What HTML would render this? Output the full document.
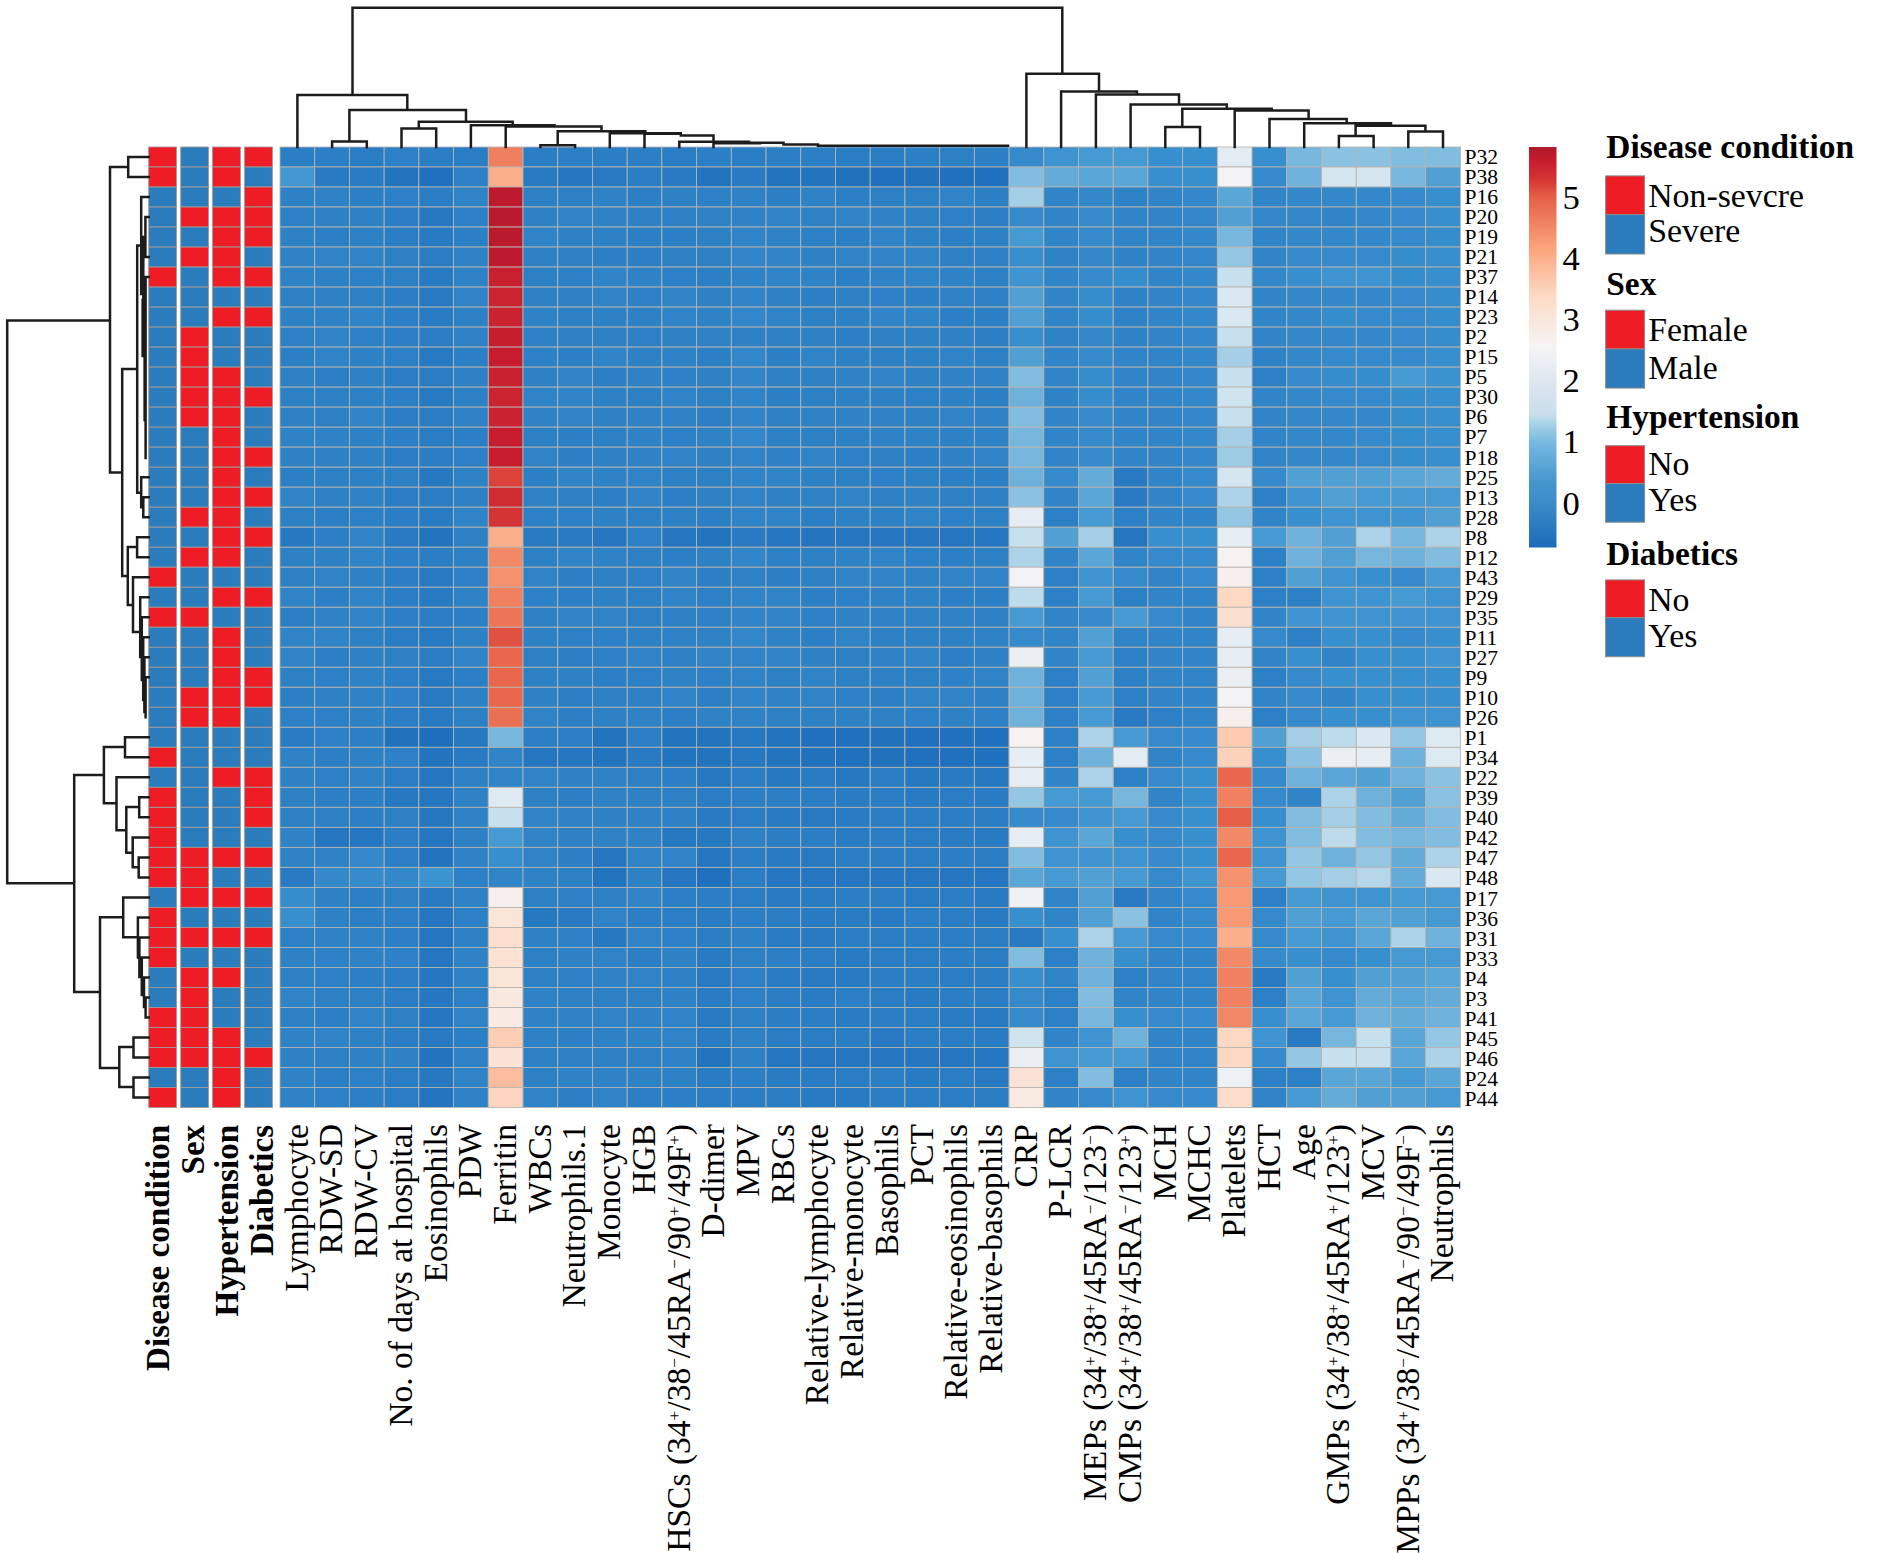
<!DOCTYPE html>
<html><head><meta charset="utf-8"><title>Clustered heatmap</title>
<style>html,body{margin:0;padding:0;background:#fff}svg{display:block}text{font-family:"Liberation Serif",serif}.sp{font-size:17px}</style></head>
<body>
<svg width="1890" height="1553" viewBox="0 0 1890 1553">
<defs><linearGradient id="cb" x1="0" y1="1" x2="0" y2="0">
<stop offset="0.0000" stop-color="#1a6bb9"/>
<stop offset="0.1108" stop-color="#3c8cc8"/>
<stop offset="0.1642" stop-color="#4696cd"/>
<stop offset="0.2177" stop-color="#5faad7"/>
<stop offset="0.2636" stop-color="#78b9e1"/>
<stop offset="0.3063" stop-color="#a5d2e8"/>
<stop offset="0.3323" stop-color="#c8deeb"/>
<stop offset="0.4163" stop-color="#dee6f0"/>
<stop offset="0.5004" stop-color="#f5f4f5"/>
<stop offset="0.6251" stop-color="#fddbc7"/>
<stop offset="0.7500" stop-color="#fba37a"/>
<stop offset="0.8747" stop-color="#e55f47"/>
<stop offset="0.9206" stop-color="#d43434"/>
<stop offset="0.9664" stop-color="#c61c2e"/>
<stop offset="1.0000" stop-color="#ae182b"/>
</linearGradient></defs>
<rect width="1890" height="1553" fill="#fff"/>
<g stroke="#a09a98" stroke-width="0.9">
<rect x="148.70" y="147.00" width="27.80" height="20.01" fill="#ee1c25"/>
<rect x="180.70" y="147.00" width="27.80" height="20.01" fill="#2a7cbd"/>
<rect x="212.60" y="147.00" width="27.80" height="20.01" fill="#ee1c25"/>
<rect x="244.60" y="147.00" width="27.80" height="20.01" fill="#ee1c25"/>
<rect x="148.70" y="167.01" width="27.80" height="20.01" fill="#ee1c25"/>
<rect x="180.70" y="167.01" width="27.80" height="20.01" fill="#2a7cbd"/>
<rect x="212.60" y="167.01" width="27.80" height="20.01" fill="#ee1c25"/>
<rect x="244.60" y="167.01" width="27.80" height="20.01" fill="#2a7cbd"/>
<rect x="148.70" y="187.02" width="27.80" height="20.01" fill="#2a7cbd"/>
<rect x="180.70" y="187.02" width="27.80" height="20.01" fill="#2a7cbd"/>
<rect x="212.60" y="187.02" width="27.80" height="20.01" fill="#2a7cbd"/>
<rect x="244.60" y="187.02" width="27.80" height="20.01" fill="#ee1c25"/>
<rect x="148.70" y="207.03" width="27.80" height="20.01" fill="#2a7cbd"/>
<rect x="180.70" y="207.03" width="27.80" height="20.01" fill="#ee1c25"/>
<rect x="212.60" y="207.03" width="27.80" height="20.01" fill="#ee1c25"/>
<rect x="244.60" y="207.03" width="27.80" height="20.01" fill="#ee1c25"/>
<rect x="148.70" y="227.04" width="27.80" height="20.01" fill="#2a7cbd"/>
<rect x="180.70" y="227.04" width="27.80" height="20.01" fill="#2a7cbd"/>
<rect x="212.60" y="227.04" width="27.80" height="20.01" fill="#ee1c25"/>
<rect x="244.60" y="227.04" width="27.80" height="20.01" fill="#ee1c25"/>
<rect x="148.70" y="247.05" width="27.80" height="20.01" fill="#2a7cbd"/>
<rect x="180.70" y="247.05" width="27.80" height="20.01" fill="#ee1c25"/>
<rect x="212.60" y="247.05" width="27.80" height="20.01" fill="#ee1c25"/>
<rect x="244.60" y="247.05" width="27.80" height="20.01" fill="#2a7cbd"/>
<rect x="148.70" y="267.06" width="27.80" height="20.01" fill="#ee1c25"/>
<rect x="180.70" y="267.06" width="27.80" height="20.01" fill="#2a7cbd"/>
<rect x="212.60" y="267.06" width="27.80" height="20.01" fill="#ee1c25"/>
<rect x="244.60" y="267.06" width="27.80" height="20.01" fill="#ee1c25"/>
<rect x="148.70" y="287.07" width="27.80" height="20.01" fill="#2a7cbd"/>
<rect x="180.70" y="287.07" width="27.80" height="20.01" fill="#2a7cbd"/>
<rect x="212.60" y="287.07" width="27.80" height="20.01" fill="#2a7cbd"/>
<rect x="244.60" y="287.07" width="27.80" height="20.01" fill="#2a7cbd"/>
<rect x="148.70" y="307.08" width="27.80" height="20.01" fill="#2a7cbd"/>
<rect x="180.70" y="307.08" width="27.80" height="20.01" fill="#2a7cbd"/>
<rect x="212.60" y="307.08" width="27.80" height="20.01" fill="#ee1c25"/>
<rect x="244.60" y="307.08" width="27.80" height="20.01" fill="#ee1c25"/>
<rect x="148.70" y="327.09" width="27.80" height="20.01" fill="#2a7cbd"/>
<rect x="180.70" y="327.09" width="27.80" height="20.01" fill="#ee1c25"/>
<rect x="212.60" y="327.09" width="27.80" height="20.01" fill="#2a7cbd"/>
<rect x="244.60" y="327.09" width="27.80" height="20.01" fill="#2a7cbd"/>
<rect x="148.70" y="347.10" width="27.80" height="20.01" fill="#2a7cbd"/>
<rect x="180.70" y="347.10" width="27.80" height="20.01" fill="#ee1c25"/>
<rect x="212.60" y="347.10" width="27.80" height="20.01" fill="#2a7cbd"/>
<rect x="244.60" y="347.10" width="27.80" height="20.01" fill="#2a7cbd"/>
<rect x="148.70" y="367.11" width="27.80" height="20.01" fill="#2a7cbd"/>
<rect x="180.70" y="367.11" width="27.80" height="20.01" fill="#ee1c25"/>
<rect x="212.60" y="367.11" width="27.80" height="20.01" fill="#ee1c25"/>
<rect x="244.60" y="367.11" width="27.80" height="20.01" fill="#2a7cbd"/>
<rect x="148.70" y="387.12" width="27.80" height="20.01" fill="#2a7cbd"/>
<rect x="180.70" y="387.12" width="27.80" height="20.01" fill="#ee1c25"/>
<rect x="212.60" y="387.12" width="27.80" height="20.01" fill="#ee1c25"/>
<rect x="244.60" y="387.12" width="27.80" height="20.01" fill="#ee1c25"/>
<rect x="148.70" y="407.14" width="27.80" height="20.01" fill="#2a7cbd"/>
<rect x="180.70" y="407.14" width="27.80" height="20.01" fill="#ee1c25"/>
<rect x="212.60" y="407.14" width="27.80" height="20.01" fill="#ee1c25"/>
<rect x="244.60" y="407.14" width="27.80" height="20.01" fill="#2a7cbd"/>
<rect x="148.70" y="427.15" width="27.80" height="20.01" fill="#2a7cbd"/>
<rect x="180.70" y="427.15" width="27.80" height="20.01" fill="#2a7cbd"/>
<rect x="212.60" y="427.15" width="27.80" height="20.01" fill="#ee1c25"/>
<rect x="244.60" y="427.15" width="27.80" height="20.01" fill="#2a7cbd"/>
<rect x="148.70" y="447.16" width="27.80" height="20.01" fill="#2a7cbd"/>
<rect x="180.70" y="447.16" width="27.80" height="20.01" fill="#2a7cbd"/>
<rect x="212.60" y="447.16" width="27.80" height="20.01" fill="#ee1c25"/>
<rect x="244.60" y="447.16" width="27.80" height="20.01" fill="#ee1c25"/>
<rect x="148.70" y="467.17" width="27.80" height="20.01" fill="#2a7cbd"/>
<rect x="180.70" y="467.17" width="27.80" height="20.01" fill="#2a7cbd"/>
<rect x="212.60" y="467.17" width="27.80" height="20.01" fill="#ee1c25"/>
<rect x="244.60" y="467.17" width="27.80" height="20.01" fill="#2a7cbd"/>
<rect x="148.70" y="487.18" width="27.80" height="20.01" fill="#2a7cbd"/>
<rect x="180.70" y="487.18" width="27.80" height="20.01" fill="#2a7cbd"/>
<rect x="212.60" y="487.18" width="27.80" height="20.01" fill="#ee1c25"/>
<rect x="244.60" y="487.18" width="27.80" height="20.01" fill="#ee1c25"/>
<rect x="148.70" y="507.19" width="27.80" height="20.01" fill="#2a7cbd"/>
<rect x="180.70" y="507.19" width="27.80" height="20.01" fill="#ee1c25"/>
<rect x="212.60" y="507.19" width="27.80" height="20.01" fill="#ee1c25"/>
<rect x="244.60" y="507.19" width="27.80" height="20.01" fill="#2a7cbd"/>
<rect x="148.70" y="527.20" width="27.80" height="20.01" fill="#2a7cbd"/>
<rect x="180.70" y="527.20" width="27.80" height="20.01" fill="#2a7cbd"/>
<rect x="212.60" y="527.20" width="27.80" height="20.01" fill="#ee1c25"/>
<rect x="244.60" y="527.20" width="27.80" height="20.01" fill="#ee1c25"/>
<rect x="148.70" y="547.21" width="27.80" height="20.01" fill="#2a7cbd"/>
<rect x="180.70" y="547.21" width="27.80" height="20.01" fill="#ee1c25"/>
<rect x="212.60" y="547.21" width="27.80" height="20.01" fill="#ee1c25"/>
<rect x="244.60" y="547.21" width="27.80" height="20.01" fill="#2a7cbd"/>
<rect x="148.70" y="567.22" width="27.80" height="20.01" fill="#ee1c25"/>
<rect x="180.70" y="567.22" width="27.80" height="20.01" fill="#2a7cbd"/>
<rect x="212.60" y="567.22" width="27.80" height="20.01" fill="#2a7cbd"/>
<rect x="244.60" y="567.22" width="27.80" height="20.01" fill="#2a7cbd"/>
<rect x="148.70" y="587.23" width="27.80" height="20.01" fill="#2a7cbd"/>
<rect x="180.70" y="587.23" width="27.80" height="20.01" fill="#2a7cbd"/>
<rect x="212.60" y="587.23" width="27.80" height="20.01" fill="#ee1c25"/>
<rect x="244.60" y="587.23" width="27.80" height="20.01" fill="#ee1c25"/>
<rect x="148.70" y="607.24" width="27.80" height="20.01" fill="#ee1c25"/>
<rect x="180.70" y="607.24" width="27.80" height="20.01" fill="#ee1c25"/>
<rect x="212.60" y="607.24" width="27.80" height="20.01" fill="#2a7cbd"/>
<rect x="244.60" y="607.24" width="27.80" height="20.01" fill="#2a7cbd"/>
<rect x="148.70" y="627.25" width="27.80" height="20.01" fill="#2a7cbd"/>
<rect x="180.70" y="627.25" width="27.80" height="20.01" fill="#2a7cbd"/>
<rect x="212.60" y="627.25" width="27.80" height="20.01" fill="#ee1c25"/>
<rect x="244.60" y="627.25" width="27.80" height="20.01" fill="#2a7cbd"/>
<rect x="148.70" y="647.26" width="27.80" height="20.01" fill="#2a7cbd"/>
<rect x="180.70" y="647.26" width="27.80" height="20.01" fill="#2a7cbd"/>
<rect x="212.60" y="647.26" width="27.80" height="20.01" fill="#ee1c25"/>
<rect x="244.60" y="647.26" width="27.80" height="20.01" fill="#2a7cbd"/>
<rect x="148.70" y="667.27" width="27.80" height="20.01" fill="#2a7cbd"/>
<rect x="180.70" y="667.27" width="27.80" height="20.01" fill="#2a7cbd"/>
<rect x="212.60" y="667.27" width="27.80" height="20.01" fill="#ee1c25"/>
<rect x="244.60" y="667.27" width="27.80" height="20.01" fill="#ee1c25"/>
<rect x="148.70" y="687.28" width="27.80" height="20.01" fill="#2a7cbd"/>
<rect x="180.70" y="687.28" width="27.80" height="20.01" fill="#ee1c25"/>
<rect x="212.60" y="687.28" width="27.80" height="20.01" fill="#ee1c25"/>
<rect x="244.60" y="687.28" width="27.80" height="20.01" fill="#ee1c25"/>
<rect x="148.70" y="707.29" width="27.80" height="20.01" fill="#2a7cbd"/>
<rect x="180.70" y="707.29" width="27.80" height="20.01" fill="#ee1c25"/>
<rect x="212.60" y="707.29" width="27.80" height="20.01" fill="#ee1c25"/>
<rect x="244.60" y="707.29" width="27.80" height="20.01" fill="#2a7cbd"/>
<rect x="148.70" y="727.30" width="27.80" height="20.01" fill="#2a7cbd"/>
<rect x="180.70" y="727.30" width="27.80" height="20.01" fill="#2a7cbd"/>
<rect x="212.60" y="727.30" width="27.80" height="20.01" fill="#2a7cbd"/>
<rect x="244.60" y="727.30" width="27.80" height="20.01" fill="#2a7cbd"/>
<rect x="148.70" y="747.31" width="27.80" height="20.01" fill="#ee1c25"/>
<rect x="180.70" y="747.31" width="27.80" height="20.01" fill="#2a7cbd"/>
<rect x="212.60" y="747.31" width="27.80" height="20.01" fill="#2a7cbd"/>
<rect x="244.60" y="747.31" width="27.80" height="20.01" fill="#2a7cbd"/>
<rect x="148.70" y="767.32" width="27.80" height="20.01" fill="#2a7cbd"/>
<rect x="180.70" y="767.32" width="27.80" height="20.01" fill="#2a7cbd"/>
<rect x="212.60" y="767.32" width="27.80" height="20.01" fill="#ee1c25"/>
<rect x="244.60" y="767.32" width="27.80" height="20.01" fill="#ee1c25"/>
<rect x="148.70" y="787.33" width="27.80" height="20.01" fill="#ee1c25"/>
<rect x="180.70" y="787.33" width="27.80" height="20.01" fill="#2a7cbd"/>
<rect x="212.60" y="787.33" width="27.80" height="20.01" fill="#2a7cbd"/>
<rect x="244.60" y="787.33" width="27.80" height="20.01" fill="#ee1c25"/>
<rect x="148.70" y="807.34" width="27.80" height="20.01" fill="#ee1c25"/>
<rect x="180.70" y="807.34" width="27.80" height="20.01" fill="#2a7cbd"/>
<rect x="212.60" y="807.34" width="27.80" height="20.01" fill="#2a7cbd"/>
<rect x="244.60" y="807.34" width="27.80" height="20.01" fill="#ee1c25"/>
<rect x="148.70" y="827.35" width="27.80" height="20.01" fill="#ee1c25"/>
<rect x="180.70" y="827.35" width="27.80" height="20.01" fill="#2a7cbd"/>
<rect x="212.60" y="827.35" width="27.80" height="20.01" fill="#2a7cbd"/>
<rect x="244.60" y="827.35" width="27.80" height="20.01" fill="#2a7cbd"/>
<rect x="148.70" y="847.36" width="27.80" height="20.01" fill="#ee1c25"/>
<rect x="180.70" y="847.36" width="27.80" height="20.01" fill="#ee1c25"/>
<rect x="212.60" y="847.36" width="27.80" height="20.01" fill="#ee1c25"/>
<rect x="244.60" y="847.36" width="27.80" height="20.01" fill="#ee1c25"/>
<rect x="148.70" y="867.38" width="27.80" height="20.01" fill="#ee1c25"/>
<rect x="180.70" y="867.38" width="27.80" height="20.01" fill="#ee1c25"/>
<rect x="212.60" y="867.38" width="27.80" height="20.01" fill="#2a7cbd"/>
<rect x="244.60" y="867.38" width="27.80" height="20.01" fill="#2a7cbd"/>
<rect x="148.70" y="887.39" width="27.80" height="20.01" fill="#2a7cbd"/>
<rect x="180.70" y="887.39" width="27.80" height="20.01" fill="#ee1c25"/>
<rect x="212.60" y="887.39" width="27.80" height="20.01" fill="#ee1c25"/>
<rect x="244.60" y="887.39" width="27.80" height="20.01" fill="#ee1c25"/>
<rect x="148.70" y="907.40" width="27.80" height="20.01" fill="#ee1c25"/>
<rect x="180.70" y="907.40" width="27.80" height="20.01" fill="#2a7cbd"/>
<rect x="212.60" y="907.40" width="27.80" height="20.01" fill="#2a7cbd"/>
<rect x="244.60" y="907.40" width="27.80" height="20.01" fill="#2a7cbd"/>
<rect x="148.70" y="927.41" width="27.80" height="20.01" fill="#ee1c25"/>
<rect x="180.70" y="927.41" width="27.80" height="20.01" fill="#ee1c25"/>
<rect x="212.60" y="927.41" width="27.80" height="20.01" fill="#ee1c25"/>
<rect x="244.60" y="927.41" width="27.80" height="20.01" fill="#ee1c25"/>
<rect x="148.70" y="947.42" width="27.80" height="20.01" fill="#ee1c25"/>
<rect x="180.70" y="947.42" width="27.80" height="20.01" fill="#2a7cbd"/>
<rect x="212.60" y="947.42" width="27.80" height="20.01" fill="#2a7cbd"/>
<rect x="244.60" y="947.42" width="27.80" height="20.01" fill="#2a7cbd"/>
<rect x="148.70" y="967.43" width="27.80" height="20.01" fill="#2a7cbd"/>
<rect x="180.70" y="967.43" width="27.80" height="20.01" fill="#ee1c25"/>
<rect x="212.60" y="967.43" width="27.80" height="20.01" fill="#ee1c25"/>
<rect x="244.60" y="967.43" width="27.80" height="20.01" fill="#2a7cbd"/>
<rect x="148.70" y="987.44" width="27.80" height="20.01" fill="#2a7cbd"/>
<rect x="180.70" y="987.44" width="27.80" height="20.01" fill="#ee1c25"/>
<rect x="212.60" y="987.44" width="27.80" height="20.01" fill="#2a7cbd"/>
<rect x="244.60" y="987.44" width="27.80" height="20.01" fill="#2a7cbd"/>
<rect x="148.70" y="1007.45" width="27.80" height="20.01" fill="#ee1c25"/>
<rect x="180.70" y="1007.45" width="27.80" height="20.01" fill="#ee1c25"/>
<rect x="212.60" y="1007.45" width="27.80" height="20.01" fill="#2a7cbd"/>
<rect x="244.60" y="1007.45" width="27.80" height="20.01" fill="#2a7cbd"/>
<rect x="148.70" y="1027.46" width="27.80" height="20.01" fill="#ee1c25"/>
<rect x="180.70" y="1027.46" width="27.80" height="20.01" fill="#ee1c25"/>
<rect x="212.60" y="1027.46" width="27.80" height="20.01" fill="#ee1c25"/>
<rect x="244.60" y="1027.46" width="27.80" height="20.01" fill="#2a7cbd"/>
<rect x="148.70" y="1047.47" width="27.80" height="20.01" fill="#ee1c25"/>
<rect x="180.70" y="1047.47" width="27.80" height="20.01" fill="#ee1c25"/>
<rect x="212.60" y="1047.47" width="27.80" height="20.01" fill="#ee1c25"/>
<rect x="244.60" y="1047.47" width="27.80" height="20.01" fill="#ee1c25"/>
<rect x="148.70" y="1067.48" width="27.80" height="20.01" fill="#2a7cbd"/>
<rect x="180.70" y="1067.48" width="27.80" height="20.01" fill="#2a7cbd"/>
<rect x="212.60" y="1067.48" width="27.80" height="20.01" fill="#ee1c25"/>
<rect x="244.60" y="1067.48" width="27.80" height="20.01" fill="#2a7cbd"/>
<rect x="148.70" y="1087.49" width="27.80" height="20.01" fill="#ee1c25"/>
<rect x="180.70" y="1087.49" width="27.80" height="20.01" fill="#2a7cbd"/>
<rect x="212.60" y="1087.49" width="27.80" height="20.01" fill="#ee1c25"/>
<rect x="244.60" y="1087.49" width="27.80" height="20.01" fill="#2a7cbd"/>
</g>
<g stroke="#b8b4b0" stroke-width="0.85">
<rect x="280.00" y="147.00" width="34.72" height="20.01" fill="#2a7ec4"/>
<rect x="314.72" y="147.00" width="34.72" height="20.01" fill="#2b80c5"/>
<rect x="349.44" y="147.00" width="34.72" height="20.01" fill="#297dc3"/>
<rect x="384.15" y="147.00" width="34.72" height="20.01" fill="#2c80c5"/>
<rect x="418.87" y="147.00" width="34.72" height="20.01" fill="#2a7fc4"/>
<rect x="453.59" y="147.00" width="34.72" height="20.01" fill="#297dc3"/>
<rect x="488.31" y="147.00" width="34.72" height="20.01" fill="#ef7f5f"/>
<rect x="523.02" y="147.00" width="34.72" height="20.01" fill="#2a7ec4"/>
<rect x="557.74" y="147.00" width="34.72" height="20.01" fill="#2b7fc4"/>
<rect x="592.46" y="147.00" width="34.72" height="20.01" fill="#2a7fc4"/>
<rect x="627.18" y="147.00" width="34.72" height="20.01" fill="#2b80c5"/>
<rect x="661.89" y="147.00" width="34.72" height="20.01" fill="#297dc3"/>
<rect x="696.61" y="147.00" width="34.72" height="20.01" fill="#2b80c5"/>
<rect x="731.33" y="147.00" width="34.72" height="20.01" fill="#2a7ec4"/>
<rect x="766.05" y="147.00" width="34.72" height="20.01" fill="#2b7fc4"/>
<rect x="800.76" y="147.00" width="34.72" height="20.01" fill="#2b7fc4"/>
<rect x="835.48" y="147.00" width="34.72" height="20.01" fill="#2a7ec4"/>
<rect x="870.20" y="147.00" width="34.72" height="20.01" fill="#2a7ec4"/>
<rect x="904.92" y="147.00" width="34.72" height="20.01" fill="#2b80c5"/>
<rect x="939.64" y="147.00" width="34.72" height="20.01" fill="#2c81c5"/>
<rect x="974.35" y="147.00" width="34.72" height="20.01" fill="#2b80c5"/>
<rect x="1009.07" y="147.00" width="34.72" height="20.01" fill="#348acb"/>
<rect x="1043.79" y="147.00" width="34.72" height="20.01" fill="#3d94d0"/>
<rect x="1078.51" y="147.00" width="34.72" height="20.01" fill="#469ad2"/>
<rect x="1113.22" y="147.00" width="34.72" height="20.01" fill="#469ad2"/>
<rect x="1147.94" y="147.00" width="34.72" height="20.01" fill="#388fcd"/>
<rect x="1182.66" y="147.00" width="34.72" height="20.01" fill="#388fcd"/>
<rect x="1217.38" y="147.00" width="34.72" height="20.01" fill="#e2ecf2"/>
<rect x="1252.09" y="147.00" width="34.72" height="20.01" fill="#388fcd"/>
<rect x="1286.81" y="147.00" width="34.72" height="20.01" fill="#77b7dd"/>
<rect x="1321.53" y="147.00" width="34.72" height="20.01" fill="#8bc2e1"/>
<rect x="1356.25" y="147.00" width="34.72" height="20.01" fill="#8bc2e1"/>
<rect x="1390.96" y="147.00" width="34.72" height="20.01" fill="#81bddf"/>
<rect x="1425.68" y="147.00" width="34.72" height="20.01" fill="#81bddf"/>
<rect x="280.00" y="167.01" width="34.72" height="20.01" fill="#4297d1"/>
<rect x="314.72" y="167.01" width="34.72" height="20.01" fill="#287bc2"/>
<rect x="349.44" y="167.01" width="34.72" height="20.01" fill="#287cc3"/>
<rect x="384.15" y="167.01" width="34.72" height="20.01" fill="#2174be"/>
<rect x="418.87" y="167.01" width="34.72" height="20.01" fill="#1f71bd"/>
<rect x="453.59" y="167.01" width="34.72" height="20.01" fill="#2c80c5"/>
<rect x="488.31" y="167.01" width="34.72" height="20.01" fill="#fbb08b"/>
<rect x="523.02" y="167.01" width="34.72" height="20.01" fill="#287bc2"/>
<rect x="557.74" y="167.01" width="34.72" height="20.01" fill="#2376bf"/>
<rect x="592.46" y="167.01" width="34.72" height="20.01" fill="#277ac2"/>
<rect x="627.18" y="167.01" width="34.72" height="20.01" fill="#2a7ec4"/>
<rect x="661.89" y="167.01" width="34.72" height="20.01" fill="#287bc2"/>
<rect x="696.61" y="167.01" width="34.72" height="20.01" fill="#2174be"/>
<rect x="731.33" y="167.01" width="34.72" height="20.01" fill="#287bc2"/>
<rect x="766.05" y="167.01" width="34.72" height="20.01" fill="#2174be"/>
<rect x="800.76" y="167.01" width="34.72" height="20.01" fill="#2174be"/>
<rect x="835.48" y="167.01" width="34.72" height="20.01" fill="#2072bd"/>
<rect x="870.20" y="167.01" width="34.72" height="20.01" fill="#1f71bd"/>
<rect x="904.92" y="167.01" width="34.72" height="20.01" fill="#2072bd"/>
<rect x="939.64" y="167.01" width="34.72" height="20.01" fill="#1f71bd"/>
<rect x="974.35" y="167.01" width="34.72" height="20.01" fill="#1f71bd"/>
<rect x="1009.07" y="167.01" width="34.72" height="20.01" fill="#81bddf"/>
<rect x="1043.79" y="167.01" width="34.72" height="20.01" fill="#64abd8"/>
<rect x="1078.51" y="167.01" width="34.72" height="20.01" fill="#5aa6d6"/>
<rect x="1113.22" y="167.01" width="34.72" height="20.01" fill="#5aa6d6"/>
<rect x="1147.94" y="167.01" width="34.72" height="20.01" fill="#388fcd"/>
<rect x="1182.66" y="167.01" width="34.72" height="20.01" fill="#388fcd"/>
<rect x="1217.38" y="167.01" width="34.72" height="20.01" fill="#f3f3f5"/>
<rect x="1252.09" y="167.01" width="34.72" height="20.01" fill="#348acb"/>
<rect x="1286.81" y="167.01" width="34.72" height="20.01" fill="#6eb1db"/>
<rect x="1321.53" y="167.01" width="34.72" height="20.01" fill="#d5e6f0"/>
<rect x="1356.25" y="167.01" width="34.72" height="20.01" fill="#d5e6f0"/>
<rect x="1390.96" y="167.01" width="34.72" height="20.01" fill="#77b7dd"/>
<rect x="1425.68" y="167.01" width="34.72" height="20.01" fill="#50a0d4"/>
<rect x="280.00" y="187.02" width="34.72" height="20.01" fill="#2d82c6"/>
<rect x="314.72" y="187.02" width="34.72" height="20.01" fill="#2e83c6"/>
<rect x="349.44" y="187.02" width="34.72" height="20.01" fill="#2b80c5"/>
<rect x="384.15" y="187.02" width="34.72" height="20.01" fill="#2c80c5"/>
<rect x="418.87" y="187.02" width="34.72" height="20.01" fill="#297dc3"/>
<rect x="453.59" y="187.02" width="34.72" height="20.01" fill="#2f84c7"/>
<rect x="488.31" y="187.02" width="34.72" height="20.01" fill="#bd1b2d"/>
<rect x="523.02" y="187.02" width="34.72" height="20.01" fill="#2c81c5"/>
<rect x="557.74" y="187.02" width="34.72" height="20.01" fill="#2c81c5"/>
<rect x="592.46" y="187.02" width="34.72" height="20.01" fill="#2e83c6"/>
<rect x="627.18" y="187.02" width="34.72" height="20.01" fill="#2b7fc4"/>
<rect x="661.89" y="187.02" width="34.72" height="20.01" fill="#2d82c6"/>
<rect x="696.61" y="187.02" width="34.72" height="20.01" fill="#2c80c5"/>
<rect x="731.33" y="187.02" width="34.72" height="20.01" fill="#2e83c6"/>
<rect x="766.05" y="187.02" width="34.72" height="20.01" fill="#2b80c5"/>
<rect x="800.76" y="187.02" width="34.72" height="20.01" fill="#2e83c7"/>
<rect x="835.48" y="187.02" width="34.72" height="20.01" fill="#2b80c5"/>
<rect x="870.20" y="187.02" width="34.72" height="20.01" fill="#2c81c5"/>
<rect x="904.92" y="187.02" width="34.72" height="20.01" fill="#2c81c5"/>
<rect x="939.64" y="187.02" width="34.72" height="20.01" fill="#2e84c7"/>
<rect x="974.35" y="187.02" width="34.72" height="20.01" fill="#2b80c5"/>
<rect x="1009.07" y="187.02" width="34.72" height="20.01" fill="#a5cfe6"/>
<rect x="1043.79" y="187.02" width="34.72" height="20.01" fill="#3085c8"/>
<rect x="1078.51" y="187.02" width="34.72" height="20.01" fill="#3288c9"/>
<rect x="1113.22" y="187.02" width="34.72" height="20.01" fill="#2e83c6"/>
<rect x="1147.94" y="187.02" width="34.72" height="20.01" fill="#3085c8"/>
<rect x="1182.66" y="187.02" width="34.72" height="20.01" fill="#3288c9"/>
<rect x="1217.38" y="187.02" width="34.72" height="20.01" fill="#5aa6d6"/>
<rect x="1252.09" y="187.02" width="34.72" height="20.01" fill="#3085c8"/>
<rect x="1286.81" y="187.02" width="34.72" height="20.01" fill="#3288c9"/>
<rect x="1321.53" y="187.02" width="34.72" height="20.01" fill="#3288c9"/>
<rect x="1356.25" y="187.02" width="34.72" height="20.01" fill="#3288c9"/>
<rect x="1390.96" y="187.02" width="34.72" height="20.01" fill="#348acb"/>
<rect x="1425.68" y="187.02" width="34.72" height="20.01" fill="#388fcd"/>
<rect x="280.00" y="207.03" width="34.72" height="20.01" fill="#2c80c5"/>
<rect x="314.72" y="207.03" width="34.72" height="20.01" fill="#2d82c6"/>
<rect x="349.44" y="207.03" width="34.72" height="20.01" fill="#2d82c6"/>
<rect x="384.15" y="207.03" width="34.72" height="20.01" fill="#2a7ec4"/>
<rect x="418.87" y="207.03" width="34.72" height="20.01" fill="#2679c1"/>
<rect x="453.59" y="207.03" width="34.72" height="20.01" fill="#2d81c6"/>
<rect x="488.31" y="207.03" width="34.72" height="20.01" fill="#b91a2c"/>
<rect x="523.02" y="207.03" width="34.72" height="20.01" fill="#2d82c6"/>
<rect x="557.74" y="207.03" width="34.72" height="20.01" fill="#2f84c7"/>
<rect x="592.46" y="207.03" width="34.72" height="20.01" fill="#2e83c6"/>
<rect x="627.18" y="207.03" width="34.72" height="20.01" fill="#2d82c6"/>
<rect x="661.89" y="207.03" width="34.72" height="20.01" fill="#2d82c6"/>
<rect x="696.61" y="207.03" width="34.72" height="20.01" fill="#2e83c6"/>
<rect x="731.33" y="207.03" width="34.72" height="20.01" fill="#2e83c6"/>
<rect x="766.05" y="207.03" width="34.72" height="20.01" fill="#2f84c7"/>
<rect x="800.76" y="207.03" width="34.72" height="20.01" fill="#2e83c7"/>
<rect x="835.48" y="207.03" width="34.72" height="20.01" fill="#2e84c7"/>
<rect x="870.20" y="207.03" width="34.72" height="20.01" fill="#2e83c7"/>
<rect x="904.92" y="207.03" width="34.72" height="20.01" fill="#2c81c5"/>
<rect x="939.64" y="207.03" width="34.72" height="20.01" fill="#2c81c6"/>
<rect x="974.35" y="207.03" width="34.72" height="20.01" fill="#2b80c5"/>
<rect x="1009.07" y="207.03" width="34.72" height="20.01" fill="#348acb"/>
<rect x="1043.79" y="207.03" width="34.72" height="20.01" fill="#3085c8"/>
<rect x="1078.51" y="207.03" width="34.72" height="20.01" fill="#348acb"/>
<rect x="1113.22" y="207.03" width="34.72" height="20.01" fill="#3085c8"/>
<rect x="1147.94" y="207.03" width="34.72" height="20.01" fill="#3085c8"/>
<rect x="1182.66" y="207.03" width="34.72" height="20.01" fill="#3288c9"/>
<rect x="1217.38" y="207.03" width="34.72" height="20.01" fill="#50a0d4"/>
<rect x="1252.09" y="207.03" width="34.72" height="20.01" fill="#3288c9"/>
<rect x="1286.81" y="207.03" width="34.72" height="20.01" fill="#3288c9"/>
<rect x="1321.53" y="207.03" width="34.72" height="20.01" fill="#3085c8"/>
<rect x="1356.25" y="207.03" width="34.72" height="20.01" fill="#3288c9"/>
<rect x="1390.96" y="207.03" width="34.72" height="20.01" fill="#348acb"/>
<rect x="1425.68" y="207.03" width="34.72" height="20.01" fill="#388fcd"/>
<rect x="280.00" y="227.04" width="34.72" height="20.01" fill="#2d82c6"/>
<rect x="314.72" y="227.04" width="34.72" height="20.01" fill="#2b80c5"/>
<rect x="349.44" y="227.04" width="34.72" height="20.01" fill="#2c81c5"/>
<rect x="384.15" y="227.04" width="34.72" height="20.01" fill="#2a7fc4"/>
<rect x="418.87" y="227.04" width="34.72" height="20.01" fill="#277bc2"/>
<rect x="453.59" y="227.04" width="34.72" height="20.01" fill="#2b80c5"/>
<rect x="488.31" y="227.04" width="34.72" height="20.01" fill="#b91a2c"/>
<rect x="523.02" y="227.04" width="34.72" height="20.01" fill="#2f84c7"/>
<rect x="557.74" y="227.04" width="34.72" height="20.01" fill="#2d82c6"/>
<rect x="592.46" y="227.04" width="34.72" height="20.01" fill="#2d82c6"/>
<rect x="627.18" y="227.04" width="34.72" height="20.01" fill="#2b80c5"/>
<rect x="661.89" y="227.04" width="34.72" height="20.01" fill="#2b80c5"/>
<rect x="696.61" y="227.04" width="34.72" height="20.01" fill="#2c81c5"/>
<rect x="731.33" y="227.04" width="34.72" height="20.01" fill="#2e84c7"/>
<rect x="766.05" y="227.04" width="34.72" height="20.01" fill="#2e83c7"/>
<rect x="800.76" y="227.04" width="34.72" height="20.01" fill="#2c80c5"/>
<rect x="835.48" y="227.04" width="34.72" height="20.01" fill="#2b7fc4"/>
<rect x="870.20" y="227.04" width="34.72" height="20.01" fill="#2f84c7"/>
<rect x="904.92" y="227.04" width="34.72" height="20.01" fill="#2d82c6"/>
<rect x="939.64" y="227.04" width="34.72" height="20.01" fill="#2b80c5"/>
<rect x="974.35" y="227.04" width="34.72" height="20.01" fill="#2d82c6"/>
<rect x="1009.07" y="227.04" width="34.72" height="20.01" fill="#469ad2"/>
<rect x="1043.79" y="227.04" width="34.72" height="20.01" fill="#3085c8"/>
<rect x="1078.51" y="227.04" width="34.72" height="20.01" fill="#348acb"/>
<rect x="1113.22" y="227.04" width="34.72" height="20.01" fill="#3085c8"/>
<rect x="1147.94" y="227.04" width="34.72" height="20.01" fill="#3085c8"/>
<rect x="1182.66" y="227.04" width="34.72" height="20.01" fill="#3288c9"/>
<rect x="1217.38" y="227.04" width="34.72" height="20.01" fill="#77b7dd"/>
<rect x="1252.09" y="227.04" width="34.72" height="20.01" fill="#3085c8"/>
<rect x="1286.81" y="227.04" width="34.72" height="20.01" fill="#3288c9"/>
<rect x="1321.53" y="227.04" width="34.72" height="20.01" fill="#3288c9"/>
<rect x="1356.25" y="227.04" width="34.72" height="20.01" fill="#3288c9"/>
<rect x="1390.96" y="227.04" width="34.72" height="20.01" fill="#348acb"/>
<rect x="1425.68" y="227.04" width="34.72" height="20.01" fill="#368dcc"/>
<rect x="280.00" y="247.05" width="34.72" height="20.01" fill="#2e83c7"/>
<rect x="314.72" y="247.05" width="34.72" height="20.01" fill="#2f84c7"/>
<rect x="349.44" y="247.05" width="34.72" height="20.01" fill="#2e84c7"/>
<rect x="384.15" y="247.05" width="34.72" height="20.01" fill="#2c81c5"/>
<rect x="418.87" y="247.05" width="34.72" height="20.01" fill="#297dc3"/>
<rect x="453.59" y="247.05" width="34.72" height="20.01" fill="#2e83c6"/>
<rect x="488.31" y="247.05" width="34.72" height="20.01" fill="#bd1b2d"/>
<rect x="523.02" y="247.05" width="34.72" height="20.01" fill="#2d82c6"/>
<rect x="557.74" y="247.05" width="34.72" height="20.01" fill="#2c81c5"/>
<rect x="592.46" y="247.05" width="34.72" height="20.01" fill="#2b7fc4"/>
<rect x="627.18" y="247.05" width="34.72" height="20.01" fill="#2b7fc4"/>
<rect x="661.89" y="247.05" width="34.72" height="20.01" fill="#2c81c5"/>
<rect x="696.61" y="247.05" width="34.72" height="20.01" fill="#2c81c5"/>
<rect x="731.33" y="247.05" width="34.72" height="20.01" fill="#3086c8"/>
<rect x="766.05" y="247.05" width="34.72" height="20.01" fill="#2f84c7"/>
<rect x="800.76" y="247.05" width="34.72" height="20.01" fill="#2d82c6"/>
<rect x="835.48" y="247.05" width="34.72" height="20.01" fill="#2f84c7"/>
<rect x="870.20" y="247.05" width="34.72" height="20.01" fill="#2f84c7"/>
<rect x="904.92" y="247.05" width="34.72" height="20.01" fill="#2f84c7"/>
<rect x="939.64" y="247.05" width="34.72" height="20.01" fill="#2c81c5"/>
<rect x="974.35" y="247.05" width="34.72" height="20.01" fill="#2c80c5"/>
<rect x="1009.07" y="247.05" width="34.72" height="20.01" fill="#388fcd"/>
<rect x="1043.79" y="247.05" width="34.72" height="20.01" fill="#2e83c6"/>
<rect x="1078.51" y="247.05" width="34.72" height="20.01" fill="#3288c9"/>
<rect x="1113.22" y="247.05" width="34.72" height="20.01" fill="#2e83c6"/>
<rect x="1147.94" y="247.05" width="34.72" height="20.01" fill="#3085c8"/>
<rect x="1182.66" y="247.05" width="34.72" height="20.01" fill="#3288c9"/>
<rect x="1217.38" y="247.05" width="34.72" height="20.01" fill="#94c7e3"/>
<rect x="1252.09" y="247.05" width="34.72" height="20.01" fill="#3085c8"/>
<rect x="1286.81" y="247.05" width="34.72" height="20.01" fill="#348acb"/>
<rect x="1321.53" y="247.05" width="34.72" height="20.01" fill="#348acb"/>
<rect x="1356.25" y="247.05" width="34.72" height="20.01" fill="#348acb"/>
<rect x="1390.96" y="247.05" width="34.72" height="20.01" fill="#368dcc"/>
<rect x="1425.68" y="247.05" width="34.72" height="20.01" fill="#388fcd"/>
<rect x="280.00" y="267.06" width="34.72" height="20.01" fill="#2e83c6"/>
<rect x="314.72" y="267.06" width="34.72" height="20.01" fill="#2d82c6"/>
<rect x="349.44" y="267.06" width="34.72" height="20.01" fill="#2c80c5"/>
<rect x="384.15" y="267.06" width="34.72" height="20.01" fill="#2c81c5"/>
<rect x="418.87" y="267.06" width="34.72" height="20.01" fill="#277bc2"/>
<rect x="453.59" y="267.06" width="34.72" height="20.01" fill="#2e83c7"/>
<rect x="488.31" y="267.06" width="34.72" height="20.01" fill="#c8202f"/>
<rect x="523.02" y="267.06" width="34.72" height="20.01" fill="#2c81c5"/>
<rect x="557.74" y="267.06" width="34.72" height="20.01" fill="#2c81c6"/>
<rect x="592.46" y="267.06" width="34.72" height="20.01" fill="#2f84c7"/>
<rect x="627.18" y="267.06" width="34.72" height="20.01" fill="#2e83c6"/>
<rect x="661.89" y="267.06" width="34.72" height="20.01" fill="#2c80c5"/>
<rect x="696.61" y="267.06" width="34.72" height="20.01" fill="#2b80c5"/>
<rect x="731.33" y="267.06" width="34.72" height="20.01" fill="#2e83c6"/>
<rect x="766.05" y="267.06" width="34.72" height="20.01" fill="#2f84c7"/>
<rect x="800.76" y="267.06" width="34.72" height="20.01" fill="#2e83c7"/>
<rect x="835.48" y="267.06" width="34.72" height="20.01" fill="#2b80c5"/>
<rect x="870.20" y="267.06" width="34.72" height="20.01" fill="#2e83c7"/>
<rect x="904.92" y="267.06" width="34.72" height="20.01" fill="#2f84c7"/>
<rect x="939.64" y="267.06" width="34.72" height="20.01" fill="#2e83c6"/>
<rect x="974.35" y="267.06" width="34.72" height="20.01" fill="#2c81c5"/>
<rect x="1009.07" y="267.06" width="34.72" height="20.01" fill="#3d94d0"/>
<rect x="1043.79" y="267.06" width="34.72" height="20.01" fill="#3085c8"/>
<rect x="1078.51" y="267.06" width="34.72" height="20.01" fill="#348acb"/>
<rect x="1113.22" y="267.06" width="34.72" height="20.01" fill="#368dcc"/>
<rect x="1147.94" y="267.06" width="34.72" height="20.01" fill="#3085c8"/>
<rect x="1182.66" y="267.06" width="34.72" height="20.01" fill="#3288c9"/>
<rect x="1217.38" y="267.06" width="34.72" height="20.01" fill="#c7e0ee"/>
<rect x="1252.09" y="267.06" width="34.72" height="20.01" fill="#3288c9"/>
<rect x="1286.81" y="267.06" width="34.72" height="20.01" fill="#388fcd"/>
<rect x="1321.53" y="267.06" width="34.72" height="20.01" fill="#3d94d0"/>
<rect x="1356.25" y="267.06" width="34.72" height="20.01" fill="#3d94d0"/>
<rect x="1390.96" y="267.06" width="34.72" height="20.01" fill="#368dcc"/>
<rect x="1425.68" y="267.06" width="34.72" height="20.01" fill="#388fcd"/>
<rect x="280.00" y="287.07" width="34.72" height="20.01" fill="#2c81c5"/>
<rect x="314.72" y="287.07" width="34.72" height="20.01" fill="#2d82c6"/>
<rect x="349.44" y="287.07" width="34.72" height="20.01" fill="#2c81c5"/>
<rect x="384.15" y="287.07" width="34.72" height="20.01" fill="#2a7fc4"/>
<rect x="418.87" y="287.07" width="34.72" height="20.01" fill="#267ac1"/>
<rect x="453.59" y="287.07" width="34.72" height="20.01" fill="#2f84c7"/>
<rect x="488.31" y="287.07" width="34.72" height="20.01" fill="#cb2430"/>
<rect x="523.02" y="287.07" width="34.72" height="20.01" fill="#2d82c6"/>
<rect x="557.74" y="287.07" width="34.72" height="20.01" fill="#2d82c6"/>
<rect x="592.46" y="287.07" width="34.72" height="20.01" fill="#2f84c7"/>
<rect x="627.18" y="287.07" width="34.72" height="20.01" fill="#2d81c6"/>
<rect x="661.89" y="287.07" width="34.72" height="20.01" fill="#2f84c7"/>
<rect x="696.61" y="287.07" width="34.72" height="20.01" fill="#2d82c6"/>
<rect x="731.33" y="287.07" width="34.72" height="20.01" fill="#3085c8"/>
<rect x="766.05" y="287.07" width="34.72" height="20.01" fill="#2d82c6"/>
<rect x="800.76" y="287.07" width="34.72" height="20.01" fill="#2b7fc4"/>
<rect x="835.48" y="287.07" width="34.72" height="20.01" fill="#2d82c6"/>
<rect x="870.20" y="287.07" width="34.72" height="20.01" fill="#2c80c5"/>
<rect x="904.92" y="287.07" width="34.72" height="20.01" fill="#2b7fc4"/>
<rect x="939.64" y="287.07" width="34.72" height="20.01" fill="#2e83c7"/>
<rect x="974.35" y="287.07" width="34.72" height="20.01" fill="#2c80c5"/>
<rect x="1009.07" y="287.07" width="34.72" height="20.01" fill="#50a0d4"/>
<rect x="1043.79" y="287.07" width="34.72" height="20.01" fill="#3085c8"/>
<rect x="1078.51" y="287.07" width="34.72" height="20.01" fill="#368dcc"/>
<rect x="1113.22" y="287.07" width="34.72" height="20.01" fill="#2e83c6"/>
<rect x="1147.94" y="287.07" width="34.72" height="20.01" fill="#3085c8"/>
<rect x="1182.66" y="287.07" width="34.72" height="20.01" fill="#3288c9"/>
<rect x="1217.38" y="287.07" width="34.72" height="20.01" fill="#d9e8f1"/>
<rect x="1252.09" y="287.07" width="34.72" height="20.01" fill="#3085c8"/>
<rect x="1286.81" y="287.07" width="34.72" height="20.01" fill="#3288c9"/>
<rect x="1321.53" y="287.07" width="34.72" height="20.01" fill="#3288c9"/>
<rect x="1356.25" y="287.07" width="34.72" height="20.01" fill="#3288c9"/>
<rect x="1390.96" y="287.07" width="34.72" height="20.01" fill="#348acb"/>
<rect x="1425.68" y="287.07" width="34.72" height="20.01" fill="#368dcc"/>
<rect x="280.00" y="307.08" width="34.72" height="20.01" fill="#2d82c6"/>
<rect x="314.72" y="307.08" width="34.72" height="20.01" fill="#2e83c7"/>
<rect x="349.44" y="307.08" width="34.72" height="20.01" fill="#2f84c7"/>
<rect x="384.15" y="307.08" width="34.72" height="20.01" fill="#2b7fc4"/>
<rect x="418.87" y="307.08" width="34.72" height="20.01" fill="#287cc3"/>
<rect x="453.59" y="307.08" width="34.72" height="20.01" fill="#2d82c6"/>
<rect x="488.31" y="307.08" width="34.72" height="20.01" fill="#ca2230"/>
<rect x="523.02" y="307.08" width="34.72" height="20.01" fill="#2e83c6"/>
<rect x="557.74" y="307.08" width="34.72" height="20.01" fill="#2d82c6"/>
<rect x="592.46" y="307.08" width="34.72" height="20.01" fill="#2d82c6"/>
<rect x="627.18" y="307.08" width="34.72" height="20.01" fill="#2d82c6"/>
<rect x="661.89" y="307.08" width="34.72" height="20.01" fill="#2f84c7"/>
<rect x="696.61" y="307.08" width="34.72" height="20.01" fill="#2e83c6"/>
<rect x="731.33" y="307.08" width="34.72" height="20.01" fill="#3187c9"/>
<rect x="766.05" y="307.08" width="34.72" height="20.01" fill="#2f84c7"/>
<rect x="800.76" y="307.08" width="34.72" height="20.01" fill="#2c81c5"/>
<rect x="835.48" y="307.08" width="34.72" height="20.01" fill="#2d82c6"/>
<rect x="870.20" y="307.08" width="34.72" height="20.01" fill="#2f84c7"/>
<rect x="904.92" y="307.08" width="34.72" height="20.01" fill="#2e84c7"/>
<rect x="939.64" y="307.08" width="34.72" height="20.01" fill="#2b80c5"/>
<rect x="974.35" y="307.08" width="34.72" height="20.01" fill="#2b80c5"/>
<rect x="1009.07" y="307.08" width="34.72" height="20.01" fill="#50a0d4"/>
<rect x="1043.79" y="307.08" width="34.72" height="20.01" fill="#3085c8"/>
<rect x="1078.51" y="307.08" width="34.72" height="20.01" fill="#368dcc"/>
<rect x="1113.22" y="307.08" width="34.72" height="20.01" fill="#2e83c6"/>
<rect x="1147.94" y="307.08" width="34.72" height="20.01" fill="#3085c8"/>
<rect x="1182.66" y="307.08" width="34.72" height="20.01" fill="#3288c9"/>
<rect x="1217.38" y="307.08" width="34.72" height="20.01" fill="#d9e8f1"/>
<rect x="1252.09" y="307.08" width="34.72" height="20.01" fill="#3085c8"/>
<rect x="1286.81" y="307.08" width="34.72" height="20.01" fill="#3288c9"/>
<rect x="1321.53" y="307.08" width="34.72" height="20.01" fill="#368dcc"/>
<rect x="1356.25" y="307.08" width="34.72" height="20.01" fill="#348acb"/>
<rect x="1390.96" y="307.08" width="34.72" height="20.01" fill="#348acb"/>
<rect x="1425.68" y="307.08" width="34.72" height="20.01" fill="#368dcc"/>
<rect x="280.00" y="327.09" width="34.72" height="20.01" fill="#2c80c5"/>
<rect x="314.72" y="327.09" width="34.72" height="20.01" fill="#2f84c7"/>
<rect x="349.44" y="327.09" width="34.72" height="20.01" fill="#2c81c6"/>
<rect x="384.15" y="327.09" width="34.72" height="20.01" fill="#2b7fc4"/>
<rect x="418.87" y="327.09" width="34.72" height="20.01" fill="#2a7ec4"/>
<rect x="453.59" y="327.09" width="34.72" height="20.01" fill="#2e83c7"/>
<rect x="488.31" y="327.09" width="34.72" height="20.01" fill="#c71e2e"/>
<rect x="523.02" y="327.09" width="34.72" height="20.01" fill="#2d81c6"/>
<rect x="557.74" y="327.09" width="34.72" height="20.01" fill="#2d82c6"/>
<rect x="592.46" y="327.09" width="34.72" height="20.01" fill="#2c81c5"/>
<rect x="627.18" y="327.09" width="34.72" height="20.01" fill="#2c80c5"/>
<rect x="661.89" y="327.09" width="34.72" height="20.01" fill="#2c81c5"/>
<rect x="696.61" y="327.09" width="34.72" height="20.01" fill="#2e83c6"/>
<rect x="731.33" y="327.09" width="34.72" height="20.01" fill="#2d82c6"/>
<rect x="766.05" y="327.09" width="34.72" height="20.01" fill="#2d82c6"/>
<rect x="800.76" y="327.09" width="34.72" height="20.01" fill="#2d82c6"/>
<rect x="835.48" y="327.09" width="34.72" height="20.01" fill="#2b7fc4"/>
<rect x="870.20" y="327.09" width="34.72" height="20.01" fill="#2c81c5"/>
<rect x="904.92" y="327.09" width="34.72" height="20.01" fill="#2d82c6"/>
<rect x="939.64" y="327.09" width="34.72" height="20.01" fill="#2d82c6"/>
<rect x="974.35" y="327.09" width="34.72" height="20.01" fill="#2b80c5"/>
<rect x="1009.07" y="327.09" width="34.72" height="20.01" fill="#388fcd"/>
<rect x="1043.79" y="327.09" width="34.72" height="20.01" fill="#2e83c6"/>
<rect x="1078.51" y="327.09" width="34.72" height="20.01" fill="#3288c9"/>
<rect x="1113.22" y="327.09" width="34.72" height="20.01" fill="#2e83c6"/>
<rect x="1147.94" y="327.09" width="34.72" height="20.01" fill="#3085c8"/>
<rect x="1182.66" y="327.09" width="34.72" height="20.01" fill="#3288c9"/>
<rect x="1217.38" y="327.09" width="34.72" height="20.01" fill="#c7e0ee"/>
<rect x="1252.09" y="327.09" width="34.72" height="20.01" fill="#3085c8"/>
<rect x="1286.81" y="327.09" width="34.72" height="20.01" fill="#3288c9"/>
<rect x="1321.53" y="327.09" width="34.72" height="20.01" fill="#3288c9"/>
<rect x="1356.25" y="327.09" width="34.72" height="20.01" fill="#3288c9"/>
<rect x="1390.96" y="327.09" width="34.72" height="20.01" fill="#348acb"/>
<rect x="1425.68" y="327.09" width="34.72" height="20.01" fill="#368dcc"/>
<rect x="280.00" y="347.10" width="34.72" height="20.01" fill="#2b80c5"/>
<rect x="314.72" y="347.10" width="34.72" height="20.01" fill="#2f84c7"/>
<rect x="349.44" y="347.10" width="34.72" height="20.01" fill="#2d82c6"/>
<rect x="384.15" y="347.10" width="34.72" height="20.01" fill="#2c80c5"/>
<rect x="418.87" y="347.10" width="34.72" height="20.01" fill="#267ac1"/>
<rect x="453.59" y="347.10" width="34.72" height="20.01" fill="#2b80c5"/>
<rect x="488.31" y="347.10" width="34.72" height="20.01" fill="#c61c2e"/>
<rect x="523.02" y="347.10" width="34.72" height="20.01" fill="#2d81c6"/>
<rect x="557.74" y="347.10" width="34.72" height="20.01" fill="#2b80c5"/>
<rect x="592.46" y="347.10" width="34.72" height="20.01" fill="#2f84c7"/>
<rect x="627.18" y="347.10" width="34.72" height="20.01" fill="#2d82c6"/>
<rect x="661.89" y="347.10" width="34.72" height="20.01" fill="#2e83c7"/>
<rect x="696.61" y="347.10" width="34.72" height="20.01" fill="#2b80c5"/>
<rect x="731.33" y="347.10" width="34.72" height="20.01" fill="#3187c8"/>
<rect x="766.05" y="347.10" width="34.72" height="20.01" fill="#2b80c5"/>
<rect x="800.76" y="347.10" width="34.72" height="20.01" fill="#2e84c7"/>
<rect x="835.48" y="347.10" width="34.72" height="20.01" fill="#2d82c6"/>
<rect x="870.20" y="347.10" width="34.72" height="20.01" fill="#2c81c5"/>
<rect x="904.92" y="347.10" width="34.72" height="20.01" fill="#2d82c6"/>
<rect x="939.64" y="347.10" width="34.72" height="20.01" fill="#2f84c7"/>
<rect x="974.35" y="347.10" width="34.72" height="20.01" fill="#2c81c5"/>
<rect x="1009.07" y="347.10" width="34.72" height="20.01" fill="#50a0d4"/>
<rect x="1043.79" y="347.10" width="34.72" height="20.01" fill="#3085c8"/>
<rect x="1078.51" y="347.10" width="34.72" height="20.01" fill="#348acb"/>
<rect x="1113.22" y="347.10" width="34.72" height="20.01" fill="#3085c8"/>
<rect x="1147.94" y="347.10" width="34.72" height="20.01" fill="#3085c8"/>
<rect x="1182.66" y="347.10" width="34.72" height="20.01" fill="#3288c9"/>
<rect x="1217.38" y="347.10" width="34.72" height="20.01" fill="#a5cfe6"/>
<rect x="1252.09" y="347.10" width="34.72" height="20.01" fill="#2e83c6"/>
<rect x="1286.81" y="347.10" width="34.72" height="20.01" fill="#3288c9"/>
<rect x="1321.53" y="347.10" width="34.72" height="20.01" fill="#348acb"/>
<rect x="1356.25" y="347.10" width="34.72" height="20.01" fill="#348acb"/>
<rect x="1390.96" y="347.10" width="34.72" height="20.01" fill="#348acb"/>
<rect x="1425.68" y="347.10" width="34.72" height="20.01" fill="#388fcd"/>
<rect x="280.00" y="367.11" width="34.72" height="20.01" fill="#2c81c5"/>
<rect x="314.72" y="367.11" width="34.72" height="20.01" fill="#2b7fc4"/>
<rect x="349.44" y="367.11" width="34.72" height="20.01" fill="#2c81c5"/>
<rect x="384.15" y="367.11" width="34.72" height="20.01" fill="#297dc3"/>
<rect x="418.87" y="367.11" width="34.72" height="20.01" fill="#297dc3"/>
<rect x="453.59" y="367.11" width="34.72" height="20.01" fill="#2d82c6"/>
<rect x="488.31" y="367.11" width="34.72" height="20.01" fill="#c8202f"/>
<rect x="523.02" y="367.11" width="34.72" height="20.01" fill="#2d82c6"/>
<rect x="557.74" y="367.11" width="34.72" height="20.01" fill="#2f84c7"/>
<rect x="592.46" y="367.11" width="34.72" height="20.01" fill="#2b80c5"/>
<rect x="627.18" y="367.11" width="34.72" height="20.01" fill="#2e83c7"/>
<rect x="661.89" y="367.11" width="34.72" height="20.01" fill="#2d81c6"/>
<rect x="696.61" y="367.11" width="34.72" height="20.01" fill="#2d82c6"/>
<rect x="731.33" y="367.11" width="34.72" height="20.01" fill="#3186c8"/>
<rect x="766.05" y="367.11" width="34.72" height="20.01" fill="#2c81c5"/>
<rect x="800.76" y="367.11" width="34.72" height="20.01" fill="#2d82c6"/>
<rect x="835.48" y="367.11" width="34.72" height="20.01" fill="#2e83c6"/>
<rect x="870.20" y="367.11" width="34.72" height="20.01" fill="#2f84c7"/>
<rect x="904.92" y="367.11" width="34.72" height="20.01" fill="#2c81c5"/>
<rect x="939.64" y="367.11" width="34.72" height="20.01" fill="#2e83c7"/>
<rect x="974.35" y="367.11" width="34.72" height="20.01" fill="#2e83c6"/>
<rect x="1009.07" y="367.11" width="34.72" height="20.01" fill="#81bddf"/>
<rect x="1043.79" y="367.11" width="34.72" height="20.01" fill="#3085c8"/>
<rect x="1078.51" y="367.11" width="34.72" height="20.01" fill="#368dcc"/>
<rect x="1113.22" y="367.11" width="34.72" height="20.01" fill="#3085c8"/>
<rect x="1147.94" y="367.11" width="34.72" height="20.01" fill="#3085c8"/>
<rect x="1182.66" y="367.11" width="34.72" height="20.01" fill="#3288c9"/>
<rect x="1217.38" y="367.11" width="34.72" height="20.01" fill="#c7e0ee"/>
<rect x="1252.09" y="367.11" width="34.72" height="20.01" fill="#2c80c5"/>
<rect x="1286.81" y="367.11" width="34.72" height="20.01" fill="#348acb"/>
<rect x="1321.53" y="367.11" width="34.72" height="20.01" fill="#368dcc"/>
<rect x="1356.25" y="367.11" width="34.72" height="20.01" fill="#368dcc"/>
<rect x="1390.96" y="367.11" width="34.72" height="20.01" fill="#469ad2"/>
<rect x="1425.68" y="367.11" width="34.72" height="20.01" fill="#3a92cf"/>
<rect x="280.00" y="387.12" width="34.72" height="20.01" fill="#2c81c5"/>
<rect x="314.72" y="387.12" width="34.72" height="20.01" fill="#2c81c5"/>
<rect x="349.44" y="387.12" width="34.72" height="20.01" fill="#2c81c5"/>
<rect x="384.15" y="387.12" width="34.72" height="20.01" fill="#2b7fc4"/>
<rect x="418.87" y="387.12" width="34.72" height="20.01" fill="#267ac1"/>
<rect x="453.59" y="387.12" width="34.72" height="20.01" fill="#2d82c6"/>
<rect x="488.31" y="387.12" width="34.72" height="20.01" fill="#cb2430"/>
<rect x="523.02" y="387.12" width="34.72" height="20.01" fill="#2f84c7"/>
<rect x="557.74" y="387.12" width="34.72" height="20.01" fill="#2f84c7"/>
<rect x="592.46" y="387.12" width="34.72" height="20.01" fill="#2d82c6"/>
<rect x="627.18" y="387.12" width="34.72" height="20.01" fill="#2c81c5"/>
<rect x="661.89" y="387.12" width="34.72" height="20.01" fill="#2f84c7"/>
<rect x="696.61" y="387.12" width="34.72" height="20.01" fill="#2c81c5"/>
<rect x="731.33" y="387.12" width="34.72" height="20.01" fill="#2f84c7"/>
<rect x="766.05" y="387.12" width="34.72" height="20.01" fill="#2b7fc4"/>
<rect x="800.76" y="387.12" width="34.72" height="20.01" fill="#2c81c5"/>
<rect x="835.48" y="387.12" width="34.72" height="20.01" fill="#2d82c6"/>
<rect x="870.20" y="387.12" width="34.72" height="20.01" fill="#2d82c6"/>
<rect x="904.92" y="387.12" width="34.72" height="20.01" fill="#2c80c5"/>
<rect x="939.64" y="387.12" width="34.72" height="20.01" fill="#2d82c6"/>
<rect x="974.35" y="387.12" width="34.72" height="20.01" fill="#2b7fc4"/>
<rect x="1009.07" y="387.12" width="34.72" height="20.01" fill="#6eb1db"/>
<rect x="1043.79" y="387.12" width="34.72" height="20.01" fill="#2e83c6"/>
<rect x="1078.51" y="387.12" width="34.72" height="20.01" fill="#368dcc"/>
<rect x="1113.22" y="387.12" width="34.72" height="20.01" fill="#3085c8"/>
<rect x="1147.94" y="387.12" width="34.72" height="20.01" fill="#3085c8"/>
<rect x="1182.66" y="387.12" width="34.72" height="20.01" fill="#3288c9"/>
<rect x="1217.38" y="387.12" width="34.72" height="20.01" fill="#cfe4ef"/>
<rect x="1252.09" y="387.12" width="34.72" height="20.01" fill="#3085c8"/>
<rect x="1286.81" y="387.12" width="34.72" height="20.01" fill="#3288c9"/>
<rect x="1321.53" y="387.12" width="34.72" height="20.01" fill="#348acb"/>
<rect x="1356.25" y="387.12" width="34.72" height="20.01" fill="#348acb"/>
<rect x="1390.96" y="387.12" width="34.72" height="20.01" fill="#368dcc"/>
<rect x="1425.68" y="387.12" width="34.72" height="20.01" fill="#388fcd"/>
<rect x="280.00" y="407.14" width="34.72" height="20.01" fill="#2c81c5"/>
<rect x="314.72" y="407.14" width="34.72" height="20.01" fill="#2c81c5"/>
<rect x="349.44" y="407.14" width="34.72" height="20.01" fill="#2f84c7"/>
<rect x="384.15" y="407.14" width="34.72" height="20.01" fill="#297ec3"/>
<rect x="418.87" y="407.14" width="34.72" height="20.01" fill="#297dc3"/>
<rect x="453.59" y="407.14" width="34.72" height="20.01" fill="#2e83c6"/>
<rect x="488.31" y="407.14" width="34.72" height="20.01" fill="#ca2230"/>
<rect x="523.02" y="407.14" width="34.72" height="20.01" fill="#2e83c7"/>
<rect x="557.74" y="407.14" width="34.72" height="20.01" fill="#2f84c7"/>
<rect x="592.46" y="407.14" width="34.72" height="20.01" fill="#2d82c6"/>
<rect x="627.18" y="407.14" width="34.72" height="20.01" fill="#2e83c6"/>
<rect x="661.89" y="407.14" width="34.72" height="20.01" fill="#2e83c7"/>
<rect x="696.61" y="407.14" width="34.72" height="20.01" fill="#2b80c5"/>
<rect x="731.33" y="407.14" width="34.72" height="20.01" fill="#3085c8"/>
<rect x="766.05" y="407.14" width="34.72" height="20.01" fill="#2d82c6"/>
<rect x="800.76" y="407.14" width="34.72" height="20.01" fill="#2e83c7"/>
<rect x="835.48" y="407.14" width="34.72" height="20.01" fill="#2e83c7"/>
<rect x="870.20" y="407.14" width="34.72" height="20.01" fill="#2e83c7"/>
<rect x="904.92" y="407.14" width="34.72" height="20.01" fill="#2d82c6"/>
<rect x="939.64" y="407.14" width="34.72" height="20.01" fill="#2f84c7"/>
<rect x="974.35" y="407.14" width="34.72" height="20.01" fill="#2e83c6"/>
<rect x="1009.07" y="407.14" width="34.72" height="20.01" fill="#81bddf"/>
<rect x="1043.79" y="407.14" width="34.72" height="20.01" fill="#3085c8"/>
<rect x="1078.51" y="407.14" width="34.72" height="20.01" fill="#348acb"/>
<rect x="1113.22" y="407.14" width="34.72" height="20.01" fill="#3085c8"/>
<rect x="1147.94" y="407.14" width="34.72" height="20.01" fill="#3085c8"/>
<rect x="1182.66" y="407.14" width="34.72" height="20.01" fill="#3288c9"/>
<rect x="1217.38" y="407.14" width="34.72" height="20.01" fill="#c7e0ee"/>
<rect x="1252.09" y="407.14" width="34.72" height="20.01" fill="#3085c8"/>
<rect x="1286.81" y="407.14" width="34.72" height="20.01" fill="#3288c9"/>
<rect x="1321.53" y="407.14" width="34.72" height="20.01" fill="#3288c9"/>
<rect x="1356.25" y="407.14" width="34.72" height="20.01" fill="#3288c9"/>
<rect x="1390.96" y="407.14" width="34.72" height="20.01" fill="#368dcc"/>
<rect x="1425.68" y="407.14" width="34.72" height="20.01" fill="#388fcd"/>
<rect x="280.00" y="427.15" width="34.72" height="20.01" fill="#2e83c7"/>
<rect x="314.72" y="427.15" width="34.72" height="20.01" fill="#2e83c6"/>
<rect x="349.44" y="427.15" width="34.72" height="20.01" fill="#2d82c6"/>
<rect x="384.15" y="427.15" width="34.72" height="20.01" fill="#2b7fc4"/>
<rect x="418.87" y="427.15" width="34.72" height="20.01" fill="#297dc3"/>
<rect x="453.59" y="427.15" width="34.72" height="20.01" fill="#2b80c5"/>
<rect x="488.31" y="427.15" width="34.72" height="20.01" fill="#c61c2e"/>
<rect x="523.02" y="427.15" width="34.72" height="20.01" fill="#2c81c5"/>
<rect x="557.74" y="427.15" width="34.72" height="20.01" fill="#2b80c5"/>
<rect x="592.46" y="427.15" width="34.72" height="20.01" fill="#2c81c5"/>
<rect x="627.18" y="427.15" width="34.72" height="20.01" fill="#2e83c6"/>
<rect x="661.89" y="427.15" width="34.72" height="20.01" fill="#2c80c5"/>
<rect x="696.61" y="427.15" width="34.72" height="20.01" fill="#2e83c6"/>
<rect x="731.33" y="427.15" width="34.72" height="20.01" fill="#3187c9"/>
<rect x="766.05" y="427.15" width="34.72" height="20.01" fill="#2d82c6"/>
<rect x="800.76" y="427.15" width="34.72" height="20.01" fill="#2c81c5"/>
<rect x="835.48" y="427.15" width="34.72" height="20.01" fill="#2d82c6"/>
<rect x="870.20" y="427.15" width="34.72" height="20.01" fill="#2e83c6"/>
<rect x="904.92" y="427.15" width="34.72" height="20.01" fill="#2e83c7"/>
<rect x="939.64" y="427.15" width="34.72" height="20.01" fill="#2d82c6"/>
<rect x="974.35" y="427.15" width="34.72" height="20.01" fill="#2e83c6"/>
<rect x="1009.07" y="427.15" width="34.72" height="20.01" fill="#77b7dd"/>
<rect x="1043.79" y="427.15" width="34.72" height="20.01" fill="#3085c8"/>
<rect x="1078.51" y="427.15" width="34.72" height="20.01" fill="#348acb"/>
<rect x="1113.22" y="427.15" width="34.72" height="20.01" fill="#3085c8"/>
<rect x="1147.94" y="427.15" width="34.72" height="20.01" fill="#3085c8"/>
<rect x="1182.66" y="427.15" width="34.72" height="20.01" fill="#3288c9"/>
<rect x="1217.38" y="427.15" width="34.72" height="20.01" fill="#a5cfe6"/>
<rect x="1252.09" y="427.15" width="34.72" height="20.01" fill="#3085c8"/>
<rect x="1286.81" y="427.15" width="34.72" height="20.01" fill="#3288c9"/>
<rect x="1321.53" y="427.15" width="34.72" height="20.01" fill="#3288c9"/>
<rect x="1356.25" y="427.15" width="34.72" height="20.01" fill="#348acb"/>
<rect x="1390.96" y="427.15" width="34.72" height="20.01" fill="#368dcc"/>
<rect x="1425.68" y="427.15" width="34.72" height="20.01" fill="#388fcd"/>
<rect x="280.00" y="447.16" width="34.72" height="20.01" fill="#2d82c6"/>
<rect x="314.72" y="447.16" width="34.72" height="20.01" fill="#2d82c6"/>
<rect x="349.44" y="447.16" width="34.72" height="20.01" fill="#2d82c6"/>
<rect x="384.15" y="447.16" width="34.72" height="20.01" fill="#297dc3"/>
<rect x="418.87" y="447.16" width="34.72" height="20.01" fill="#2a7ec4"/>
<rect x="453.59" y="447.16" width="34.72" height="20.01" fill="#2c80c5"/>
<rect x="488.31" y="447.16" width="34.72" height="20.01" fill="#c61c2e"/>
<rect x="523.02" y="447.16" width="34.72" height="20.01" fill="#2f84c7"/>
<rect x="557.74" y="447.16" width="34.72" height="20.01" fill="#2b7fc4"/>
<rect x="592.46" y="447.16" width="34.72" height="20.01" fill="#2d82c6"/>
<rect x="627.18" y="447.16" width="34.72" height="20.01" fill="#2e83c7"/>
<rect x="661.89" y="447.16" width="34.72" height="20.01" fill="#2f84c7"/>
<rect x="696.61" y="447.16" width="34.72" height="20.01" fill="#2d82c6"/>
<rect x="731.33" y="447.16" width="34.72" height="20.01" fill="#2e84c7"/>
<rect x="766.05" y="447.16" width="34.72" height="20.01" fill="#2c80c5"/>
<rect x="800.76" y="447.16" width="34.72" height="20.01" fill="#2f84c7"/>
<rect x="835.48" y="447.16" width="34.72" height="20.01" fill="#2c80c5"/>
<rect x="870.20" y="447.16" width="34.72" height="20.01" fill="#2d82c6"/>
<rect x="904.92" y="447.16" width="34.72" height="20.01" fill="#2b80c5"/>
<rect x="939.64" y="447.16" width="34.72" height="20.01" fill="#2d82c6"/>
<rect x="974.35" y="447.16" width="34.72" height="20.01" fill="#2f84c7"/>
<rect x="1009.07" y="447.16" width="34.72" height="20.01" fill="#77b7dd"/>
<rect x="1043.79" y="447.16" width="34.72" height="20.01" fill="#3085c8"/>
<rect x="1078.51" y="447.16" width="34.72" height="20.01" fill="#348acb"/>
<rect x="1113.22" y="447.16" width="34.72" height="20.01" fill="#3085c8"/>
<rect x="1147.94" y="447.16" width="34.72" height="20.01" fill="#3085c8"/>
<rect x="1182.66" y="447.16" width="34.72" height="20.01" fill="#3288c9"/>
<rect x="1217.38" y="447.16" width="34.72" height="20.01" fill="#9ccbe4"/>
<rect x="1252.09" y="447.16" width="34.72" height="20.01" fill="#3085c8"/>
<rect x="1286.81" y="447.16" width="34.72" height="20.01" fill="#3288c9"/>
<rect x="1321.53" y="447.16" width="34.72" height="20.01" fill="#3288c9"/>
<rect x="1356.25" y="447.16" width="34.72" height="20.01" fill="#348acb"/>
<rect x="1390.96" y="447.16" width="34.72" height="20.01" fill="#368dcc"/>
<rect x="1425.68" y="447.16" width="34.72" height="20.01" fill="#388fcd"/>
<rect x="280.00" y="467.17" width="34.72" height="20.01" fill="#2b80c5"/>
<rect x="314.72" y="467.17" width="34.72" height="20.01" fill="#2c81c5"/>
<rect x="349.44" y="467.17" width="34.72" height="20.01" fill="#2c81c5"/>
<rect x="384.15" y="467.17" width="34.72" height="20.01" fill="#2c81c5"/>
<rect x="418.87" y="467.17" width="34.72" height="20.01" fill="#2679c1"/>
<rect x="453.59" y="467.17" width="34.72" height="20.01" fill="#2e83c6"/>
<rect x="488.31" y="467.17" width="34.72" height="20.01" fill="#da423a"/>
<rect x="523.02" y="467.17" width="34.72" height="20.01" fill="#2b80c5"/>
<rect x="557.74" y="467.17" width="34.72" height="20.01" fill="#2f84c7"/>
<rect x="592.46" y="467.17" width="34.72" height="20.01" fill="#2e83c6"/>
<rect x="627.18" y="467.17" width="34.72" height="20.01" fill="#2f84c7"/>
<rect x="661.89" y="467.17" width="34.72" height="20.01" fill="#2c81c5"/>
<rect x="696.61" y="467.17" width="34.72" height="20.01" fill="#2c81c5"/>
<rect x="731.33" y="467.17" width="34.72" height="20.01" fill="#2f84c7"/>
<rect x="766.05" y="467.17" width="34.72" height="20.01" fill="#2f84c7"/>
<rect x="800.76" y="467.17" width="34.72" height="20.01" fill="#2d82c6"/>
<rect x="835.48" y="467.17" width="34.72" height="20.01" fill="#2c81c5"/>
<rect x="870.20" y="467.17" width="34.72" height="20.01" fill="#2d81c6"/>
<rect x="904.92" y="467.17" width="34.72" height="20.01" fill="#2c81c5"/>
<rect x="939.64" y="467.17" width="34.72" height="20.01" fill="#2b80c5"/>
<rect x="974.35" y="467.17" width="34.72" height="20.01" fill="#2b80c5"/>
<rect x="1009.07" y="467.17" width="34.72" height="20.01" fill="#6eb1db"/>
<rect x="1043.79" y="467.17" width="34.72" height="20.01" fill="#348acb"/>
<rect x="1078.51" y="467.17" width="34.72" height="20.01" fill="#64abd8"/>
<rect x="1113.22" y="467.17" width="34.72" height="20.01" fill="#287bc2"/>
<rect x="1147.94" y="467.17" width="34.72" height="20.01" fill="#3085c8"/>
<rect x="1182.66" y="467.17" width="34.72" height="20.01" fill="#348acb"/>
<rect x="1217.38" y="467.17" width="34.72" height="20.01" fill="#d5e6f0"/>
<rect x="1252.09" y="467.17" width="34.72" height="20.01" fill="#348acb"/>
<rect x="1286.81" y="467.17" width="34.72" height="20.01" fill="#50a0d4"/>
<rect x="1321.53" y="467.17" width="34.72" height="20.01" fill="#50a0d4"/>
<rect x="1356.25" y="467.17" width="34.72" height="20.01" fill="#50a0d4"/>
<rect x="1390.96" y="467.17" width="34.72" height="20.01" fill="#5aa6d6"/>
<rect x="1425.68" y="467.17" width="34.72" height="20.01" fill="#64abd8"/>
<rect x="280.00" y="487.18" width="34.72" height="20.01" fill="#2f84c7"/>
<rect x="314.72" y="487.18" width="34.72" height="20.01" fill="#2d82c6"/>
<rect x="349.44" y="487.18" width="34.72" height="20.01" fill="#2e83c6"/>
<rect x="384.15" y="487.18" width="34.72" height="20.01" fill="#297dc3"/>
<rect x="418.87" y="487.18" width="34.72" height="20.01" fill="#297dc3"/>
<rect x="453.59" y="487.18" width="34.72" height="20.01" fill="#2d82c6"/>
<rect x="488.31" y="487.18" width="34.72" height="20.01" fill="#cf2c32"/>
<rect x="523.02" y="487.18" width="34.72" height="20.01" fill="#2e83c6"/>
<rect x="557.74" y="487.18" width="34.72" height="20.01" fill="#2c81c5"/>
<rect x="592.46" y="487.18" width="34.72" height="20.01" fill="#2b80c5"/>
<rect x="627.18" y="487.18" width="34.72" height="20.01" fill="#2f84c7"/>
<rect x="661.89" y="487.18" width="34.72" height="20.01" fill="#2b80c5"/>
<rect x="696.61" y="487.18" width="34.72" height="20.01" fill="#2d82c6"/>
<rect x="731.33" y="487.18" width="34.72" height="20.01" fill="#2f84c7"/>
<rect x="766.05" y="487.18" width="34.72" height="20.01" fill="#2c81c5"/>
<rect x="800.76" y="487.18" width="34.72" height="20.01" fill="#2e83c6"/>
<rect x="835.48" y="487.18" width="34.72" height="20.01" fill="#2f84c7"/>
<rect x="870.20" y="487.18" width="34.72" height="20.01" fill="#2c81c5"/>
<rect x="904.92" y="487.18" width="34.72" height="20.01" fill="#2e83c6"/>
<rect x="939.64" y="487.18" width="34.72" height="20.01" fill="#2c81c5"/>
<rect x="974.35" y="487.18" width="34.72" height="20.01" fill="#2d82c6"/>
<rect x="1009.07" y="487.18" width="34.72" height="20.01" fill="#8bc2e1"/>
<rect x="1043.79" y="487.18" width="34.72" height="20.01" fill="#3085c8"/>
<rect x="1078.51" y="487.18" width="34.72" height="20.01" fill="#5aa6d6"/>
<rect x="1113.22" y="487.18" width="34.72" height="20.01" fill="#287bc2"/>
<rect x="1147.94" y="487.18" width="34.72" height="20.01" fill="#3085c8"/>
<rect x="1182.66" y="487.18" width="34.72" height="20.01" fill="#348acb"/>
<rect x="1217.38" y="487.18" width="34.72" height="20.01" fill="#add3e8"/>
<rect x="1252.09" y="487.18" width="34.72" height="20.01" fill="#2c80c5"/>
<rect x="1286.81" y="487.18" width="34.72" height="20.01" fill="#3d94d0"/>
<rect x="1321.53" y="487.18" width="34.72" height="20.01" fill="#50a0d4"/>
<rect x="1356.25" y="487.18" width="34.72" height="20.01" fill="#469ad2"/>
<rect x="1390.96" y="487.18" width="34.72" height="20.01" fill="#469ad2"/>
<rect x="1425.68" y="487.18" width="34.72" height="20.01" fill="#469ad2"/>
<rect x="280.00" y="507.19" width="34.72" height="20.01" fill="#2c81c5"/>
<rect x="314.72" y="507.19" width="34.72" height="20.01" fill="#2b80c5"/>
<rect x="349.44" y="507.19" width="34.72" height="20.01" fill="#2c80c5"/>
<rect x="384.15" y="507.19" width="34.72" height="20.01" fill="#2a7ec4"/>
<rect x="418.87" y="507.19" width="34.72" height="20.01" fill="#287cc3"/>
<rect x="453.59" y="507.19" width="34.72" height="20.01" fill="#2f84c7"/>
<rect x="488.31" y="507.19" width="34.72" height="20.01" fill="#d43434"/>
<rect x="523.02" y="507.19" width="34.72" height="20.01" fill="#2d81c6"/>
<rect x="557.74" y="507.19" width="34.72" height="20.01" fill="#2d81c6"/>
<rect x="592.46" y="507.19" width="34.72" height="20.01" fill="#2d82c6"/>
<rect x="627.18" y="507.19" width="34.72" height="20.01" fill="#2c81c5"/>
<rect x="661.89" y="507.19" width="34.72" height="20.01" fill="#2c81c5"/>
<rect x="696.61" y="507.19" width="34.72" height="20.01" fill="#2b80c5"/>
<rect x="731.33" y="507.19" width="34.72" height="20.01" fill="#2e84c7"/>
<rect x="766.05" y="507.19" width="34.72" height="20.01" fill="#2f84c7"/>
<rect x="800.76" y="507.19" width="34.72" height="20.01" fill="#2b80c5"/>
<rect x="835.48" y="507.19" width="34.72" height="20.01" fill="#2d82c6"/>
<rect x="870.20" y="507.19" width="34.72" height="20.01" fill="#2d82c6"/>
<rect x="904.92" y="507.19" width="34.72" height="20.01" fill="#2e84c7"/>
<rect x="939.64" y="507.19" width="34.72" height="20.01" fill="#2c80c5"/>
<rect x="974.35" y="507.19" width="34.72" height="20.01" fill="#2c81c5"/>
<rect x="1009.07" y="507.19" width="34.72" height="20.01" fill="#e6eef3"/>
<rect x="1043.79" y="507.19" width="34.72" height="20.01" fill="#2c80c5"/>
<rect x="1078.51" y="507.19" width="34.72" height="20.01" fill="#469ad2"/>
<rect x="1113.22" y="507.19" width="34.72" height="20.01" fill="#2c80c5"/>
<rect x="1147.94" y="507.19" width="34.72" height="20.01" fill="#3085c8"/>
<rect x="1182.66" y="507.19" width="34.72" height="20.01" fill="#3085c8"/>
<rect x="1217.38" y="507.19" width="34.72" height="20.01" fill="#94c7e3"/>
<rect x="1252.09" y="507.19" width="34.72" height="20.01" fill="#3085c8"/>
<rect x="1286.81" y="507.19" width="34.72" height="20.01" fill="#388fcd"/>
<rect x="1321.53" y="507.19" width="34.72" height="20.01" fill="#3d94d0"/>
<rect x="1356.25" y="507.19" width="34.72" height="20.01" fill="#3d94d0"/>
<rect x="1390.96" y="507.19" width="34.72" height="20.01" fill="#3d94d0"/>
<rect x="1425.68" y="507.19" width="34.72" height="20.01" fill="#50a0d4"/>
<rect x="280.00" y="527.20" width="34.72" height="20.01" fill="#2579c1"/>
<rect x="314.72" y="527.20" width="34.72" height="20.01" fill="#2b7fc4"/>
<rect x="349.44" y="527.20" width="34.72" height="20.01" fill="#2f84c7"/>
<rect x="384.15" y="527.20" width="34.72" height="20.01" fill="#287bc2"/>
<rect x="418.87" y="527.20" width="34.72" height="20.01" fill="#2174be"/>
<rect x="453.59" y="527.20" width="34.72" height="20.01" fill="#2d82c6"/>
<rect x="488.31" y="527.20" width="34.72" height="20.01" fill="#fbb08b"/>
<rect x="523.02" y="527.20" width="34.72" height="20.01" fill="#287bc2"/>
<rect x="557.74" y="527.20" width="34.72" height="20.01" fill="#287bc2"/>
<rect x="592.46" y="527.20" width="34.72" height="20.01" fill="#2376bf"/>
<rect x="627.18" y="527.20" width="34.72" height="20.01" fill="#2c80c5"/>
<rect x="661.89" y="527.20" width="34.72" height="20.01" fill="#2376bf"/>
<rect x="696.61" y="527.20" width="34.72" height="20.01" fill="#2174be"/>
<rect x="731.33" y="527.20" width="34.72" height="20.01" fill="#287bc2"/>
<rect x="766.05" y="527.20" width="34.72" height="20.01" fill="#2376bf"/>
<rect x="800.76" y="527.20" width="34.72" height="20.01" fill="#2375bf"/>
<rect x="835.48" y="527.20" width="34.72" height="20.01" fill="#2376bf"/>
<rect x="870.20" y="527.20" width="34.72" height="20.01" fill="#2376bf"/>
<rect x="904.92" y="527.20" width="34.72" height="20.01" fill="#2376bf"/>
<rect x="939.64" y="527.20" width="34.72" height="20.01" fill="#2376bf"/>
<rect x="974.35" y="527.20" width="34.72" height="20.01" fill="#2376bf"/>
<rect x="1009.07" y="527.20" width="34.72" height="20.01" fill="#c7e0ee"/>
<rect x="1043.79" y="527.20" width="34.72" height="20.01" fill="#50a0d4"/>
<rect x="1078.51" y="527.20" width="34.72" height="20.01" fill="#a5cfe6"/>
<rect x="1113.22" y="527.20" width="34.72" height="20.01" fill="#2376bf"/>
<rect x="1147.94" y="527.20" width="34.72" height="20.01" fill="#388fcd"/>
<rect x="1182.66" y="527.20" width="34.72" height="20.01" fill="#388fcd"/>
<rect x="1217.38" y="527.20" width="34.72" height="20.01" fill="#e6eef3"/>
<rect x="1252.09" y="527.20" width="34.72" height="20.01" fill="#469ad2"/>
<rect x="1286.81" y="527.20" width="34.72" height="20.01" fill="#6eb1db"/>
<rect x="1321.53" y="527.20" width="34.72" height="20.01" fill="#50a0d4"/>
<rect x="1356.25" y="527.20" width="34.72" height="20.01" fill="#add3e8"/>
<rect x="1390.96" y="527.20" width="34.72" height="20.01" fill="#77b7dd"/>
<rect x="1425.68" y="527.20" width="34.72" height="20.01" fill="#add3e8"/>
<rect x="280.00" y="547.21" width="34.72" height="20.01" fill="#2c81c5"/>
<rect x="314.72" y="547.21" width="34.72" height="20.01" fill="#2d82c6"/>
<rect x="349.44" y="547.21" width="34.72" height="20.01" fill="#2f84c7"/>
<rect x="384.15" y="547.21" width="34.72" height="20.01" fill="#2b80c5"/>
<rect x="418.87" y="547.21" width="34.72" height="20.01" fill="#2a7ec3"/>
<rect x="453.59" y="547.21" width="34.72" height="20.01" fill="#2d82c6"/>
<rect x="488.31" y="547.21" width="34.72" height="20.01" fill="#f28966"/>
<rect x="523.02" y="547.21" width="34.72" height="20.01" fill="#2c81c5"/>
<rect x="557.74" y="547.21" width="34.72" height="20.01" fill="#2f84c7"/>
<rect x="592.46" y="547.21" width="34.72" height="20.01" fill="#2e83c6"/>
<rect x="627.18" y="547.21" width="34.72" height="20.01" fill="#2c81c5"/>
<rect x="661.89" y="547.21" width="34.72" height="20.01" fill="#2b7fc4"/>
<rect x="696.61" y="547.21" width="34.72" height="20.01" fill="#2d82c6"/>
<rect x="731.33" y="547.21" width="34.72" height="20.01" fill="#3086c8"/>
<rect x="766.05" y="547.21" width="34.72" height="20.01" fill="#2d81c6"/>
<rect x="800.76" y="547.21" width="34.72" height="20.01" fill="#2c81c5"/>
<rect x="835.48" y="547.21" width="34.72" height="20.01" fill="#2e83c6"/>
<rect x="870.20" y="547.21" width="34.72" height="20.01" fill="#2f84c7"/>
<rect x="904.92" y="547.21" width="34.72" height="20.01" fill="#2c80c5"/>
<rect x="939.64" y="547.21" width="34.72" height="20.01" fill="#2b7fc4"/>
<rect x="974.35" y="547.21" width="34.72" height="20.01" fill="#2c81c5"/>
<rect x="1009.07" y="547.21" width="34.72" height="20.01" fill="#add3e8"/>
<rect x="1043.79" y="547.21" width="34.72" height="20.01" fill="#3085c8"/>
<rect x="1078.51" y="547.21" width="34.72" height="20.01" fill="#5aa6d6"/>
<rect x="1113.22" y="547.21" width="34.72" height="20.01" fill="#3085c8"/>
<rect x="1147.94" y="547.21" width="34.72" height="20.01" fill="#348acb"/>
<rect x="1182.66" y="547.21" width="34.72" height="20.01" fill="#348acb"/>
<rect x="1217.38" y="547.21" width="34.72" height="20.01" fill="#f6f2f2"/>
<rect x="1252.09" y="547.21" width="34.72" height="20.01" fill="#2c80c5"/>
<rect x="1286.81" y="547.21" width="34.72" height="20.01" fill="#6eb1db"/>
<rect x="1321.53" y="547.21" width="34.72" height="20.01" fill="#50a0d4"/>
<rect x="1356.25" y="547.21" width="34.72" height="20.01" fill="#77b7dd"/>
<rect x="1390.96" y="547.21" width="34.72" height="20.01" fill="#6eb1db"/>
<rect x="1425.68" y="547.21" width="34.72" height="20.01" fill="#81bddf"/>
<rect x="280.00" y="567.22" width="34.72" height="20.01" fill="#2c81c5"/>
<rect x="314.72" y="567.22" width="34.72" height="20.01" fill="#2f84c7"/>
<rect x="349.44" y="567.22" width="34.72" height="20.01" fill="#2d82c6"/>
<rect x="384.15" y="567.22" width="34.72" height="20.01" fill="#2a7ec4"/>
<rect x="418.87" y="567.22" width="34.72" height="20.01" fill="#277ac2"/>
<rect x="453.59" y="567.22" width="34.72" height="20.01" fill="#2d81c6"/>
<rect x="488.31" y="567.22" width="34.72" height="20.01" fill="#f5916d"/>
<rect x="523.02" y="567.22" width="34.72" height="20.01" fill="#2f84c7"/>
<rect x="557.74" y="567.22" width="34.72" height="20.01" fill="#2b80c5"/>
<rect x="592.46" y="567.22" width="34.72" height="20.01" fill="#2c81c5"/>
<rect x="627.18" y="567.22" width="34.72" height="20.01" fill="#2c80c5"/>
<rect x="661.89" y="567.22" width="34.72" height="20.01" fill="#2f84c7"/>
<rect x="696.61" y="567.22" width="34.72" height="20.01" fill="#2b80c5"/>
<rect x="731.33" y="567.22" width="34.72" height="20.01" fill="#2e83c6"/>
<rect x="766.05" y="567.22" width="34.72" height="20.01" fill="#2b80c5"/>
<rect x="800.76" y="567.22" width="34.72" height="20.01" fill="#2c81c5"/>
<rect x="835.48" y="567.22" width="34.72" height="20.01" fill="#2f84c7"/>
<rect x="870.20" y="567.22" width="34.72" height="20.01" fill="#2f84c7"/>
<rect x="904.92" y="567.22" width="34.72" height="20.01" fill="#2e83c6"/>
<rect x="939.64" y="567.22" width="34.72" height="20.01" fill="#2f84c7"/>
<rect x="974.35" y="567.22" width="34.72" height="20.01" fill="#2f84c7"/>
<rect x="1009.07" y="567.22" width="34.72" height="20.01" fill="#f3f3f5"/>
<rect x="1043.79" y="567.22" width="34.72" height="20.01" fill="#2c80c5"/>
<rect x="1078.51" y="567.22" width="34.72" height="20.01" fill="#3d94d0"/>
<rect x="1113.22" y="567.22" width="34.72" height="20.01" fill="#348acb"/>
<rect x="1147.94" y="567.22" width="34.72" height="20.01" fill="#3085c8"/>
<rect x="1182.66" y="567.22" width="34.72" height="20.01" fill="#348acb"/>
<rect x="1217.38" y="567.22" width="34.72" height="20.01" fill="#f6efec"/>
<rect x="1252.09" y="567.22" width="34.72" height="20.01" fill="#2c80c5"/>
<rect x="1286.81" y="567.22" width="34.72" height="20.01" fill="#50a0d4"/>
<rect x="1321.53" y="567.22" width="34.72" height="20.01" fill="#3d94d0"/>
<rect x="1356.25" y="567.22" width="34.72" height="20.01" fill="#388fcd"/>
<rect x="1390.96" y="567.22" width="34.72" height="20.01" fill="#348acb"/>
<rect x="1425.68" y="567.22" width="34.72" height="20.01" fill="#469ad2"/>
<rect x="280.00" y="587.23" width="34.72" height="20.01" fill="#2f84c7"/>
<rect x="314.72" y="587.23" width="34.72" height="20.01" fill="#2b80c5"/>
<rect x="349.44" y="587.23" width="34.72" height="20.01" fill="#2f84c7"/>
<rect x="384.15" y="587.23" width="34.72" height="20.01" fill="#2a7ec4"/>
<rect x="418.87" y="587.23" width="34.72" height="20.01" fill="#277bc2"/>
<rect x="453.59" y="587.23" width="34.72" height="20.01" fill="#2e83c7"/>
<rect x="488.31" y="587.23" width="34.72" height="20.01" fill="#f08060"/>
<rect x="523.02" y="587.23" width="34.72" height="20.01" fill="#2d81c6"/>
<rect x="557.74" y="587.23" width="34.72" height="20.01" fill="#2b80c5"/>
<rect x="592.46" y="587.23" width="34.72" height="20.01" fill="#2d82c6"/>
<rect x="627.18" y="587.23" width="34.72" height="20.01" fill="#2c81c5"/>
<rect x="661.89" y="587.23" width="34.72" height="20.01" fill="#2f84c7"/>
<rect x="696.61" y="587.23" width="34.72" height="20.01" fill="#2c80c5"/>
<rect x="731.33" y="587.23" width="34.72" height="20.01" fill="#2f84c7"/>
<rect x="766.05" y="587.23" width="34.72" height="20.01" fill="#2f84c7"/>
<rect x="800.76" y="587.23" width="34.72" height="20.01" fill="#2b7fc4"/>
<rect x="835.48" y="587.23" width="34.72" height="20.01" fill="#2d81c6"/>
<rect x="870.20" y="587.23" width="34.72" height="20.01" fill="#2e83c7"/>
<rect x="904.92" y="587.23" width="34.72" height="20.01" fill="#2e83c7"/>
<rect x="939.64" y="587.23" width="34.72" height="20.01" fill="#2b80c5"/>
<rect x="974.35" y="587.23" width="34.72" height="20.01" fill="#2b7fc4"/>
<rect x="1009.07" y="587.23" width="34.72" height="20.01" fill="#bedbec"/>
<rect x="1043.79" y="587.23" width="34.72" height="20.01" fill="#2c80c5"/>
<rect x="1078.51" y="587.23" width="34.72" height="20.01" fill="#469ad2"/>
<rect x="1113.22" y="587.23" width="34.72" height="20.01" fill="#2c80c5"/>
<rect x="1147.94" y="587.23" width="34.72" height="20.01" fill="#3085c8"/>
<rect x="1182.66" y="587.23" width="34.72" height="20.01" fill="#3085c8"/>
<rect x="1217.38" y="587.23" width="34.72" height="20.01" fill="#fdd9c4"/>
<rect x="1252.09" y="587.23" width="34.72" height="20.01" fill="#2c80c5"/>
<rect x="1286.81" y="587.23" width="34.72" height="20.01" fill="#2c80c5"/>
<rect x="1321.53" y="587.23" width="34.72" height="20.01" fill="#3d94d0"/>
<rect x="1356.25" y="587.23" width="34.72" height="20.01" fill="#3d94d0"/>
<rect x="1390.96" y="587.23" width="34.72" height="20.01" fill="#469ad2"/>
<rect x="1425.68" y="587.23" width="34.72" height="20.01" fill="#3d94d0"/>
<rect x="280.00" y="607.24" width="34.72" height="20.01" fill="#2b7fc4"/>
<rect x="314.72" y="607.24" width="34.72" height="20.01" fill="#2e83c7"/>
<rect x="349.44" y="607.24" width="34.72" height="20.01" fill="#2f84c7"/>
<rect x="384.15" y="607.24" width="34.72" height="20.01" fill="#2b80c5"/>
<rect x="418.87" y="607.24" width="34.72" height="20.01" fill="#2a7ec4"/>
<rect x="453.59" y="607.24" width="34.72" height="20.01" fill="#2b7fc4"/>
<rect x="488.31" y="607.24" width="34.72" height="20.01" fill="#ec7457"/>
<rect x="523.02" y="607.24" width="34.72" height="20.01" fill="#2d82c6"/>
<rect x="557.74" y="607.24" width="34.72" height="20.01" fill="#2f84c7"/>
<rect x="592.46" y="607.24" width="34.72" height="20.01" fill="#2f84c7"/>
<rect x="627.18" y="607.24" width="34.72" height="20.01" fill="#2c81c5"/>
<rect x="661.89" y="607.24" width="34.72" height="20.01" fill="#2c81c5"/>
<rect x="696.61" y="607.24" width="34.72" height="20.01" fill="#2d81c6"/>
<rect x="731.33" y="607.24" width="34.72" height="20.01" fill="#2f85c7"/>
<rect x="766.05" y="607.24" width="34.72" height="20.01" fill="#2f84c7"/>
<rect x="800.76" y="607.24" width="34.72" height="20.01" fill="#2c80c5"/>
<rect x="835.48" y="607.24" width="34.72" height="20.01" fill="#2e83c7"/>
<rect x="870.20" y="607.24" width="34.72" height="20.01" fill="#2e83c6"/>
<rect x="904.92" y="607.24" width="34.72" height="20.01" fill="#2e83c7"/>
<rect x="939.64" y="607.24" width="34.72" height="20.01" fill="#2e83c7"/>
<rect x="974.35" y="607.24" width="34.72" height="20.01" fill="#2d82c6"/>
<rect x="1009.07" y="607.24" width="34.72" height="20.01" fill="#469ad2"/>
<rect x="1043.79" y="607.24" width="34.72" height="20.01" fill="#3085c8"/>
<rect x="1078.51" y="607.24" width="34.72" height="20.01" fill="#348acb"/>
<rect x="1113.22" y="607.24" width="34.72" height="20.01" fill="#469ad2"/>
<rect x="1147.94" y="607.24" width="34.72" height="20.01" fill="#348acb"/>
<rect x="1182.66" y="607.24" width="34.72" height="20.01" fill="#3085c8"/>
<rect x="1217.38" y="607.24" width="34.72" height="20.01" fill="#fbe0d0"/>
<rect x="1252.09" y="607.24" width="34.72" height="20.01" fill="#3085c8"/>
<rect x="1286.81" y="607.24" width="34.72" height="20.01" fill="#3d94d0"/>
<rect x="1321.53" y="607.24" width="34.72" height="20.01" fill="#3d94d0"/>
<rect x="1356.25" y="607.24" width="34.72" height="20.01" fill="#3d94d0"/>
<rect x="1390.96" y="607.24" width="34.72" height="20.01" fill="#3d94d0"/>
<rect x="1425.68" y="607.24" width="34.72" height="20.01" fill="#3d94d0"/>
<rect x="280.00" y="627.25" width="34.72" height="20.01" fill="#2f84c7"/>
<rect x="314.72" y="627.25" width="34.72" height="20.01" fill="#2f84c7"/>
<rect x="349.44" y="627.25" width="34.72" height="20.01" fill="#2c81c5"/>
<rect x="384.15" y="627.25" width="34.72" height="20.01" fill="#297dc3"/>
<rect x="418.87" y="627.25" width="34.72" height="20.01" fill="#267ac1"/>
<rect x="453.59" y="627.25" width="34.72" height="20.01" fill="#2d82c6"/>
<rect x="488.31" y="627.25" width="34.72" height="20.01" fill="#df5141"/>
<rect x="523.02" y="627.25" width="34.72" height="20.01" fill="#2d82c6"/>
<rect x="557.74" y="627.25" width="34.72" height="20.01" fill="#2c80c5"/>
<rect x="592.46" y="627.25" width="34.72" height="20.01" fill="#2d81c6"/>
<rect x="627.18" y="627.25" width="34.72" height="20.01" fill="#2d82c6"/>
<rect x="661.89" y="627.25" width="34.72" height="20.01" fill="#2e83c6"/>
<rect x="696.61" y="627.25" width="34.72" height="20.01" fill="#2e83c6"/>
<rect x="731.33" y="627.25" width="34.72" height="20.01" fill="#3187c8"/>
<rect x="766.05" y="627.25" width="34.72" height="20.01" fill="#2e83c6"/>
<rect x="800.76" y="627.25" width="34.72" height="20.01" fill="#2b80c5"/>
<rect x="835.48" y="627.25" width="34.72" height="20.01" fill="#2e84c7"/>
<rect x="870.20" y="627.25" width="34.72" height="20.01" fill="#2c81c5"/>
<rect x="904.92" y="627.25" width="34.72" height="20.01" fill="#2d82c6"/>
<rect x="939.64" y="627.25" width="34.72" height="20.01" fill="#2c81c5"/>
<rect x="974.35" y="627.25" width="34.72" height="20.01" fill="#2e83c6"/>
<rect x="1009.07" y="627.25" width="34.72" height="20.01" fill="#348acb"/>
<rect x="1043.79" y="627.25" width="34.72" height="20.01" fill="#3085c8"/>
<rect x="1078.51" y="627.25" width="34.72" height="20.01" fill="#50a0d4"/>
<rect x="1113.22" y="627.25" width="34.72" height="20.01" fill="#3085c8"/>
<rect x="1147.94" y="627.25" width="34.72" height="20.01" fill="#3085c8"/>
<rect x="1182.66" y="627.25" width="34.72" height="20.01" fill="#3085c8"/>
<rect x="1217.38" y="627.25" width="34.72" height="20.01" fill="#e6eef3"/>
<rect x="1252.09" y="627.25" width="34.72" height="20.01" fill="#348acb"/>
<rect x="1286.81" y="627.25" width="34.72" height="20.01" fill="#2c80c5"/>
<rect x="1321.53" y="627.25" width="34.72" height="20.01" fill="#388fcd"/>
<rect x="1356.25" y="627.25" width="34.72" height="20.01" fill="#388fcd"/>
<rect x="1390.96" y="627.25" width="34.72" height="20.01" fill="#348acb"/>
<rect x="1425.68" y="627.25" width="34.72" height="20.01" fill="#388fcd"/>
<rect x="280.00" y="647.26" width="34.72" height="20.01" fill="#2f84c7"/>
<rect x="314.72" y="647.26" width="34.72" height="20.01" fill="#2b80c5"/>
<rect x="349.44" y="647.26" width="34.72" height="20.01" fill="#2d82c6"/>
<rect x="384.15" y="647.26" width="34.72" height="20.01" fill="#2c81c5"/>
<rect x="418.87" y="647.26" width="34.72" height="20.01" fill="#297dc3"/>
<rect x="453.59" y="647.26" width="34.72" height="20.01" fill="#2f84c7"/>
<rect x="488.31" y="647.26" width="34.72" height="20.01" fill="#e8674d"/>
<rect x="523.02" y="647.26" width="34.72" height="20.01" fill="#2c81c5"/>
<rect x="557.74" y="647.26" width="34.72" height="20.01" fill="#2b80c5"/>
<rect x="592.46" y="647.26" width="34.72" height="20.01" fill="#2c80c5"/>
<rect x="627.18" y="647.26" width="34.72" height="20.01" fill="#2f84c7"/>
<rect x="661.89" y="647.26" width="34.72" height="20.01" fill="#2d82c6"/>
<rect x="696.61" y="647.26" width="34.72" height="20.01" fill="#2f84c7"/>
<rect x="731.33" y="647.26" width="34.72" height="20.01" fill="#2f84c7"/>
<rect x="766.05" y="647.26" width="34.72" height="20.01" fill="#2e84c7"/>
<rect x="800.76" y="647.26" width="34.72" height="20.01" fill="#2d82c6"/>
<rect x="835.48" y="647.26" width="34.72" height="20.01" fill="#2c81c5"/>
<rect x="870.20" y="647.26" width="34.72" height="20.01" fill="#2e83c7"/>
<rect x="904.92" y="647.26" width="34.72" height="20.01" fill="#2f84c7"/>
<rect x="939.64" y="647.26" width="34.72" height="20.01" fill="#2b80c5"/>
<rect x="974.35" y="647.26" width="34.72" height="20.01" fill="#2d82c6"/>
<rect x="1009.07" y="647.26" width="34.72" height="20.01" fill="#eaeff3"/>
<rect x="1043.79" y="647.26" width="34.72" height="20.01" fill="#3085c8"/>
<rect x="1078.51" y="647.26" width="34.72" height="20.01" fill="#469ad2"/>
<rect x="1113.22" y="647.26" width="34.72" height="20.01" fill="#2c80c5"/>
<rect x="1147.94" y="647.26" width="34.72" height="20.01" fill="#3085c8"/>
<rect x="1182.66" y="647.26" width="34.72" height="20.01" fill="#3085c8"/>
<rect x="1217.38" y="647.26" width="34.72" height="20.01" fill="#e6eef3"/>
<rect x="1252.09" y="647.26" width="34.72" height="20.01" fill="#3085c8"/>
<rect x="1286.81" y="647.26" width="34.72" height="20.01" fill="#388fcd"/>
<rect x="1321.53" y="647.26" width="34.72" height="20.01" fill="#3085c8"/>
<rect x="1356.25" y="647.26" width="34.72" height="20.01" fill="#388fcd"/>
<rect x="1390.96" y="647.26" width="34.72" height="20.01" fill="#388fcd"/>
<rect x="1425.68" y="647.26" width="34.72" height="20.01" fill="#3d94d0"/>
<rect x="280.00" y="667.27" width="34.72" height="20.01" fill="#2c81c5"/>
<rect x="314.72" y="667.27" width="34.72" height="20.01" fill="#2c80c5"/>
<rect x="349.44" y="667.27" width="34.72" height="20.01" fill="#2e83c7"/>
<rect x="384.15" y="667.27" width="34.72" height="20.01" fill="#2b80c5"/>
<rect x="418.87" y="667.27" width="34.72" height="20.01" fill="#267ac1"/>
<rect x="453.59" y="667.27" width="34.72" height="20.01" fill="#2b80c5"/>
<rect x="488.31" y="667.27" width="34.72" height="20.01" fill="#e8674d"/>
<rect x="523.02" y="667.27" width="34.72" height="20.01" fill="#2d82c6"/>
<rect x="557.74" y="667.27" width="34.72" height="20.01" fill="#2d82c6"/>
<rect x="592.46" y="667.27" width="34.72" height="20.01" fill="#2b80c5"/>
<rect x="627.18" y="667.27" width="34.72" height="20.01" fill="#2c80c5"/>
<rect x="661.89" y="667.27" width="34.72" height="20.01" fill="#2e83c6"/>
<rect x="696.61" y="667.27" width="34.72" height="20.01" fill="#2d81c6"/>
<rect x="731.33" y="667.27" width="34.72" height="20.01" fill="#2f84c7"/>
<rect x="766.05" y="667.27" width="34.72" height="20.01" fill="#2c81c5"/>
<rect x="800.76" y="667.27" width="34.72" height="20.01" fill="#2f84c7"/>
<rect x="835.48" y="667.27" width="34.72" height="20.01" fill="#2c81c5"/>
<rect x="870.20" y="667.27" width="34.72" height="20.01" fill="#2d82c6"/>
<rect x="904.92" y="667.27" width="34.72" height="20.01" fill="#2c81c5"/>
<rect x="939.64" y="667.27" width="34.72" height="20.01" fill="#2d81c6"/>
<rect x="974.35" y="667.27" width="34.72" height="20.01" fill="#2e84c7"/>
<rect x="1009.07" y="667.27" width="34.72" height="20.01" fill="#6eb1db"/>
<rect x="1043.79" y="667.27" width="34.72" height="20.01" fill="#2c80c5"/>
<rect x="1078.51" y="667.27" width="34.72" height="20.01" fill="#50a0d4"/>
<rect x="1113.22" y="667.27" width="34.72" height="20.01" fill="#2c80c5"/>
<rect x="1147.94" y="667.27" width="34.72" height="20.01" fill="#3085c8"/>
<rect x="1182.66" y="667.27" width="34.72" height="20.01" fill="#3085c8"/>
<rect x="1217.38" y="667.27" width="34.72" height="20.01" fill="#eaeff3"/>
<rect x="1252.09" y="667.27" width="34.72" height="20.01" fill="#2c80c5"/>
<rect x="1286.81" y="667.27" width="34.72" height="20.01" fill="#348acb"/>
<rect x="1321.53" y="667.27" width="34.72" height="20.01" fill="#388fcd"/>
<rect x="1356.25" y="667.27" width="34.72" height="20.01" fill="#388fcd"/>
<rect x="1390.96" y="667.27" width="34.72" height="20.01" fill="#388fcd"/>
<rect x="1425.68" y="667.27" width="34.72" height="20.01" fill="#388fcd"/>
<rect x="280.00" y="687.28" width="34.72" height="20.01" fill="#2b7fc4"/>
<rect x="314.72" y="687.28" width="34.72" height="20.01" fill="#2d82c6"/>
<rect x="349.44" y="687.28" width="34.72" height="20.01" fill="#2d83c6"/>
<rect x="384.15" y="687.28" width="34.72" height="20.01" fill="#2d81c6"/>
<rect x="418.87" y="687.28" width="34.72" height="20.01" fill="#267ac1"/>
<rect x="453.59" y="687.28" width="34.72" height="20.01" fill="#2d82c6"/>
<rect x="488.31" y="687.28" width="34.72" height="20.01" fill="#e8674d"/>
<rect x="523.02" y="687.28" width="34.72" height="20.01" fill="#2d82c6"/>
<rect x="557.74" y="687.28" width="34.72" height="20.01" fill="#2b80c5"/>
<rect x="592.46" y="687.28" width="34.72" height="20.01" fill="#2c81c5"/>
<rect x="627.18" y="687.28" width="34.72" height="20.01" fill="#2d82c6"/>
<rect x="661.89" y="687.28" width="34.72" height="20.01" fill="#2f84c7"/>
<rect x="696.61" y="687.28" width="34.72" height="20.01" fill="#2b80c5"/>
<rect x="731.33" y="687.28" width="34.72" height="20.01" fill="#2f85c7"/>
<rect x="766.05" y="687.28" width="34.72" height="20.01" fill="#2e83c7"/>
<rect x="800.76" y="687.28" width="34.72" height="20.01" fill="#2f84c7"/>
<rect x="835.48" y="687.28" width="34.72" height="20.01" fill="#2c80c5"/>
<rect x="870.20" y="687.28" width="34.72" height="20.01" fill="#2b80c5"/>
<rect x="904.92" y="687.28" width="34.72" height="20.01" fill="#2f84c7"/>
<rect x="939.64" y="687.28" width="34.72" height="20.01" fill="#2f84c7"/>
<rect x="974.35" y="687.28" width="34.72" height="20.01" fill="#2d82c6"/>
<rect x="1009.07" y="687.28" width="34.72" height="20.01" fill="#6eb1db"/>
<rect x="1043.79" y="687.28" width="34.72" height="20.01" fill="#2c80c5"/>
<rect x="1078.51" y="687.28" width="34.72" height="20.01" fill="#469ad2"/>
<rect x="1113.22" y="687.28" width="34.72" height="20.01" fill="#2c80c5"/>
<rect x="1147.94" y="687.28" width="34.72" height="20.01" fill="#3085c8"/>
<rect x="1182.66" y="687.28" width="34.72" height="20.01" fill="#3085c8"/>
<rect x="1217.38" y="687.28" width="34.72" height="20.01" fill="#f3f3f5"/>
<rect x="1252.09" y="687.28" width="34.72" height="20.01" fill="#3085c8"/>
<rect x="1286.81" y="687.28" width="34.72" height="20.01" fill="#348acb"/>
<rect x="1321.53" y="687.28" width="34.72" height="20.01" fill="#3085c8"/>
<rect x="1356.25" y="687.28" width="34.72" height="20.01" fill="#388fcd"/>
<rect x="1390.96" y="687.28" width="34.72" height="20.01" fill="#388fcd"/>
<rect x="1425.68" y="687.28" width="34.72" height="20.01" fill="#388fcd"/>
<rect x="280.00" y="707.29" width="34.72" height="20.01" fill="#2c80c5"/>
<rect x="314.72" y="707.29" width="34.72" height="20.01" fill="#2c81c6"/>
<rect x="349.44" y="707.29" width="34.72" height="20.01" fill="#2d82c6"/>
<rect x="384.15" y="707.29" width="34.72" height="20.01" fill="#2a7fc4"/>
<rect x="418.87" y="707.29" width="34.72" height="20.01" fill="#267ac1"/>
<rect x="453.59" y="707.29" width="34.72" height="20.01" fill="#2c81c5"/>
<rect x="488.31" y="707.29" width="34.72" height="20.01" fill="#ea7054"/>
<rect x="523.02" y="707.29" width="34.72" height="20.01" fill="#2f84c7"/>
<rect x="557.74" y="707.29" width="34.72" height="20.01" fill="#2b80c5"/>
<rect x="592.46" y="707.29" width="34.72" height="20.01" fill="#2d82c6"/>
<rect x="627.18" y="707.29" width="34.72" height="20.01" fill="#2e83c7"/>
<rect x="661.89" y="707.29" width="34.72" height="20.01" fill="#2b7fc4"/>
<rect x="696.61" y="707.29" width="34.72" height="20.01" fill="#2e83c7"/>
<rect x="731.33" y="707.29" width="34.72" height="20.01" fill="#2e83c6"/>
<rect x="766.05" y="707.29" width="34.72" height="20.01" fill="#2d82c6"/>
<rect x="800.76" y="707.29" width="34.72" height="20.01" fill="#2d82c6"/>
<rect x="835.48" y="707.29" width="34.72" height="20.01" fill="#2d82c6"/>
<rect x="870.20" y="707.29" width="34.72" height="20.01" fill="#2c81c5"/>
<rect x="904.92" y="707.29" width="34.72" height="20.01" fill="#2d81c6"/>
<rect x="939.64" y="707.29" width="34.72" height="20.01" fill="#2d82c6"/>
<rect x="974.35" y="707.29" width="34.72" height="20.01" fill="#2d81c6"/>
<rect x="1009.07" y="707.29" width="34.72" height="20.01" fill="#6eb1db"/>
<rect x="1043.79" y="707.29" width="34.72" height="20.01" fill="#2c80c5"/>
<rect x="1078.51" y="707.29" width="34.72" height="20.01" fill="#469ad2"/>
<rect x="1113.22" y="707.29" width="34.72" height="20.01" fill="#287bc2"/>
<rect x="1147.94" y="707.29" width="34.72" height="20.01" fill="#2c80c5"/>
<rect x="1182.66" y="707.29" width="34.72" height="20.01" fill="#3085c8"/>
<rect x="1217.38" y="707.29" width="34.72" height="20.01" fill="#f6efec"/>
<rect x="1252.09" y="707.29" width="34.72" height="20.01" fill="#2c80c5"/>
<rect x="1286.81" y="707.29" width="34.72" height="20.01" fill="#348acb"/>
<rect x="1321.53" y="707.29" width="34.72" height="20.01" fill="#388fcd"/>
<rect x="1356.25" y="707.29" width="34.72" height="20.01" fill="#388fcd"/>
<rect x="1390.96" y="707.29" width="34.72" height="20.01" fill="#3d94d0"/>
<rect x="1425.68" y="707.29" width="34.72" height="20.01" fill="#3d94d0"/>
<rect x="280.00" y="727.30" width="34.72" height="20.01" fill="#287cc3"/>
<rect x="314.72" y="727.30" width="34.72" height="20.01" fill="#2d81c6"/>
<rect x="349.44" y="727.30" width="34.72" height="20.01" fill="#2b80c5"/>
<rect x="384.15" y="727.30" width="34.72" height="20.01" fill="#2072bd"/>
<rect x="418.87" y="727.30" width="34.72" height="20.01" fill="#1d6fbb"/>
<rect x="453.59" y="727.30" width="34.72" height="20.01" fill="#2579c1"/>
<rect x="488.31" y="727.30" width="34.72" height="20.01" fill="#77b7dd"/>
<rect x="523.02" y="727.30" width="34.72" height="20.01" fill="#2b7fc4"/>
<rect x="557.74" y="727.30" width="34.72" height="20.01" fill="#2b7fc4"/>
<rect x="592.46" y="727.30" width="34.72" height="20.01" fill="#2174be"/>
<rect x="627.18" y="727.30" width="34.72" height="20.01" fill="#2b7fc4"/>
<rect x="661.89" y="727.30" width="34.72" height="20.01" fill="#2174be"/>
<rect x="696.61" y="727.30" width="34.72" height="20.01" fill="#2174be"/>
<rect x="731.33" y="727.30" width="34.72" height="20.01" fill="#2579c1"/>
<rect x="766.05" y="727.30" width="34.72" height="20.01" fill="#2174be"/>
<rect x="800.76" y="727.30" width="34.72" height="20.01" fill="#1f71bd"/>
<rect x="835.48" y="727.30" width="34.72" height="20.01" fill="#1f71bd"/>
<rect x="870.20" y="727.30" width="34.72" height="20.01" fill="#2072bd"/>
<rect x="904.92" y="727.30" width="34.72" height="20.01" fill="#1f71bd"/>
<rect x="939.64" y="727.30" width="34.72" height="20.01" fill="#1f71bd"/>
<rect x="974.35" y="727.30" width="34.72" height="20.01" fill="#1e70bc"/>
<rect x="1009.07" y="727.30" width="34.72" height="20.01" fill="#f6f2f2"/>
<rect x="1043.79" y="727.30" width="34.72" height="20.01" fill="#2c80c5"/>
<rect x="1078.51" y="727.30" width="34.72" height="20.01" fill="#add3e8"/>
<rect x="1113.22" y="727.30" width="34.72" height="20.01" fill="#469ad2"/>
<rect x="1147.94" y="727.30" width="34.72" height="20.01" fill="#348acb"/>
<rect x="1182.66" y="727.30" width="34.72" height="20.01" fill="#348acb"/>
<rect x="1217.38" y="727.30" width="34.72" height="20.01" fill="#fccbb1"/>
<rect x="1252.09" y="727.30" width="34.72" height="20.01" fill="#50a0d4"/>
<rect x="1286.81" y="727.30" width="34.72" height="20.01" fill="#a5cfe6"/>
<rect x="1321.53" y="727.30" width="34.72" height="20.01" fill="#bedbec"/>
<rect x="1356.25" y="727.30" width="34.72" height="20.01" fill="#d9e8f1"/>
<rect x="1390.96" y="727.30" width="34.72" height="20.01" fill="#94c7e3"/>
<rect x="1425.68" y="727.30" width="34.72" height="20.01" fill="#deeaf2"/>
<rect x="280.00" y="747.31" width="34.72" height="20.01" fill="#2e83c7"/>
<rect x="314.72" y="747.31" width="34.72" height="20.01" fill="#2b80c5"/>
<rect x="349.44" y="747.31" width="34.72" height="20.01" fill="#2d82c6"/>
<rect x="384.15" y="747.31" width="34.72" height="20.01" fill="#2d81c6"/>
<rect x="418.87" y="747.31" width="34.72" height="20.01" fill="#2174be"/>
<rect x="453.59" y="747.31" width="34.72" height="20.01" fill="#287bc2"/>
<rect x="488.31" y="747.31" width="34.72" height="20.01" fill="#3085c8"/>
<rect x="523.02" y="747.31" width="34.72" height="20.01" fill="#2376bf"/>
<rect x="557.74" y="747.31" width="34.72" height="20.01" fill="#2376bf"/>
<rect x="592.46" y="747.31" width="34.72" height="20.01" fill="#2174be"/>
<rect x="627.18" y="747.31" width="34.72" height="20.01" fill="#287bc2"/>
<rect x="661.89" y="747.31" width="34.72" height="20.01" fill="#2174be"/>
<rect x="696.61" y="747.31" width="34.72" height="20.01" fill="#2174be"/>
<rect x="731.33" y="747.31" width="34.72" height="20.01" fill="#2579c1"/>
<rect x="766.05" y="747.31" width="34.72" height="20.01" fill="#2174be"/>
<rect x="800.76" y="747.31" width="34.72" height="20.01" fill="#2072bd"/>
<rect x="835.48" y="747.31" width="34.72" height="20.01" fill="#1f71bd"/>
<rect x="870.20" y="747.31" width="34.72" height="20.01" fill="#2072bd"/>
<rect x="904.92" y="747.31" width="34.72" height="20.01" fill="#1f71bd"/>
<rect x="939.64" y="747.31" width="34.72" height="20.01" fill="#1f71bd"/>
<rect x="974.35" y="747.31" width="34.72" height="20.01" fill="#1f71bd"/>
<rect x="1009.07" y="747.31" width="34.72" height="20.01" fill="#e6eef3"/>
<rect x="1043.79" y="747.31" width="34.72" height="20.01" fill="#2c80c5"/>
<rect x="1078.51" y="747.31" width="34.72" height="20.01" fill="#6eb1db"/>
<rect x="1113.22" y="747.31" width="34.72" height="20.01" fill="#e2ecf2"/>
<rect x="1147.94" y="747.31" width="34.72" height="20.01" fill="#3085c8"/>
<rect x="1182.66" y="747.31" width="34.72" height="20.01" fill="#348acb"/>
<rect x="1217.38" y="747.31" width="34.72" height="20.01" fill="#fdd2ba"/>
<rect x="1252.09" y="747.31" width="34.72" height="20.01" fill="#388fcd"/>
<rect x="1286.81" y="747.31" width="34.72" height="20.01" fill="#8bc2e1"/>
<rect x="1321.53" y="747.31" width="34.72" height="20.01" fill="#eaeff3"/>
<rect x="1356.25" y="747.31" width="34.72" height="20.01" fill="#e6eef3"/>
<rect x="1390.96" y="747.31" width="34.72" height="20.01" fill="#6eb1db"/>
<rect x="1425.68" y="747.31" width="34.72" height="20.01" fill="#deeaf2"/>
<rect x="280.00" y="767.32" width="34.72" height="20.01" fill="#2d82c6"/>
<rect x="314.72" y="767.32" width="34.72" height="20.01" fill="#2c80c5"/>
<rect x="349.44" y="767.32" width="34.72" height="20.01" fill="#2e83c6"/>
<rect x="384.15" y="767.32" width="34.72" height="20.01" fill="#297dc3"/>
<rect x="418.87" y="767.32" width="34.72" height="20.01" fill="#2376bf"/>
<rect x="453.59" y="767.32" width="34.72" height="20.01" fill="#2c81c5"/>
<rect x="488.31" y="767.32" width="34.72" height="20.01" fill="#3085c8"/>
<rect x="523.02" y="767.32" width="34.72" height="20.01" fill="#2f84c7"/>
<rect x="557.74" y="767.32" width="34.72" height="20.01" fill="#2d82c6"/>
<rect x="592.46" y="767.32" width="34.72" height="20.01" fill="#2e83c6"/>
<rect x="627.18" y="767.32" width="34.72" height="20.01" fill="#2c81c5"/>
<rect x="661.89" y="767.32" width="34.72" height="20.01" fill="#2b7fc4"/>
<rect x="696.61" y="767.32" width="34.72" height="20.01" fill="#2579c1"/>
<rect x="731.33" y="767.32" width="34.72" height="20.01" fill="#2a7ec4"/>
<rect x="766.05" y="767.32" width="34.72" height="20.01" fill="#2579c1"/>
<rect x="800.76" y="767.32" width="34.72" height="20.01" fill="#287cc3"/>
<rect x="835.48" y="767.32" width="34.72" height="20.01" fill="#2579c1"/>
<rect x="870.20" y="767.32" width="34.72" height="20.01" fill="#2a7fc4"/>
<rect x="904.92" y="767.32" width="34.72" height="20.01" fill="#2579c1"/>
<rect x="939.64" y="767.32" width="34.72" height="20.01" fill="#287bc2"/>
<rect x="974.35" y="767.32" width="34.72" height="20.01" fill="#2579c1"/>
<rect x="1009.07" y="767.32" width="34.72" height="20.01" fill="#e6eef3"/>
<rect x="1043.79" y="767.32" width="34.72" height="20.01" fill="#3085c8"/>
<rect x="1078.51" y="767.32" width="34.72" height="20.01" fill="#add3e8"/>
<rect x="1113.22" y="767.32" width="34.72" height="20.01" fill="#2c80c5"/>
<rect x="1147.94" y="767.32" width="34.72" height="20.01" fill="#348acb"/>
<rect x="1182.66" y="767.32" width="34.72" height="20.01" fill="#388fcd"/>
<rect x="1217.38" y="767.32" width="34.72" height="20.01" fill="#e8674d"/>
<rect x="1252.09" y="767.32" width="34.72" height="20.01" fill="#348acb"/>
<rect x="1286.81" y="767.32" width="34.72" height="20.01" fill="#6eb1db"/>
<rect x="1321.53" y="767.32" width="34.72" height="20.01" fill="#5aa6d6"/>
<rect x="1356.25" y="767.32" width="34.72" height="20.01" fill="#50a0d4"/>
<rect x="1390.96" y="767.32" width="34.72" height="20.01" fill="#6eb1db"/>
<rect x="1425.68" y="767.32" width="34.72" height="20.01" fill="#8bc2e1"/>
<rect x="280.00" y="787.33" width="34.72" height="20.01" fill="#2c81c5"/>
<rect x="314.72" y="787.33" width="34.72" height="20.01" fill="#2b80c5"/>
<rect x="349.44" y="787.33" width="34.72" height="20.01" fill="#2b80c5"/>
<rect x="384.15" y="787.33" width="34.72" height="20.01" fill="#2579c1"/>
<rect x="418.87" y="787.33" width="34.72" height="20.01" fill="#2376bf"/>
<rect x="453.59" y="787.33" width="34.72" height="20.01" fill="#2e83c7"/>
<rect x="488.31" y="787.33" width="34.72" height="20.01" fill="#deeaf2"/>
<rect x="523.02" y="787.33" width="34.72" height="20.01" fill="#2c81c5"/>
<rect x="557.74" y="787.33" width="34.72" height="20.01" fill="#2b7fc4"/>
<rect x="592.46" y="787.33" width="34.72" height="20.01" fill="#2e83c6"/>
<rect x="627.18" y="787.33" width="34.72" height="20.01" fill="#2d82c6"/>
<rect x="661.89" y="787.33" width="34.72" height="20.01" fill="#2c81c5"/>
<rect x="696.61" y="787.33" width="34.72" height="20.01" fill="#297ec3"/>
<rect x="731.33" y="787.33" width="34.72" height="20.01" fill="#2b80c5"/>
<rect x="766.05" y="787.33" width="34.72" height="20.01" fill="#2b7fc4"/>
<rect x="800.76" y="787.33" width="34.72" height="20.01" fill="#2a7ec4"/>
<rect x="835.48" y="787.33" width="34.72" height="20.01" fill="#287cc2"/>
<rect x="870.20" y="787.33" width="34.72" height="20.01" fill="#2a7fc4"/>
<rect x="904.92" y="787.33" width="34.72" height="20.01" fill="#277bc2"/>
<rect x="939.64" y="787.33" width="34.72" height="20.01" fill="#297dc3"/>
<rect x="974.35" y="787.33" width="34.72" height="20.01" fill="#287cc3"/>
<rect x="1009.07" y="787.33" width="34.72" height="20.01" fill="#94c7e3"/>
<rect x="1043.79" y="787.33" width="34.72" height="20.01" fill="#469ad2"/>
<rect x="1078.51" y="787.33" width="34.72" height="20.01" fill="#469ad2"/>
<rect x="1113.22" y="787.33" width="34.72" height="20.01" fill="#77b7dd"/>
<rect x="1147.94" y="787.33" width="34.72" height="20.01" fill="#3085c8"/>
<rect x="1182.66" y="787.33" width="34.72" height="20.01" fill="#388fcd"/>
<rect x="1217.38" y="787.33" width="34.72" height="20.01" fill="#f08060"/>
<rect x="1252.09" y="787.33" width="34.72" height="20.01" fill="#348acb"/>
<rect x="1286.81" y="787.33" width="34.72" height="20.01" fill="#3085c8"/>
<rect x="1321.53" y="787.33" width="34.72" height="20.01" fill="#add3e8"/>
<rect x="1356.25" y="787.33" width="34.72" height="20.01" fill="#6eb1db"/>
<rect x="1390.96" y="787.33" width="34.72" height="20.01" fill="#50a0d4"/>
<rect x="1425.68" y="787.33" width="34.72" height="20.01" fill="#8bc2e1"/>
<rect x="280.00" y="807.34" width="34.72" height="20.01" fill="#2c81c5"/>
<rect x="314.72" y="807.34" width="34.72" height="20.01" fill="#2c81c5"/>
<rect x="349.44" y="807.34" width="34.72" height="20.01" fill="#2b80c5"/>
<rect x="384.15" y="807.34" width="34.72" height="20.01" fill="#2c81c5"/>
<rect x="418.87" y="807.34" width="34.72" height="20.01" fill="#2578c0"/>
<rect x="453.59" y="807.34" width="34.72" height="20.01" fill="#2e83c6"/>
<rect x="488.31" y="807.34" width="34.72" height="20.01" fill="#c7e0ee"/>
<rect x="523.02" y="807.34" width="34.72" height="20.01" fill="#2e84c7"/>
<rect x="557.74" y="807.34" width="34.72" height="20.01" fill="#2e83c6"/>
<rect x="592.46" y="807.34" width="34.72" height="20.01" fill="#2d82c6"/>
<rect x="627.18" y="807.34" width="34.72" height="20.01" fill="#2e83c6"/>
<rect x="661.89" y="807.34" width="34.72" height="20.01" fill="#2d82c6"/>
<rect x="696.61" y="807.34" width="34.72" height="20.01" fill="#287bc2"/>
<rect x="731.33" y="807.34" width="34.72" height="20.01" fill="#2a7ec4"/>
<rect x="766.05" y="807.34" width="34.72" height="20.01" fill="#287bc2"/>
<rect x="800.76" y="807.34" width="34.72" height="20.01" fill="#277ac2"/>
<rect x="835.48" y="807.34" width="34.72" height="20.01" fill="#287cc3"/>
<rect x="870.20" y="807.34" width="34.72" height="20.01" fill="#2a7ec4"/>
<rect x="904.92" y="807.34" width="34.72" height="20.01" fill="#2a7ec4"/>
<rect x="939.64" y="807.34" width="34.72" height="20.01" fill="#2a7fc4"/>
<rect x="974.35" y="807.34" width="34.72" height="20.01" fill="#2a7ec4"/>
<rect x="1009.07" y="807.34" width="34.72" height="20.01" fill="#348acb"/>
<rect x="1043.79" y="807.34" width="34.72" height="20.01" fill="#348acb"/>
<rect x="1078.51" y="807.34" width="34.72" height="20.01" fill="#3d94d0"/>
<rect x="1113.22" y="807.34" width="34.72" height="20.01" fill="#469ad2"/>
<rect x="1147.94" y="807.34" width="34.72" height="20.01" fill="#348acb"/>
<rect x="1182.66" y="807.34" width="34.72" height="20.01" fill="#388fcd"/>
<rect x="1217.38" y="807.34" width="34.72" height="20.01" fill="#e55f47"/>
<rect x="1252.09" y="807.34" width="34.72" height="20.01" fill="#388fcd"/>
<rect x="1286.81" y="807.34" width="34.72" height="20.01" fill="#81bddf"/>
<rect x="1321.53" y="807.34" width="34.72" height="20.01" fill="#a5cfe6"/>
<rect x="1356.25" y="807.34" width="34.72" height="20.01" fill="#81bddf"/>
<rect x="1390.96" y="807.34" width="34.72" height="20.01" fill="#64abd8"/>
<rect x="1425.68" y="807.34" width="34.72" height="20.01" fill="#81bddf"/>
<rect x="280.00" y="827.35" width="34.72" height="20.01" fill="#2e83c6"/>
<rect x="314.72" y="827.35" width="34.72" height="20.01" fill="#2376bf"/>
<rect x="349.44" y="827.35" width="34.72" height="20.01" fill="#2376bf"/>
<rect x="384.15" y="827.35" width="34.72" height="20.01" fill="#2a7ec4"/>
<rect x="418.87" y="827.35" width="34.72" height="20.01" fill="#2376bf"/>
<rect x="453.59" y="827.35" width="34.72" height="20.01" fill="#2c81c5"/>
<rect x="488.31" y="827.35" width="34.72" height="20.01" fill="#469ad2"/>
<rect x="523.02" y="827.35" width="34.72" height="20.01" fill="#2f84c7"/>
<rect x="557.74" y="827.35" width="34.72" height="20.01" fill="#2d82c6"/>
<rect x="592.46" y="827.35" width="34.72" height="20.01" fill="#2e83c6"/>
<rect x="627.18" y="827.35" width="34.72" height="20.01" fill="#2e83c6"/>
<rect x="661.89" y="827.35" width="34.72" height="20.01" fill="#2579c1"/>
<rect x="696.61" y="827.35" width="34.72" height="20.01" fill="#2579c1"/>
<rect x="731.33" y="827.35" width="34.72" height="20.01" fill="#2d82c6"/>
<rect x="766.05" y="827.35" width="34.72" height="20.01" fill="#2a7ec4"/>
<rect x="800.76" y="827.35" width="34.72" height="20.01" fill="#2a7fc4"/>
<rect x="835.48" y="827.35" width="34.72" height="20.01" fill="#287cc3"/>
<rect x="870.20" y="827.35" width="34.72" height="20.01" fill="#2a7ec4"/>
<rect x="904.92" y="827.35" width="34.72" height="20.01" fill="#297dc3"/>
<rect x="939.64" y="827.35" width="34.72" height="20.01" fill="#287cc2"/>
<rect x="974.35" y="827.35" width="34.72" height="20.01" fill="#287bc2"/>
<rect x="1009.07" y="827.35" width="34.72" height="20.01" fill="#e6eef3"/>
<rect x="1043.79" y="827.35" width="34.72" height="20.01" fill="#3d94d0"/>
<rect x="1078.51" y="827.35" width="34.72" height="20.01" fill="#5aa6d6"/>
<rect x="1113.22" y="827.35" width="34.72" height="20.01" fill="#388fcd"/>
<rect x="1147.94" y="827.35" width="34.72" height="20.01" fill="#348acb"/>
<rect x="1182.66" y="827.35" width="34.72" height="20.01" fill="#388fcd"/>
<rect x="1217.38" y="827.35" width="34.72" height="20.01" fill="#f28966"/>
<rect x="1252.09" y="827.35" width="34.72" height="20.01" fill="#3d94d0"/>
<rect x="1286.81" y="827.35" width="34.72" height="20.01" fill="#81bddf"/>
<rect x="1321.53" y="827.35" width="34.72" height="20.01" fill="#bedbec"/>
<rect x="1356.25" y="827.35" width="34.72" height="20.01" fill="#81bddf"/>
<rect x="1390.96" y="827.35" width="34.72" height="20.01" fill="#77b7dd"/>
<rect x="1425.68" y="827.35" width="34.72" height="20.01" fill="#81bddf"/>
<rect x="280.00" y="847.36" width="34.72" height="20.01" fill="#2e83c6"/>
<rect x="314.72" y="847.36" width="34.72" height="20.01" fill="#2e83c6"/>
<rect x="349.44" y="847.36" width="34.72" height="20.01" fill="#3389ca"/>
<rect x="384.15" y="847.36" width="34.72" height="20.01" fill="#2b80c5"/>
<rect x="418.87" y="847.36" width="34.72" height="20.01" fill="#2174be"/>
<rect x="453.59" y="847.36" width="34.72" height="20.01" fill="#2e83c7"/>
<rect x="488.31" y="847.36" width="34.72" height="20.01" fill="#388fcd"/>
<rect x="523.02" y="847.36" width="34.72" height="20.01" fill="#2f84c7"/>
<rect x="557.74" y="847.36" width="34.72" height="20.01" fill="#2b80c5"/>
<rect x="592.46" y="847.36" width="34.72" height="20.01" fill="#2376bf"/>
<rect x="627.18" y="847.36" width="34.72" height="20.01" fill="#2f84c7"/>
<rect x="661.89" y="847.36" width="34.72" height="20.01" fill="#2f84c7"/>
<rect x="696.61" y="847.36" width="34.72" height="20.01" fill="#2376bf"/>
<rect x="731.33" y="847.36" width="34.72" height="20.01" fill="#2a7ec4"/>
<rect x="766.05" y="847.36" width="34.72" height="20.01" fill="#277bc2"/>
<rect x="800.76" y="847.36" width="34.72" height="20.01" fill="#277ac2"/>
<rect x="835.48" y="847.36" width="34.72" height="20.01" fill="#2a7fc4"/>
<rect x="870.20" y="847.36" width="34.72" height="20.01" fill="#2a7ec4"/>
<rect x="904.92" y="847.36" width="34.72" height="20.01" fill="#297dc3"/>
<rect x="939.64" y="847.36" width="34.72" height="20.01" fill="#2a7ec4"/>
<rect x="974.35" y="847.36" width="34.72" height="20.01" fill="#297dc3"/>
<rect x="1009.07" y="847.36" width="34.72" height="20.01" fill="#81bddf"/>
<rect x="1043.79" y="847.36" width="34.72" height="20.01" fill="#3d94d0"/>
<rect x="1078.51" y="847.36" width="34.72" height="20.01" fill="#3d94d0"/>
<rect x="1113.22" y="847.36" width="34.72" height="20.01" fill="#3d94d0"/>
<rect x="1147.94" y="847.36" width="34.72" height="20.01" fill="#348acb"/>
<rect x="1182.66" y="847.36" width="34.72" height="20.01" fill="#388fcd"/>
<rect x="1217.38" y="847.36" width="34.72" height="20.01" fill="#e8674d"/>
<rect x="1252.09" y="847.36" width="34.72" height="20.01" fill="#3d94d0"/>
<rect x="1286.81" y="847.36" width="34.72" height="20.01" fill="#94c7e3"/>
<rect x="1321.53" y="847.36" width="34.72" height="20.01" fill="#6eb1db"/>
<rect x="1356.25" y="847.36" width="34.72" height="20.01" fill="#94c7e3"/>
<rect x="1390.96" y="847.36" width="34.72" height="20.01" fill="#64abd8"/>
<rect x="1425.68" y="847.36" width="34.72" height="20.01" fill="#add3e8"/>
<rect x="280.00" y="867.38" width="34.72" height="20.01" fill="#287bc2"/>
<rect x="314.72" y="867.38" width="34.72" height="20.01" fill="#3389ca"/>
<rect x="349.44" y="867.38" width="34.72" height="20.01" fill="#358bcb"/>
<rect x="384.15" y="867.38" width="34.72" height="20.01" fill="#3288c9"/>
<rect x="418.87" y="867.38" width="34.72" height="20.01" fill="#3b93d0"/>
<rect x="453.59" y="867.38" width="34.72" height="20.01" fill="#2d81c6"/>
<rect x="488.31" y="867.38" width="34.72" height="20.01" fill="#3085c8"/>
<rect x="523.02" y="867.38" width="34.72" height="20.01" fill="#2e83c7"/>
<rect x="557.74" y="867.38" width="34.72" height="20.01" fill="#2c81c5"/>
<rect x="592.46" y="867.38" width="34.72" height="20.01" fill="#2174be"/>
<rect x="627.18" y="867.38" width="34.72" height="20.01" fill="#2d82c6"/>
<rect x="661.89" y="867.38" width="34.72" height="20.01" fill="#2376bf"/>
<rect x="696.61" y="867.38" width="34.72" height="20.01" fill="#1f71bd"/>
<rect x="731.33" y="867.38" width="34.72" height="20.01" fill="#2a7ec4"/>
<rect x="766.05" y="867.38" width="34.72" height="20.01" fill="#2376bf"/>
<rect x="800.76" y="867.38" width="34.72" height="20.01" fill="#2376bf"/>
<rect x="835.48" y="867.38" width="34.72" height="20.01" fill="#2376bf"/>
<rect x="870.20" y="867.38" width="34.72" height="20.01" fill="#2376bf"/>
<rect x="904.92" y="867.38" width="34.72" height="20.01" fill="#2376bf"/>
<rect x="939.64" y="867.38" width="34.72" height="20.01" fill="#2376bf"/>
<rect x="974.35" y="867.38" width="34.72" height="20.01" fill="#2376bf"/>
<rect x="1009.07" y="867.38" width="34.72" height="20.01" fill="#5aa6d6"/>
<rect x="1043.79" y="867.38" width="34.72" height="20.01" fill="#469ad2"/>
<rect x="1078.51" y="867.38" width="34.72" height="20.01" fill="#50a0d4"/>
<rect x="1113.22" y="867.38" width="34.72" height="20.01" fill="#469ad2"/>
<rect x="1147.94" y="867.38" width="34.72" height="20.01" fill="#348acb"/>
<rect x="1182.66" y="867.38" width="34.72" height="20.01" fill="#3d94d0"/>
<rect x="1217.38" y="867.38" width="34.72" height="20.01" fill="#f5916d"/>
<rect x="1252.09" y="867.38" width="34.72" height="20.01" fill="#469ad2"/>
<rect x="1286.81" y="867.38" width="34.72" height="20.01" fill="#94c7e3"/>
<rect x="1321.53" y="867.38" width="34.72" height="20.01" fill="#a5cfe6"/>
<rect x="1356.25" y="867.38" width="34.72" height="20.01" fill="#b6d7ea"/>
<rect x="1390.96" y="867.38" width="34.72" height="20.01" fill="#64abd8"/>
<rect x="1425.68" y="867.38" width="34.72" height="20.01" fill="#d9e8f1"/>
<rect x="280.00" y="887.39" width="34.72" height="20.01" fill="#368dcc"/>
<rect x="314.72" y="887.39" width="34.72" height="20.01" fill="#2d82c6"/>
<rect x="349.44" y="887.39" width="34.72" height="20.01" fill="#2b80c5"/>
<rect x="384.15" y="887.39" width="34.72" height="20.01" fill="#2c81c5"/>
<rect x="418.87" y="887.39" width="34.72" height="20.01" fill="#287bc2"/>
<rect x="453.59" y="887.39" width="34.72" height="20.01" fill="#2e83c7"/>
<rect x="488.31" y="887.39" width="34.72" height="20.01" fill="#f6efec"/>
<rect x="523.02" y="887.39" width="34.72" height="20.01" fill="#2c81c5"/>
<rect x="557.74" y="887.39" width="34.72" height="20.01" fill="#2c81c6"/>
<rect x="592.46" y="887.39" width="34.72" height="20.01" fill="#2c81c5"/>
<rect x="627.18" y="887.39" width="34.72" height="20.01" fill="#2f84c7"/>
<rect x="661.89" y="887.39" width="34.72" height="20.01" fill="#2b80c5"/>
<rect x="696.61" y="887.39" width="34.72" height="20.01" fill="#2a7fc4"/>
<rect x="731.33" y="887.39" width="34.72" height="20.01" fill="#297dc3"/>
<rect x="766.05" y="887.39" width="34.72" height="20.01" fill="#287bc2"/>
<rect x="800.76" y="887.39" width="34.72" height="20.01" fill="#287cc2"/>
<rect x="835.48" y="887.39" width="34.72" height="20.01" fill="#2a7fc4"/>
<rect x="870.20" y="887.39" width="34.72" height="20.01" fill="#297dc3"/>
<rect x="904.92" y="887.39" width="34.72" height="20.01" fill="#287cc3"/>
<rect x="939.64" y="887.39" width="34.72" height="20.01" fill="#2a7fc4"/>
<rect x="974.35" y="887.39" width="34.72" height="20.01" fill="#287bc2"/>
<rect x="1009.07" y="887.39" width="34.72" height="20.01" fill="#eff1f4"/>
<rect x="1043.79" y="887.39" width="34.72" height="20.01" fill="#3085c8"/>
<rect x="1078.51" y="887.39" width="34.72" height="20.01" fill="#50a0d4"/>
<rect x="1113.22" y="887.39" width="34.72" height="20.01" fill="#287bc2"/>
<rect x="1147.94" y="887.39" width="34.72" height="20.01" fill="#3085c8"/>
<rect x="1182.66" y="887.39" width="34.72" height="20.01" fill="#348acb"/>
<rect x="1217.38" y="887.39" width="34.72" height="20.01" fill="#f89973"/>
<rect x="1252.09" y="887.39" width="34.72" height="20.01" fill="#2c80c5"/>
<rect x="1286.81" y="887.39" width="34.72" height="20.01" fill="#469ad2"/>
<rect x="1321.53" y="887.39" width="34.72" height="20.01" fill="#3d94d0"/>
<rect x="1356.25" y="887.39" width="34.72" height="20.01" fill="#3d94d0"/>
<rect x="1390.96" y="887.39" width="34.72" height="20.01" fill="#469ad2"/>
<rect x="1425.68" y="887.39" width="34.72" height="20.01" fill="#469ad2"/>
<rect x="280.00" y="907.40" width="34.72" height="20.01" fill="#388fcd"/>
<rect x="314.72" y="907.40" width="34.72" height="20.01" fill="#2d82c6"/>
<rect x="349.44" y="907.40" width="34.72" height="20.01" fill="#2b80c5"/>
<rect x="384.15" y="907.40" width="34.72" height="20.01" fill="#2b7fc4"/>
<rect x="418.87" y="907.40" width="34.72" height="20.01" fill="#2376bf"/>
<rect x="453.59" y="907.40" width="34.72" height="20.01" fill="#2c80c5"/>
<rect x="488.31" y="907.40" width="34.72" height="20.01" fill="#fae5d9"/>
<rect x="523.02" y="907.40" width="34.72" height="20.01" fill="#2579c1"/>
<rect x="557.74" y="907.40" width="34.72" height="20.01" fill="#287bc2"/>
<rect x="592.46" y="907.40" width="34.72" height="20.01" fill="#2e84c7"/>
<rect x="627.18" y="907.40" width="34.72" height="20.01" fill="#2b80c5"/>
<rect x="661.89" y="907.40" width="34.72" height="20.01" fill="#2b80c5"/>
<rect x="696.61" y="907.40" width="34.72" height="20.01" fill="#287cc2"/>
<rect x="731.33" y="907.40" width="34.72" height="20.01" fill="#2b7fc4"/>
<rect x="766.05" y="907.40" width="34.72" height="20.01" fill="#297dc3"/>
<rect x="800.76" y="907.40" width="34.72" height="20.01" fill="#277bc2"/>
<rect x="835.48" y="907.40" width="34.72" height="20.01" fill="#287cc2"/>
<rect x="870.20" y="907.40" width="34.72" height="20.01" fill="#277bc2"/>
<rect x="904.92" y="907.40" width="34.72" height="20.01" fill="#2b7fc4"/>
<rect x="939.64" y="907.40" width="34.72" height="20.01" fill="#2a7ec4"/>
<rect x="974.35" y="907.40" width="34.72" height="20.01" fill="#277bc2"/>
<rect x="1009.07" y="907.40" width="34.72" height="20.01" fill="#388fcd"/>
<rect x="1043.79" y="907.40" width="34.72" height="20.01" fill="#3085c8"/>
<rect x="1078.51" y="907.40" width="34.72" height="20.01" fill="#50a0d4"/>
<rect x="1113.22" y="907.40" width="34.72" height="20.01" fill="#8bc2e1"/>
<rect x="1147.94" y="907.40" width="34.72" height="20.01" fill="#3085c8"/>
<rect x="1182.66" y="907.40" width="34.72" height="20.01" fill="#348acb"/>
<rect x="1217.38" y="907.40" width="34.72" height="20.01" fill="#f89973"/>
<rect x="1252.09" y="907.40" width="34.72" height="20.01" fill="#348acb"/>
<rect x="1286.81" y="907.40" width="34.72" height="20.01" fill="#50a0d4"/>
<rect x="1321.53" y="907.40" width="34.72" height="20.01" fill="#469ad2"/>
<rect x="1356.25" y="907.40" width="34.72" height="20.01" fill="#5aa6d6"/>
<rect x="1390.96" y="907.40" width="34.72" height="20.01" fill="#50a0d4"/>
<rect x="1425.68" y="907.40" width="34.72" height="20.01" fill="#469ad2"/>
<rect x="280.00" y="927.41" width="34.72" height="20.01" fill="#2c81c6"/>
<rect x="314.72" y="927.41" width="34.72" height="20.01" fill="#2e83c7"/>
<rect x="349.44" y="927.41" width="34.72" height="20.01" fill="#2e83c6"/>
<rect x="384.15" y="927.41" width="34.72" height="20.01" fill="#2b7fc4"/>
<rect x="418.87" y="927.41" width="34.72" height="20.01" fill="#2376bf"/>
<rect x="453.59" y="927.41" width="34.72" height="20.01" fill="#2d82c6"/>
<rect x="488.31" y="927.41" width="34.72" height="20.01" fill="#fcdfce"/>
<rect x="523.02" y="927.41" width="34.72" height="20.01" fill="#2d82c6"/>
<rect x="557.74" y="927.41" width="34.72" height="20.01" fill="#2d81c6"/>
<rect x="592.46" y="927.41" width="34.72" height="20.01" fill="#2579c1"/>
<rect x="627.18" y="927.41" width="34.72" height="20.01" fill="#2f84c7"/>
<rect x="661.89" y="927.41" width="34.72" height="20.01" fill="#2d81c6"/>
<rect x="696.61" y="927.41" width="34.72" height="20.01" fill="#297dc3"/>
<rect x="731.33" y="927.41" width="34.72" height="20.01" fill="#2c81c5"/>
<rect x="766.05" y="927.41" width="34.72" height="20.01" fill="#287cc3"/>
<rect x="800.76" y="927.41" width="34.72" height="20.01" fill="#287bc2"/>
<rect x="835.48" y="927.41" width="34.72" height="20.01" fill="#2a7ec4"/>
<rect x="870.20" y="927.41" width="34.72" height="20.01" fill="#2a7fc4"/>
<rect x="904.92" y="927.41" width="34.72" height="20.01" fill="#2a7ec4"/>
<rect x="939.64" y="927.41" width="34.72" height="20.01" fill="#2a7ec4"/>
<rect x="974.35" y="927.41" width="34.72" height="20.01" fill="#2a7fc4"/>
<rect x="1009.07" y="927.41" width="34.72" height="20.01" fill="#287bc2"/>
<rect x="1043.79" y="927.41" width="34.72" height="20.01" fill="#388fcd"/>
<rect x="1078.51" y="927.41" width="34.72" height="20.01" fill="#add3e8"/>
<rect x="1113.22" y="927.41" width="34.72" height="20.01" fill="#469ad2"/>
<rect x="1147.94" y="927.41" width="34.72" height="20.01" fill="#348acb"/>
<rect x="1182.66" y="927.41" width="34.72" height="20.01" fill="#348acb"/>
<rect x="1217.38" y="927.41" width="34.72" height="20.01" fill="#fbb08b"/>
<rect x="1252.09" y="927.41" width="34.72" height="20.01" fill="#348acb"/>
<rect x="1286.81" y="927.41" width="34.72" height="20.01" fill="#469ad2"/>
<rect x="1321.53" y="927.41" width="34.72" height="20.01" fill="#3d94d0"/>
<rect x="1356.25" y="927.41" width="34.72" height="20.01" fill="#5aa6d6"/>
<rect x="1390.96" y="927.41" width="34.72" height="20.01" fill="#add3e8"/>
<rect x="1425.68" y="927.41" width="34.72" height="20.01" fill="#6eb1db"/>
<rect x="280.00" y="947.42" width="34.72" height="20.01" fill="#2d82c6"/>
<rect x="314.72" y="947.42" width="34.72" height="20.01" fill="#2d81c6"/>
<rect x="349.44" y="947.42" width="34.72" height="20.01" fill="#2e83c6"/>
<rect x="384.15" y="947.42" width="34.72" height="20.01" fill="#2d81c6"/>
<rect x="418.87" y="947.42" width="34.72" height="20.01" fill="#2376bf"/>
<rect x="453.59" y="947.42" width="34.72" height="20.01" fill="#2e83c6"/>
<rect x="488.31" y="947.42" width="34.72" height="20.01" fill="#fbe2d3"/>
<rect x="523.02" y="947.42" width="34.72" height="20.01" fill="#2c81c5"/>
<rect x="557.74" y="947.42" width="34.72" height="20.01" fill="#2d82c6"/>
<rect x="592.46" y="947.42" width="34.72" height="20.01" fill="#2f84c7"/>
<rect x="627.18" y="947.42" width="34.72" height="20.01" fill="#2b7fc4"/>
<rect x="661.89" y="947.42" width="34.72" height="20.01" fill="#2d82c6"/>
<rect x="696.61" y="947.42" width="34.72" height="20.01" fill="#277bc2"/>
<rect x="731.33" y="947.42" width="34.72" height="20.01" fill="#2c81c5"/>
<rect x="766.05" y="947.42" width="34.72" height="20.01" fill="#2b7fc4"/>
<rect x="800.76" y="947.42" width="34.72" height="20.01" fill="#297dc3"/>
<rect x="835.48" y="947.42" width="34.72" height="20.01" fill="#277bc2"/>
<rect x="870.20" y="947.42" width="34.72" height="20.01" fill="#297dc3"/>
<rect x="904.92" y="947.42" width="34.72" height="20.01" fill="#297dc3"/>
<rect x="939.64" y="947.42" width="34.72" height="20.01" fill="#2a7ec4"/>
<rect x="974.35" y="947.42" width="34.72" height="20.01" fill="#297dc3"/>
<rect x="1009.07" y="947.42" width="34.72" height="20.01" fill="#81bddf"/>
<rect x="1043.79" y="947.42" width="34.72" height="20.01" fill="#2c80c5"/>
<rect x="1078.51" y="947.42" width="34.72" height="20.01" fill="#6eb1db"/>
<rect x="1113.22" y="947.42" width="34.72" height="20.01" fill="#388fcd"/>
<rect x="1147.94" y="947.42" width="34.72" height="20.01" fill="#3085c8"/>
<rect x="1182.66" y="947.42" width="34.72" height="20.01" fill="#3085c8"/>
<rect x="1217.38" y="947.42" width="34.72" height="20.01" fill="#f28966"/>
<rect x="1252.09" y="947.42" width="34.72" height="20.01" fill="#348acb"/>
<rect x="1286.81" y="947.42" width="34.72" height="20.01" fill="#388fcd"/>
<rect x="1321.53" y="947.42" width="34.72" height="20.01" fill="#348acb"/>
<rect x="1356.25" y="947.42" width="34.72" height="20.01" fill="#388fcd"/>
<rect x="1390.96" y="947.42" width="34.72" height="20.01" fill="#469ad2"/>
<rect x="1425.68" y="947.42" width="34.72" height="20.01" fill="#469ad2"/>
<rect x="280.00" y="967.43" width="34.72" height="20.01" fill="#2c81c5"/>
<rect x="314.72" y="967.43" width="34.72" height="20.01" fill="#2c81c6"/>
<rect x="349.44" y="967.43" width="34.72" height="20.01" fill="#2b7fc4"/>
<rect x="384.15" y="967.43" width="34.72" height="20.01" fill="#2a7fc4"/>
<rect x="418.87" y="967.43" width="34.72" height="20.01" fill="#2477c0"/>
<rect x="453.59" y="967.43" width="34.72" height="20.01" fill="#2e83c6"/>
<rect x="488.31" y="967.43" width="34.72" height="20.01" fill="#fae5d9"/>
<rect x="523.02" y="967.43" width="34.72" height="20.01" fill="#2c81c5"/>
<rect x="557.74" y="967.43" width="34.72" height="20.01" fill="#2c80c5"/>
<rect x="592.46" y="967.43" width="34.72" height="20.01" fill="#2e83c6"/>
<rect x="627.18" y="967.43" width="34.72" height="20.01" fill="#2f84c7"/>
<rect x="661.89" y="967.43" width="34.72" height="20.01" fill="#2d82c6"/>
<rect x="696.61" y="967.43" width="34.72" height="20.01" fill="#287bc2"/>
<rect x="731.33" y="967.43" width="34.72" height="20.01" fill="#2c81c6"/>
<rect x="766.05" y="967.43" width="34.72" height="20.01" fill="#287cc3"/>
<rect x="800.76" y="967.43" width="34.72" height="20.01" fill="#287bc2"/>
<rect x="835.48" y="967.43" width="34.72" height="20.01" fill="#277bc2"/>
<rect x="870.20" y="967.43" width="34.72" height="20.01" fill="#2a7ec4"/>
<rect x="904.92" y="967.43" width="34.72" height="20.01" fill="#2a7ec4"/>
<rect x="939.64" y="967.43" width="34.72" height="20.01" fill="#297dc3"/>
<rect x="974.35" y="967.43" width="34.72" height="20.01" fill="#297dc3"/>
<rect x="1009.07" y="967.43" width="34.72" height="20.01" fill="#388fcd"/>
<rect x="1043.79" y="967.43" width="34.72" height="20.01" fill="#3085c8"/>
<rect x="1078.51" y="967.43" width="34.72" height="20.01" fill="#6eb1db"/>
<rect x="1113.22" y="967.43" width="34.72" height="20.01" fill="#2c80c5"/>
<rect x="1147.94" y="967.43" width="34.72" height="20.01" fill="#3085c8"/>
<rect x="1182.66" y="967.43" width="34.72" height="20.01" fill="#3085c8"/>
<rect x="1217.38" y="967.43" width="34.72" height="20.01" fill="#f08060"/>
<rect x="1252.09" y="967.43" width="34.72" height="20.01" fill="#287bc2"/>
<rect x="1286.81" y="967.43" width="34.72" height="20.01" fill="#50a0d4"/>
<rect x="1321.53" y="967.43" width="34.72" height="20.01" fill="#388fcd"/>
<rect x="1356.25" y="967.43" width="34.72" height="20.01" fill="#50a0d4"/>
<rect x="1390.96" y="967.43" width="34.72" height="20.01" fill="#50a0d4"/>
<rect x="1425.68" y="967.43" width="34.72" height="20.01" fill="#5aa6d6"/>
<rect x="280.00" y="987.44" width="34.72" height="20.01" fill="#2e84c7"/>
<rect x="314.72" y="987.44" width="34.72" height="20.01" fill="#2c81c5"/>
<rect x="349.44" y="987.44" width="34.72" height="20.01" fill="#2c81c5"/>
<rect x="384.15" y="987.44" width="34.72" height="20.01" fill="#2a7ec4"/>
<rect x="418.87" y="987.44" width="34.72" height="20.01" fill="#2477c0"/>
<rect x="453.59" y="987.44" width="34.72" height="20.01" fill="#2c80c5"/>
<rect x="488.31" y="987.44" width="34.72" height="20.01" fill="#f9e8de"/>
<rect x="523.02" y="987.44" width="34.72" height="20.01" fill="#2e83c6"/>
<rect x="557.74" y="987.44" width="34.72" height="20.01" fill="#2c81c5"/>
<rect x="592.46" y="987.44" width="34.72" height="20.01" fill="#2c81c5"/>
<rect x="627.18" y="987.44" width="34.72" height="20.01" fill="#2c81c5"/>
<rect x="661.89" y="987.44" width="34.72" height="20.01" fill="#2d82c6"/>
<rect x="696.61" y="987.44" width="34.72" height="20.01" fill="#287cc3"/>
<rect x="731.33" y="987.44" width="34.72" height="20.01" fill="#2c80c5"/>
<rect x="766.05" y="987.44" width="34.72" height="20.01" fill="#297ec3"/>
<rect x="800.76" y="987.44" width="34.72" height="20.01" fill="#287cc3"/>
<rect x="835.48" y="987.44" width="34.72" height="20.01" fill="#2b7fc4"/>
<rect x="870.20" y="987.44" width="34.72" height="20.01" fill="#2a7fc4"/>
<rect x="904.92" y="987.44" width="34.72" height="20.01" fill="#277bc2"/>
<rect x="939.64" y="987.44" width="34.72" height="20.01" fill="#2a7ec4"/>
<rect x="974.35" y="987.44" width="34.72" height="20.01" fill="#2a7fc4"/>
<rect x="1009.07" y="987.44" width="34.72" height="20.01" fill="#348acb"/>
<rect x="1043.79" y="987.44" width="34.72" height="20.01" fill="#2c80c5"/>
<rect x="1078.51" y="987.44" width="34.72" height="20.01" fill="#81bddf"/>
<rect x="1113.22" y="987.44" width="34.72" height="20.01" fill="#3085c8"/>
<rect x="1147.94" y="987.44" width="34.72" height="20.01" fill="#3085c8"/>
<rect x="1182.66" y="987.44" width="34.72" height="20.01" fill="#3085c8"/>
<rect x="1217.38" y="987.44" width="34.72" height="20.01" fill="#f08060"/>
<rect x="1252.09" y="987.44" width="34.72" height="20.01" fill="#2c80c5"/>
<rect x="1286.81" y="987.44" width="34.72" height="20.01" fill="#5aa6d6"/>
<rect x="1321.53" y="987.44" width="34.72" height="20.01" fill="#3d94d0"/>
<rect x="1356.25" y="987.44" width="34.72" height="20.01" fill="#64abd8"/>
<rect x="1390.96" y="987.44" width="34.72" height="20.01" fill="#5aa6d6"/>
<rect x="1425.68" y="987.44" width="34.72" height="20.01" fill="#64abd8"/>
<rect x="280.00" y="1007.45" width="34.72" height="20.01" fill="#2c81c5"/>
<rect x="314.72" y="1007.45" width="34.72" height="20.01" fill="#2b80c5"/>
<rect x="349.44" y="1007.45" width="34.72" height="20.01" fill="#2f84c7"/>
<rect x="384.15" y="1007.45" width="34.72" height="20.01" fill="#2c81c5"/>
<rect x="418.87" y="1007.45" width="34.72" height="20.01" fill="#2376bf"/>
<rect x="453.59" y="1007.45" width="34.72" height="20.01" fill="#2f84c7"/>
<rect x="488.31" y="1007.45" width="34.72" height="20.01" fill="#f8ebe4"/>
<rect x="523.02" y="1007.45" width="34.72" height="20.01" fill="#2e83c7"/>
<rect x="557.74" y="1007.45" width="34.72" height="20.01" fill="#2e83c6"/>
<rect x="592.46" y="1007.45" width="34.72" height="20.01" fill="#2f84c7"/>
<rect x="627.18" y="1007.45" width="34.72" height="20.01" fill="#2e83c7"/>
<rect x="661.89" y="1007.45" width="34.72" height="20.01" fill="#2e84c7"/>
<rect x="696.61" y="1007.45" width="34.72" height="20.01" fill="#277bc2"/>
<rect x="731.33" y="1007.45" width="34.72" height="20.01" fill="#2c81c5"/>
<rect x="766.05" y="1007.45" width="34.72" height="20.01" fill="#297dc3"/>
<rect x="800.76" y="1007.45" width="34.72" height="20.01" fill="#2a7ec4"/>
<rect x="835.48" y="1007.45" width="34.72" height="20.01" fill="#287cc3"/>
<rect x="870.20" y="1007.45" width="34.72" height="20.01" fill="#2a7fc4"/>
<rect x="904.92" y="1007.45" width="34.72" height="20.01" fill="#297dc3"/>
<rect x="939.64" y="1007.45" width="34.72" height="20.01" fill="#287cc2"/>
<rect x="974.35" y="1007.45" width="34.72" height="20.01" fill="#287bc2"/>
<rect x="1009.07" y="1007.45" width="34.72" height="20.01" fill="#348acb"/>
<rect x="1043.79" y="1007.45" width="34.72" height="20.01" fill="#2c80c5"/>
<rect x="1078.51" y="1007.45" width="34.72" height="20.01" fill="#77b7dd"/>
<rect x="1113.22" y="1007.45" width="34.72" height="20.01" fill="#388fcd"/>
<rect x="1147.94" y="1007.45" width="34.72" height="20.01" fill="#348acb"/>
<rect x="1182.66" y="1007.45" width="34.72" height="20.01" fill="#348acb"/>
<rect x="1217.38" y="1007.45" width="34.72" height="20.01" fill="#f28966"/>
<rect x="1252.09" y="1007.45" width="34.72" height="20.01" fill="#388fcd"/>
<rect x="1286.81" y="1007.45" width="34.72" height="20.01" fill="#5aa6d6"/>
<rect x="1321.53" y="1007.45" width="34.72" height="20.01" fill="#469ad2"/>
<rect x="1356.25" y="1007.45" width="34.72" height="20.01" fill="#6eb1db"/>
<rect x="1390.96" y="1007.45" width="34.72" height="20.01" fill="#64abd8"/>
<rect x="1425.68" y="1007.45" width="34.72" height="20.01" fill="#6eb1db"/>
<rect x="280.00" y="1027.46" width="34.72" height="20.01" fill="#2e83c6"/>
<rect x="314.72" y="1027.46" width="34.72" height="20.01" fill="#2e84c7"/>
<rect x="349.44" y="1027.46" width="34.72" height="20.01" fill="#2c81c5"/>
<rect x="384.15" y="1027.46" width="34.72" height="20.01" fill="#2a7fc4"/>
<rect x="418.87" y="1027.46" width="34.72" height="20.01" fill="#277ac1"/>
<rect x="453.59" y="1027.46" width="34.72" height="20.01" fill="#2b80c5"/>
<rect x="488.31" y="1027.46" width="34.72" height="20.01" fill="#fdceb6"/>
<rect x="523.02" y="1027.46" width="34.72" height="20.01" fill="#2d82c6"/>
<rect x="557.74" y="1027.46" width="34.72" height="20.01" fill="#2b7fc4"/>
<rect x="592.46" y="1027.46" width="34.72" height="20.01" fill="#2d82c6"/>
<rect x="627.18" y="1027.46" width="34.72" height="20.01" fill="#2e83c6"/>
<rect x="661.89" y="1027.46" width="34.72" height="20.01" fill="#2f84c7"/>
<rect x="696.61" y="1027.46" width="34.72" height="20.01" fill="#287cc3"/>
<rect x="731.33" y="1027.46" width="34.72" height="20.01" fill="#2d82c6"/>
<rect x="766.05" y="1027.46" width="34.72" height="20.01" fill="#297dc3"/>
<rect x="800.76" y="1027.46" width="34.72" height="20.01" fill="#297dc3"/>
<rect x="835.48" y="1027.46" width="34.72" height="20.01" fill="#2a7fc4"/>
<rect x="870.20" y="1027.46" width="34.72" height="20.01" fill="#277ac2"/>
<rect x="904.92" y="1027.46" width="34.72" height="20.01" fill="#2a7ec4"/>
<rect x="939.64" y="1027.46" width="34.72" height="20.01" fill="#297dc3"/>
<rect x="974.35" y="1027.46" width="34.72" height="20.01" fill="#287cc3"/>
<rect x="1009.07" y="1027.46" width="34.72" height="20.01" fill="#cfe4ef"/>
<rect x="1043.79" y="1027.46" width="34.72" height="20.01" fill="#3085c8"/>
<rect x="1078.51" y="1027.46" width="34.72" height="20.01" fill="#3d94d0"/>
<rect x="1113.22" y="1027.46" width="34.72" height="20.01" fill="#6eb1db"/>
<rect x="1147.94" y="1027.46" width="34.72" height="20.01" fill="#3085c8"/>
<rect x="1182.66" y="1027.46" width="34.72" height="20.01" fill="#3085c8"/>
<rect x="1217.38" y="1027.46" width="34.72" height="20.01" fill="#fdd9c4"/>
<rect x="1252.09" y="1027.46" width="34.72" height="20.01" fill="#3d94d0"/>
<rect x="1286.81" y="1027.46" width="34.72" height="20.01" fill="#287bc2"/>
<rect x="1321.53" y="1027.46" width="34.72" height="20.01" fill="#77b7dd"/>
<rect x="1356.25" y="1027.46" width="34.72" height="20.01" fill="#c7e0ee"/>
<rect x="1390.96" y="1027.46" width="34.72" height="20.01" fill="#5aa6d6"/>
<rect x="1425.68" y="1027.46" width="34.72" height="20.01" fill="#94c7e3"/>
<rect x="280.00" y="1047.47" width="34.72" height="20.01" fill="#2d82c6"/>
<rect x="314.72" y="1047.47" width="34.72" height="20.01" fill="#2c81c5"/>
<rect x="349.44" y="1047.47" width="34.72" height="20.01" fill="#2d82c6"/>
<rect x="384.15" y="1047.47" width="34.72" height="20.01" fill="#2d82c6"/>
<rect x="418.87" y="1047.47" width="34.72" height="20.01" fill="#2174be"/>
<rect x="453.59" y="1047.47" width="34.72" height="20.01" fill="#2e83c7"/>
<rect x="488.31" y="1047.47" width="34.72" height="20.01" fill="#fae3d6"/>
<rect x="523.02" y="1047.47" width="34.72" height="20.01" fill="#2c81c5"/>
<rect x="557.74" y="1047.47" width="34.72" height="20.01" fill="#2c81c5"/>
<rect x="592.46" y="1047.47" width="34.72" height="20.01" fill="#2d82c6"/>
<rect x="627.18" y="1047.47" width="34.72" height="20.01" fill="#2d82c6"/>
<rect x="661.89" y="1047.47" width="34.72" height="20.01" fill="#2e83c7"/>
<rect x="696.61" y="1047.47" width="34.72" height="20.01" fill="#2174be"/>
<rect x="731.33" y="1047.47" width="34.72" height="20.01" fill="#2c81c5"/>
<rect x="766.05" y="1047.47" width="34.72" height="20.01" fill="#2376bf"/>
<rect x="800.76" y="1047.47" width="34.72" height="20.01" fill="#2376bf"/>
<rect x="835.48" y="1047.47" width="34.72" height="20.01" fill="#2376bf"/>
<rect x="870.20" y="1047.47" width="34.72" height="20.01" fill="#2376bf"/>
<rect x="904.92" y="1047.47" width="34.72" height="20.01" fill="#2376bf"/>
<rect x="939.64" y="1047.47" width="34.72" height="20.01" fill="#2376bf"/>
<rect x="974.35" y="1047.47" width="34.72" height="20.01" fill="#2376bf"/>
<rect x="1009.07" y="1047.47" width="34.72" height="20.01" fill="#eaeff3"/>
<rect x="1043.79" y="1047.47" width="34.72" height="20.01" fill="#3d94d0"/>
<rect x="1078.51" y="1047.47" width="34.72" height="20.01" fill="#469ad2"/>
<rect x="1113.22" y="1047.47" width="34.72" height="20.01" fill="#469ad2"/>
<rect x="1147.94" y="1047.47" width="34.72" height="20.01" fill="#3085c8"/>
<rect x="1182.66" y="1047.47" width="34.72" height="20.01" fill="#3085c8"/>
<rect x="1217.38" y="1047.47" width="34.72" height="20.01" fill="#fdd9c4"/>
<rect x="1252.09" y="1047.47" width="34.72" height="20.01" fill="#348acb"/>
<rect x="1286.81" y="1047.47" width="34.72" height="20.01" fill="#94c7e3"/>
<rect x="1321.53" y="1047.47" width="34.72" height="20.01" fill="#c7e0ee"/>
<rect x="1356.25" y="1047.47" width="34.72" height="20.01" fill="#c7e0ee"/>
<rect x="1390.96" y="1047.47" width="34.72" height="20.01" fill="#5aa6d6"/>
<rect x="1425.68" y="1047.47" width="34.72" height="20.01" fill="#add3e8"/>
<rect x="280.00" y="1067.48" width="34.72" height="20.01" fill="#2e83c7"/>
<rect x="314.72" y="1067.48" width="34.72" height="20.01" fill="#2b80c5"/>
<rect x="349.44" y="1067.48" width="34.72" height="20.01" fill="#2c80c5"/>
<rect x="384.15" y="1067.48" width="34.72" height="20.01" fill="#297dc3"/>
<rect x="418.87" y="1067.48" width="34.72" height="20.01" fill="#2679c1"/>
<rect x="453.59" y="1067.48" width="34.72" height="20.01" fill="#2f84c7"/>
<rect x="488.31" y="1067.48" width="34.72" height="20.01" fill="#fcbd9e"/>
<rect x="523.02" y="1067.48" width="34.72" height="20.01" fill="#2c81c5"/>
<rect x="557.74" y="1067.48" width="34.72" height="20.01" fill="#2e83c7"/>
<rect x="592.46" y="1067.48" width="34.72" height="20.01" fill="#2e83c7"/>
<rect x="627.18" y="1067.48" width="34.72" height="20.01" fill="#2d82c6"/>
<rect x="661.89" y="1067.48" width="34.72" height="20.01" fill="#2c81c5"/>
<rect x="696.61" y="1067.48" width="34.72" height="20.01" fill="#287cc2"/>
<rect x="731.33" y="1067.48" width="34.72" height="20.01" fill="#2b7fc4"/>
<rect x="766.05" y="1067.48" width="34.72" height="20.01" fill="#287cc2"/>
<rect x="800.76" y="1067.48" width="34.72" height="20.01" fill="#287cc3"/>
<rect x="835.48" y="1067.48" width="34.72" height="20.01" fill="#297ec3"/>
<rect x="870.20" y="1067.48" width="34.72" height="20.01" fill="#2b7fc4"/>
<rect x="904.92" y="1067.48" width="34.72" height="20.01" fill="#277bc2"/>
<rect x="939.64" y="1067.48" width="34.72" height="20.01" fill="#297dc3"/>
<rect x="974.35" y="1067.48" width="34.72" height="20.01" fill="#277ac2"/>
<rect x="1009.07" y="1067.48" width="34.72" height="20.01" fill="#fae3d6"/>
<rect x="1043.79" y="1067.48" width="34.72" height="20.01" fill="#2c80c5"/>
<rect x="1078.51" y="1067.48" width="34.72" height="20.01" fill="#81bddf"/>
<rect x="1113.22" y="1067.48" width="34.72" height="20.01" fill="#2c80c5"/>
<rect x="1147.94" y="1067.48" width="34.72" height="20.01" fill="#3085c8"/>
<rect x="1182.66" y="1067.48" width="34.72" height="20.01" fill="#3085c8"/>
<rect x="1217.38" y="1067.48" width="34.72" height="20.01" fill="#edf0f4"/>
<rect x="1252.09" y="1067.48" width="34.72" height="20.01" fill="#2c80c5"/>
<rect x="1286.81" y="1067.48" width="34.72" height="20.01" fill="#2c80c5"/>
<rect x="1321.53" y="1067.48" width="34.72" height="20.01" fill="#5aa6d6"/>
<rect x="1356.25" y="1067.48" width="34.72" height="20.01" fill="#5aa6d6"/>
<rect x="1390.96" y="1067.48" width="34.72" height="20.01" fill="#469ad2"/>
<rect x="1425.68" y="1067.48" width="34.72" height="20.01" fill="#5aa6d6"/>
<rect x="280.00" y="1087.49" width="34.72" height="20.01" fill="#2e83c6"/>
<rect x="314.72" y="1087.49" width="34.72" height="20.01" fill="#2c80c5"/>
<rect x="349.44" y="1087.49" width="34.72" height="20.01" fill="#2b80c5"/>
<rect x="384.15" y="1087.49" width="34.72" height="20.01" fill="#297dc3"/>
<rect x="418.87" y="1087.49" width="34.72" height="20.01" fill="#2375bf"/>
<rect x="453.59" y="1087.49" width="34.72" height="20.01" fill="#2e83c6"/>
<rect x="488.31" y="1087.49" width="34.72" height="20.01" fill="#fdd5bf"/>
<rect x="523.02" y="1087.49" width="34.72" height="20.01" fill="#2f84c7"/>
<rect x="557.74" y="1087.49" width="34.72" height="20.01" fill="#2b80c5"/>
<rect x="592.46" y="1087.49" width="34.72" height="20.01" fill="#2e84c7"/>
<rect x="627.18" y="1087.49" width="34.72" height="20.01" fill="#2b80c5"/>
<rect x="661.89" y="1087.49" width="34.72" height="20.01" fill="#2b7fc4"/>
<rect x="696.61" y="1087.49" width="34.72" height="20.01" fill="#2a7ec4"/>
<rect x="731.33" y="1087.49" width="34.72" height="20.01" fill="#2a7fc4"/>
<rect x="766.05" y="1087.49" width="34.72" height="20.01" fill="#2a7ec4"/>
<rect x="800.76" y="1087.49" width="34.72" height="20.01" fill="#277bc2"/>
<rect x="835.48" y="1087.49" width="34.72" height="20.01" fill="#277bc2"/>
<rect x="870.20" y="1087.49" width="34.72" height="20.01" fill="#2a7ec4"/>
<rect x="904.92" y="1087.49" width="34.72" height="20.01" fill="#2a7ec4"/>
<rect x="939.64" y="1087.49" width="34.72" height="20.01" fill="#2a7fc4"/>
<rect x="974.35" y="1087.49" width="34.72" height="20.01" fill="#2a7ec4"/>
<rect x="1009.07" y="1087.49" width="34.72" height="20.01" fill="#f8e9e1"/>
<rect x="1043.79" y="1087.49" width="34.72" height="20.01" fill="#3085c8"/>
<rect x="1078.51" y="1087.49" width="34.72" height="20.01" fill="#348acb"/>
<rect x="1113.22" y="1087.49" width="34.72" height="20.01" fill="#3d94d0"/>
<rect x="1147.94" y="1087.49" width="34.72" height="20.01" fill="#348acb"/>
<rect x="1182.66" y="1087.49" width="34.72" height="20.01" fill="#348acb"/>
<rect x="1217.38" y="1087.49" width="34.72" height="20.01" fill="#fcddcb"/>
<rect x="1252.09" y="1087.49" width="34.72" height="20.01" fill="#3085c8"/>
<rect x="1286.81" y="1087.49" width="34.72" height="20.01" fill="#469ad2"/>
<rect x="1321.53" y="1087.49" width="34.72" height="20.01" fill="#64abd8"/>
<rect x="1356.25" y="1087.49" width="34.72" height="20.01" fill="#50a0d4"/>
<rect x="1390.96" y="1087.49" width="34.72" height="20.01" fill="#50a0d4"/>
<rect x="1425.68" y="1087.49" width="34.72" height="20.01" fill="#469ad2"/>
</g>
<path d="M352.5 7.8L1062.3 7.8M352.5 7.8L352.5 95.0M1062.3 7.8L1062.3 73.7M297.4 95.0L407.3 95.0M297.4 95.0L297.4 147.0M407.3 95.0L407.3 110.0M349.4 110.0L466.0 110.0M349.4 110.0L349.4 141.5M332.1 141.5L366.8 141.5M332.1 141.5L332.1 147.0M366.8 141.5L366.8 147.0M466.0 110.0L466.0 121.8M418.8 121.8L512.7 121.8M418.8 121.8L418.8 128.4M401.5 128.4L436.2 128.4M401.5 128.4L401.5 147.0M436.2 128.4L436.2 147.0M512.7 121.8L512.7 125.3M470.9 125.3L554.5 125.3M470.9 125.3L470.9 147.0M554.5 125.3L554.5 126.6M505.7 126.6L601.5 126.6M505.7 126.6L505.7 147.0M601.5 126.6L601.5 131.3M557.7 131.3L645.3 131.3M557.7 131.3L557.7 145.3M540.4 145.3L575.1 145.3M540.4 145.3L540.4 147.0M575.1 145.3L575.1 147.0M645.3 131.3L645.3 133.2M609.8 133.2L680.8 133.2M609.8 133.2L609.8 147.0M680.8 133.2L680.8 135.5M644.5 133.8L680.8 133.8M644.5 133.8L644.5 147.0M680.8 135.5L713.5 135.5M713.5 135.5L713.5 147.0M679.3 141.8L749.0 141.8M679.3 141.8L679.3 147.0M749.0 142.8L783.5 142.8M713.5 143.3L760.0 143.3M783.5 144.4L818.0 144.4M818.0 145.7L1008.0 145.7M1026.4 73.7L1099.0 73.7M1026.4 73.7L1026.4 147.0M1099.0 73.7L1099.0 91.4M1061.1 91.4L1137.0 91.4M1061.1 91.4L1061.1 147.0M1137.0 91.4L1137.0 94.5M1095.9 94.5L1179.0 94.5M1095.9 94.5L1095.9 147.0M1179.0 94.5L1179.0 104.6M1130.6 104.6L1226.8 104.6M1130.6 104.6L1130.6 147.0M1226.8 104.6L1226.8 108.7M1182.3 108.7L1271.7 108.7M1182.3 108.7L1182.3 127.0M1165.3 127.0L1200.0 127.0M1165.3 127.0L1165.3 147.0M1200.0 127.0L1200.0 147.0M1271.7 108.7L1271.7 110.5M1234.7 110.5L1308.6 110.5M1234.7 110.5L1234.7 147.0M1308.6 110.5L1308.6 118.9M1269.5 118.9L1346.7 118.9M1269.5 118.9L1269.5 147.0M1346.7 118.9L1346.7 123.2M1304.2 123.2L1391.0 123.2M1304.2 123.2L1304.2 147.0M1391.0 123.2L1391.0 125.7M1355.6 125.7L1425.4 125.7M1355.6 125.7L1355.6 135.9M1338.9 135.9L1373.6 135.9M1338.9 135.9L1338.9 147.0M1373.6 135.9L1373.6 147.0M1425.4 125.7L1425.4 131.6M1408.3 131.6L1443.0 131.6M1408.3 131.6L1408.3 147.0M1443.0 131.6L1443.0 147.0M7.2 320.4L7.2 883.2M7.2 320.4L110.0 320.4M7.2 883.2L74.2 883.2M110.0 166.9L110.0 472.4M110.0 166.9L128.2 166.9M128.2 157.0L128.2 177.0M128.2 157.0L148.7 157.0M128.2 177.0L148.7 177.0M110.0 472.4L122.2 472.4M122.2 368.9L122.2 576.1M122.2 368.9L137.2 368.9M137.2 245.6L137.2 492.7M137.2 245.6L141.2 245.6M141.2 197.0L141.2 294.0M141.2 197.0L148.7 197.0M141.2 294.0L143.3 294.0M143.3 237.0L143.3 356.0M142.6 300.0L142.6 356.0M143.3 237.0L145.4 237.0M145.4 217.0L145.4 257.1M145.4 217.0L148.7 217.0M145.4 257.1L148.7 257.1M145.6 277.1L145.6 458.0M144.6 330.0L144.6 420.0M145.6 277.1L148.7 277.1M137.2 492.7L141.2 492.7M141.2 477.2L141.2 507.2M141.2 477.2L148.7 477.2M141.2 507.2L143.3 507.2M143.3 497.2L143.3 517.2M143.3 497.2L148.7 497.2M143.3 517.2L148.7 517.2M122.2 576.1L127.8 576.1M127.8 547.1L127.8 605.0M127.8 547.1L137.1 547.1M137.1 537.2L137.1 557.2M137.1 537.2L148.7 537.2M137.1 557.2L148.7 557.2M127.8 605.0L133.0 605.0M133.0 577.2L133.0 632.0M133.0 577.2L148.7 577.2M133.0 632.0L140.2 632.0M140.2 597.2L140.2 657.0M140.2 597.2L148.7 597.2M140.2 657.0L141.8 657.0M141.8 617.2L141.8 680.0M141.8 617.2L148.7 617.2M141.8 680.0L143.2 680.0M143.2 637.3L143.2 700.0M143.2 637.3L148.7 637.3M144.4 657.3L144.4 712.0M144.4 657.3L148.7 657.3M145.6 677.3L145.6 717.3M145.6 677.3L148.7 677.3M74.2 774.9L74.2 991.9M74.2 774.9L103.9 774.9M103.9 747.1L103.9 803.2M103.9 747.1L125.0 747.1M125.0 737.3L125.0 757.3M125.0 737.3L148.7 737.3M125.0 757.3L148.7 757.3M103.9 803.2L116.5 803.2M116.5 777.3L116.5 830.3M116.5 777.3L148.7 777.3M116.5 830.3L126.3 830.3M126.3 807.1L126.3 852.7M126.3 807.1L139.2 807.1M139.2 797.3L139.2 817.3M139.2 797.3L148.7 797.3M139.2 817.3L148.7 817.3M126.3 852.7L132.7 852.7M132.7 837.4L132.7 867.2M132.7 837.4L148.7 837.4M132.7 867.2L138.7 867.2M138.7 857.4L138.7 877.4M138.7 857.4L148.7 857.4M138.7 877.4L148.7 877.4M74.2 991.9L100.0 991.9M100.0 917.2L100.0 1067.9M100.0 917.2L123.2 917.2M123.2 897.4L123.2 937.3M123.2 897.4L148.7 897.4M123.2 937.3L137.9 937.3M137.9 917.4L137.9 957.4M137.9 917.4L148.7 917.4M137.9 957.4L139.4 957.4M139.4 937.4L139.4 977.0M139.4 937.4L148.7 937.4M139.4 977.0L141.8 977.0M141.8 957.4L141.8 995.0M141.8 957.4L148.7 957.4M141.8 995.0L144.0 995.0M144.0 977.4L144.0 1007.0M144.0 977.4L148.7 977.4M145.6 997.4L145.6 1017.5M145.6 997.4L148.7 997.4M145.6 1017.5L148.7 1017.5M144.0 1007.0L145.6 1007.0M100.0 1067.9L119.3 1067.9M119.3 1047.1L119.3 1087.1M119.3 1047.1L133.5 1047.1M133.5 1037.5L133.5 1057.5M133.5 1037.5L148.7 1037.5M133.5 1057.5L148.7 1057.5M119.3 1087.1L133.5 1087.1M133.5 1077.5L133.5 1097.5M133.5 1077.5L148.7 1077.5M133.5 1097.5L148.7 1097.5" stroke="#1c1c1c" stroke-width="2.5" fill="none" stroke-linecap="square"/>
<g font-family="'Liberation Serif', serif" fill="#000">
<g font-size="21.6">
<text x="1464.4" y="163.8">P32</text>
<text x="1464.4" y="183.8">P38</text>
<text x="1464.4" y="203.9">P16</text>
<text x="1464.4" y="223.9">P20</text>
<text x="1464.4" y="244.0">P19</text>
<text x="1464.4" y="264.0">P21</text>
<text x="1464.4" y="284.1">P37</text>
<text x="1464.4" y="304.1">P14</text>
<text x="1464.4" y="324.2">P23</text>
<text x="1464.4" y="344.2">P2</text>
<text x="1464.4" y="364.2">P15</text>
<text x="1464.4" y="384.3">P5</text>
<text x="1464.4" y="404.3">P30</text>
<text x="1464.4" y="424.4">P6</text>
<text x="1464.4" y="444.4">P7</text>
<text x="1464.4" y="464.5">P18</text>
<text x="1464.4" y="484.5">P25</text>
<text x="1464.4" y="504.6">P13</text>
<text x="1464.4" y="524.6">P28</text>
<text x="1464.4" y="544.7">P8</text>
<text x="1464.4" y="564.7">P12</text>
<text x="1464.4" y="584.7">P43</text>
<text x="1464.4" y="604.8">P29</text>
<text x="1464.4" y="624.8">P35</text>
<text x="1464.4" y="644.9">P11</text>
<text x="1464.4" y="664.9">P27</text>
<text x="1464.4" y="685.0">P9</text>
<text x="1464.4" y="705.0">P10</text>
<text x="1464.4" y="725.1">P26</text>
<text x="1464.4" y="745.1">P1</text>
<text x="1464.4" y="765.2">P34</text>
<text x="1464.4" y="785.2">P22</text>
<text x="1464.4" y="805.2">P39</text>
<text x="1464.4" y="825.3">P40</text>
<text x="1464.4" y="845.3">P42</text>
<text x="1464.4" y="865.4">P47</text>
<text x="1464.4" y="885.4">P48</text>
<text x="1464.4" y="905.5">P17</text>
<text x="1464.4" y="925.5">P36</text>
<text x="1464.4" y="945.6">P31</text>
<text x="1464.4" y="965.6">P33</text>
<text x="1464.4" y="985.6">P4</text>
<text x="1464.4" y="1005.7">P3</text>
<text x="1464.4" y="1025.7">P41</text>
<text x="1464.4" y="1045.8">P45</text>
<text x="1464.4" y="1065.8">P46</text>
<text x="1464.4" y="1085.9">P24</text>
<text x="1464.4" y="1105.9">P44</text>
</g>
<g font-size="33.55" text-anchor="end">
<text transform="translate(168.9 1124.8) rotate(-90)" font-weight="bold" font-size="33.2">Disease condition</text>
<text transform="translate(203.6 1124.8) rotate(-90)" font-weight="bold" font-size="33.2">Sex</text>
<text transform="translate(238.4 1124.8) rotate(-90)" font-weight="bold" font-size="33.2">Hypertension</text>
<text transform="translate(273.1 1124.8) rotate(-90)" font-weight="bold" font-size="33.2">Diabetics</text>
<text transform="translate(307.7 1124.0) rotate(-90)">Lymphocyte</text>
<text transform="translate(342.4 1124.0) rotate(-90)">RDW-SD</text>
<text transform="translate(377.1 1124.0) rotate(-90)">RDW-CV</text>
<text transform="translate(411.8 1124.0) rotate(-90)">No. of days at hospital</text>
<text transform="translate(446.5 1124.0) rotate(-90)">Eosinophils</text>
<text transform="translate(481.2 1124.0) rotate(-90)">PDW</text>
<text transform="translate(516.0 1124.0) rotate(-90)">Ferritin</text>
<text transform="translate(550.7 1124.0) rotate(-90)">WBCs</text>
<text transform="translate(585.4 1124.0) rotate(-90)">Neutrophils.1</text>
<text transform="translate(620.1 1124.0) rotate(-90)">Monocyte</text>
<text transform="translate(654.8 1124.0) rotate(-90)">HGB</text>
<text transform="translate(689.6 1124.0) rotate(-90)">HSCs (34<tspan class="sp" dy="-10">+</tspan><tspan dy="10" font-size="1"> </tspan>/38<tspan class="sp" dy="-10">−</tspan><tspan dy="10" font-size="1"> </tspan>/45RA<tspan class="sp" dy="-10">−</tspan><tspan dy="10" font-size="1"> </tspan>/90<tspan class="sp" dy="-10">+</tspan><tspan dy="10" font-size="1"> </tspan>/49F<tspan class="sp" dy="-10">+</tspan><tspan dy="10" font-size="1"> </tspan>)</text>
<text transform="translate(724.3 1124.0) rotate(-90)">D-dimer</text>
<text transform="translate(759.0 1124.0) rotate(-90)">MPV</text>
<text transform="translate(793.7 1124.0) rotate(-90)">RBCs</text>
<text transform="translate(828.4 1124.0) rotate(-90)">Relative-lymphocyte</text>
<text transform="translate(863.1 1124.0) rotate(-90)">Relative-monocyte</text>
<text transform="translate(897.9 1124.0) rotate(-90)">Basophils</text>
<text transform="translate(932.6 1124.0) rotate(-90)">PCT</text>
<text transform="translate(967.3 1124.0) rotate(-90)">Relative-eosinophils</text>
<text transform="translate(1002.0 1124.0) rotate(-90)">Relative-basophils</text>
<text transform="translate(1036.7 1124.0) rotate(-90)">CRP</text>
<text transform="translate(1071.4 1124.0) rotate(-90)">P-LCR</text>
<text transform="translate(1106.2 1124.0) rotate(-90)">MEPs (34<tspan class="sp" dy="-10">+</tspan><tspan dy="10" font-size="1"> </tspan>/38<tspan class="sp" dy="-10">+</tspan><tspan dy="10" font-size="1"> </tspan>/45RA<tspan class="sp" dy="-10">−</tspan><tspan dy="10" font-size="1"> </tspan>/123<tspan class="sp" dy="-10">−</tspan><tspan dy="10" font-size="1"> </tspan>)</text>
<text transform="translate(1140.9 1124.0) rotate(-90)">CMPs (34<tspan class="sp" dy="-10">+</tspan><tspan dy="10" font-size="1"> </tspan>/38<tspan class="sp" dy="-10">+</tspan><tspan dy="10" font-size="1"> </tspan>/45RA<tspan class="sp" dy="-10">−</tspan><tspan dy="10" font-size="1"> </tspan>/123<tspan class="sp" dy="-10">+</tspan><tspan dy="10" font-size="1"> </tspan>)</text>
<text transform="translate(1175.6 1124.0) rotate(-90)">MCH</text>
<text transform="translate(1210.3 1124.0) rotate(-90)">MCHC</text>
<text transform="translate(1245.0 1124.0) rotate(-90)">Platelets</text>
<text transform="translate(1279.8 1124.0) rotate(-90)">HCT</text>
<text transform="translate(1314.5 1124.0) rotate(-90)">Age</text>
<text transform="translate(1349.2 1124.0) rotate(-90)">GMPs (34<tspan class="sp" dy="-10">+</tspan><tspan dy="10" font-size="1"> </tspan>/38<tspan class="sp" dy="-10">+</tspan><tspan dy="10" font-size="1"> </tspan>/45RA<tspan class="sp" dy="-10">+</tspan><tspan dy="10" font-size="1"> </tspan>/123<tspan class="sp" dy="-10">+</tspan><tspan dy="10" font-size="1"> </tspan>)</text>
<text transform="translate(1383.9 1124.0) rotate(-90)">MCV</text>
<text transform="translate(1418.6 1124.0) rotate(-90)">MPPs (34<tspan class="sp" dy="-10">+</tspan><tspan dy="10" font-size="1"> </tspan>/38<tspan class="sp" dy="-10">−</tspan><tspan dy="10" font-size="1"> </tspan>/45RA<tspan class="sp" dy="-10">−</tspan><tspan dy="10" font-size="1"> </tspan>/90<tspan class="sp" dy="-10">−</tspan><tspan dy="10" font-size="1"> </tspan>/49F<tspan class="sp" dy="-10">−</tspan><tspan dy="10" font-size="1"> </tspan>)</text>
<text transform="translate(1453.3 1124.0) rotate(-90)">Neutrophils</text>
</g>
<rect x="1529" y="147" width="27.5" height="400.5" fill="url(#cb)"/>
<g font-size="34.6">
<text x="1562.6" y="514.6">0</text>
<text x="1562.6" y="453.4">1</text>
<text x="1562.6" y="392.3">2</text>
<text x="1562.6" y="331.1">3</text>
<text x="1562.6" y="270.0">4</text>
<text x="1562.6" y="208.8">5</text>
</g>
<text x="1606.3" y="158.4" font-size="33.4" font-weight="bold">Disease condition</text>
<rect x="1605.6" y="175.9" width="39" height="38.7" fill="#ee1c25" stroke="#8c8c8c" stroke-width="1"/>
<text x="1648.2" y="206.5" font-size="33.8">Non-sevcre</text>
<rect x="1605.6" y="214.6" width="39" height="39.4" fill="#2a7cbd" stroke="#8c8c8c" stroke-width="1"/>
<text x="1648.2" y="241.7" font-size="33.8">Severe</text>
<text x="1606.3" y="294.9" font-size="33.4" font-weight="bold">Sex</text>
<rect x="1605.6" y="310.2" width="39" height="38.8" fill="#ee1c25" stroke="#8c8c8c" stroke-width="1"/>
<text x="1648.2" y="340.8" font-size="33.8">Female</text>
<rect x="1605.6" y="349.0" width="39" height="39.1" fill="#2a7cbd" stroke="#8c8c8c" stroke-width="1"/>
<text x="1648.2" y="378.7" font-size="33.8">Male</text>
<text x="1606.3" y="428.4" font-size="33.4" font-weight="bold">Hypertension</text>
<rect x="1605.6" y="445.7" width="39" height="37.9" fill="#ee1c25" stroke="#8c8c8c" stroke-width="1"/>
<text x="1648.2" y="475.3" font-size="33.8">No</text>
<rect x="1605.6" y="483.6" width="39" height="38.6" fill="#2a7cbd" stroke="#8c8c8c" stroke-width="1"/>
<text x="1648.2" y="511.3" font-size="33.8">Yes</text>
<text x="1606.3" y="565.4" font-size="33.4" font-weight="bold">Diabetics</text>
<rect x="1605.6" y="579.9" width="39" height="37.8" fill="#ee1c25" stroke="#8c8c8c" stroke-width="1"/>
<text x="1648.2" y="610.5" font-size="33.8">No</text>
<rect x="1605.6" y="617.7" width="39" height="39.0" fill="#2a7cbd" stroke="#8c8c8c" stroke-width="1"/>
<text x="1648.2" y="647.3" font-size="33.8">Yes</text>
</g>
</svg>
</body></html>
